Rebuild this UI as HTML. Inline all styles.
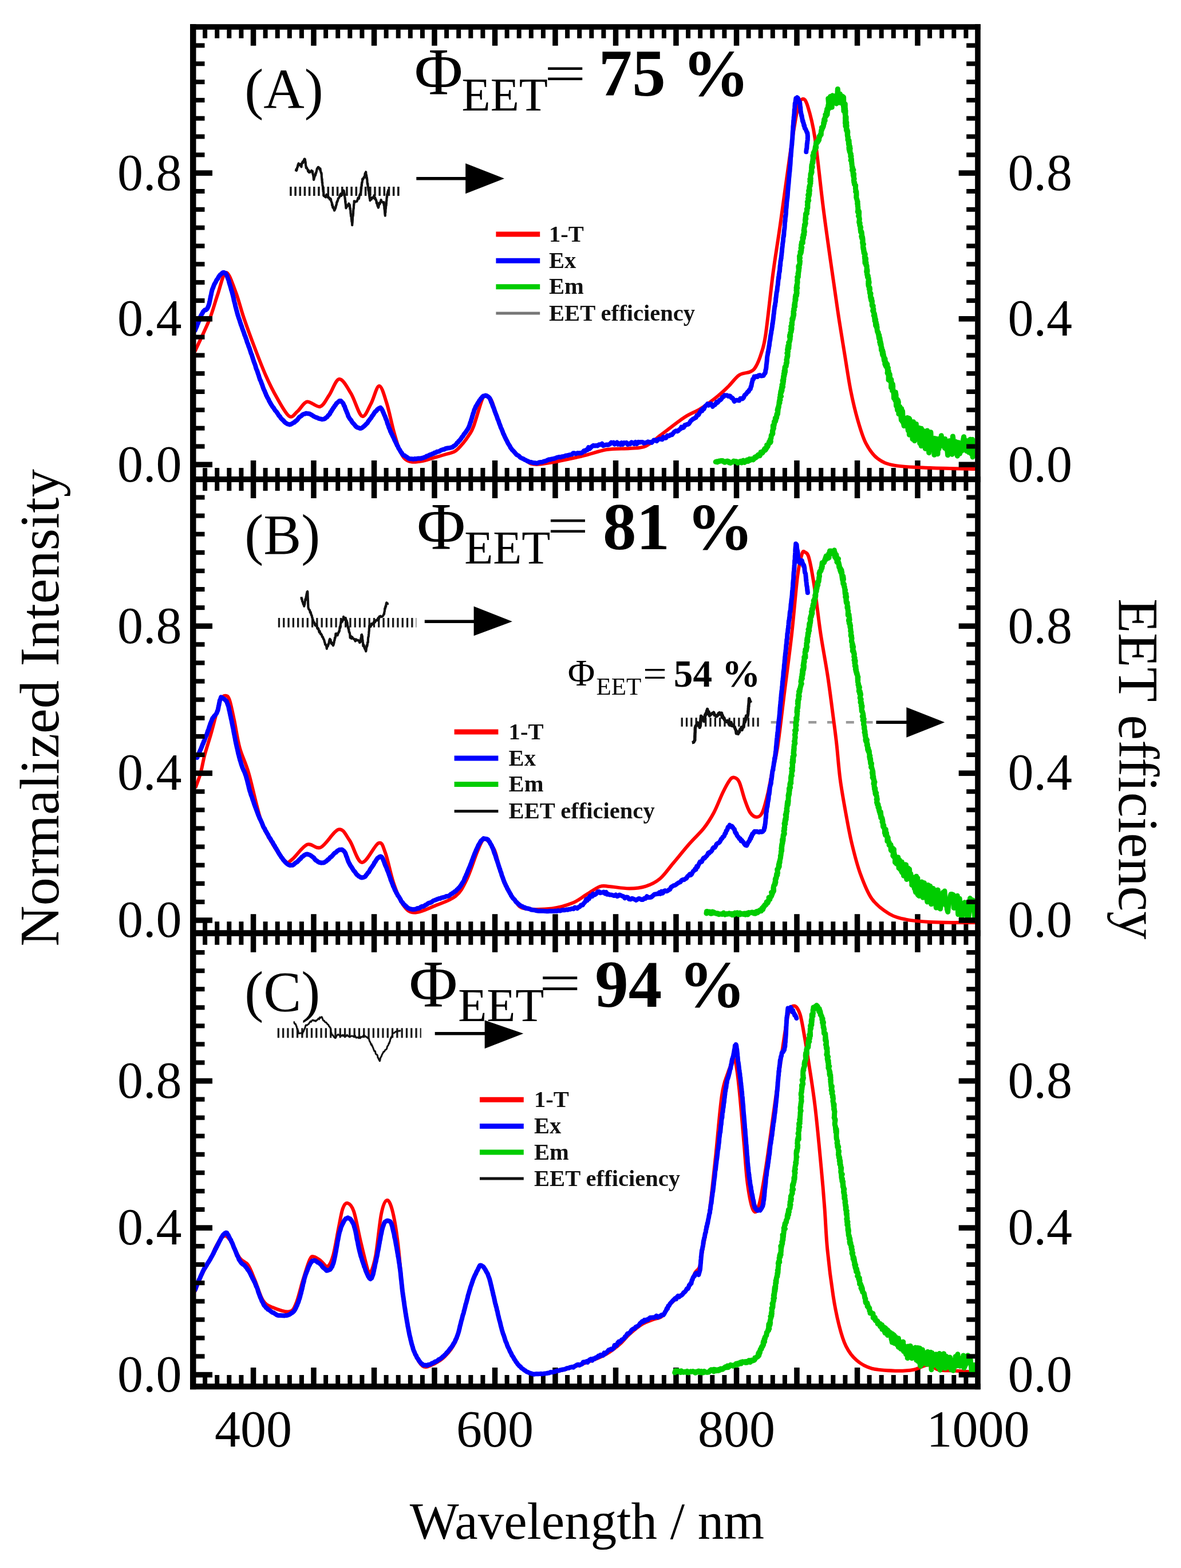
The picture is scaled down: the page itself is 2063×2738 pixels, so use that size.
<!DOCTYPE html>
<html><head><meta charset="utf-8"><title>EET spectra</title>
<style>
html,body{margin:0;padding:0;background:#fff;}
body{width:2063px;height:2738px;overflow:hidden;}
svg{display:block;}
text{font-family:'Liberation Serif', 'Times New Roman', serif;}
</style></head><body>
<svg width="2063" height="2738" viewBox="0 0 2063 2738">
<rect x="0" y="0" width="2063" height="2738" fill="#fff"/>
<rect x="332.0" y="42.2" width="1380.8" height="9.6" fill="#000"/>
<rect x="332.0" y="832.0" width="1380.8" height="10.0" fill="#000"/>
<rect x="332.0" y="1624.2" width="1380.8" height="10.6" fill="#000"/>
<rect x="332.0" y="2416.0" width="1380.8" height="10.2" fill="#000"/>
<rect x="354.1" y="51.3" width="8.0" height="15.5" fill="#000"/>
<rect x="354.1" y="841.5" width="8.0" height="15.5" fill="#000"/>
<rect x="354.1" y="817.0" width="8.0" height="15.5" fill="#000"/>
<rect x="354.1" y="1634.3" width="8.0" height="15.5" fill="#000"/>
<rect x="354.1" y="1609.2" width="8.0" height="15.5" fill="#000"/>
<rect x="354.1" y="2401.0" width="8.0" height="15.5" fill="#000"/>
<rect x="375.2" y="51.3" width="8.0" height="15.5" fill="#000"/>
<rect x="375.2" y="841.5" width="8.0" height="15.5" fill="#000"/>
<rect x="375.2" y="817.0" width="8.0" height="15.5" fill="#000"/>
<rect x="375.2" y="1634.3" width="8.0" height="15.5" fill="#000"/>
<rect x="375.2" y="1609.2" width="8.0" height="15.5" fill="#000"/>
<rect x="375.2" y="2401.0" width="8.0" height="15.5" fill="#000"/>
<rect x="396.3" y="51.3" width="8.0" height="15.5" fill="#000"/>
<rect x="396.3" y="841.5" width="8.0" height="15.5" fill="#000"/>
<rect x="396.3" y="817.0" width="8.0" height="15.5" fill="#000"/>
<rect x="396.3" y="1634.3" width="8.0" height="15.5" fill="#000"/>
<rect x="396.3" y="1609.2" width="8.0" height="15.5" fill="#000"/>
<rect x="396.3" y="2401.0" width="8.0" height="15.5" fill="#000"/>
<rect x="417.4" y="51.3" width="8.0" height="15.5" fill="#000"/>
<rect x="417.4" y="841.5" width="8.0" height="15.5" fill="#000"/>
<rect x="417.4" y="817.0" width="8.0" height="15.5" fill="#000"/>
<rect x="417.4" y="1634.3" width="8.0" height="15.5" fill="#000"/>
<rect x="417.4" y="1609.2" width="8.0" height="15.5" fill="#000"/>
<rect x="417.4" y="2401.0" width="8.0" height="15.5" fill="#000"/>
<rect x="437.8" y="51.3" width="9.5" height="28.5" fill="#000"/>
<rect x="437.8" y="841.5" width="9.5" height="28.5" fill="#000"/>
<rect x="437.8" y="804.0" width="9.5" height="28.5" fill="#000"/>
<rect x="437.8" y="1634.3" width="9.5" height="28.5" fill="#000"/>
<rect x="437.8" y="1596.2" width="9.5" height="28.5" fill="#000"/>
<rect x="437.8" y="2388.0" width="9.5" height="28.5" fill="#000"/>
<rect x="459.6" y="51.3" width="8.0" height="15.5" fill="#000"/>
<rect x="459.6" y="841.5" width="8.0" height="15.5" fill="#000"/>
<rect x="459.6" y="817.0" width="8.0" height="15.5" fill="#000"/>
<rect x="459.6" y="1634.3" width="8.0" height="15.5" fill="#000"/>
<rect x="459.6" y="1609.2" width="8.0" height="15.5" fill="#000"/>
<rect x="459.6" y="2401.0" width="8.0" height="15.5" fill="#000"/>
<rect x="480.7" y="51.3" width="8.0" height="15.5" fill="#000"/>
<rect x="480.7" y="841.5" width="8.0" height="15.5" fill="#000"/>
<rect x="480.7" y="817.0" width="8.0" height="15.5" fill="#000"/>
<rect x="480.7" y="1634.3" width="8.0" height="15.5" fill="#000"/>
<rect x="480.7" y="1609.2" width="8.0" height="15.5" fill="#000"/>
<rect x="480.7" y="2401.0" width="8.0" height="15.5" fill="#000"/>
<rect x="501.8" y="51.3" width="8.0" height="15.5" fill="#000"/>
<rect x="501.8" y="841.5" width="8.0" height="15.5" fill="#000"/>
<rect x="501.8" y="817.0" width="8.0" height="15.5" fill="#000"/>
<rect x="501.8" y="1634.3" width="8.0" height="15.5" fill="#000"/>
<rect x="501.8" y="1609.2" width="8.0" height="15.5" fill="#000"/>
<rect x="501.8" y="2401.0" width="8.0" height="15.5" fill="#000"/>
<rect x="522.9" y="51.3" width="8.0" height="15.5" fill="#000"/>
<rect x="522.9" y="841.5" width="8.0" height="15.5" fill="#000"/>
<rect x="522.9" y="817.0" width="8.0" height="15.5" fill="#000"/>
<rect x="522.9" y="1634.3" width="8.0" height="15.5" fill="#000"/>
<rect x="522.9" y="1609.2" width="8.0" height="15.5" fill="#000"/>
<rect x="522.9" y="2401.0" width="8.0" height="15.5" fill="#000"/>
<rect x="543.2" y="51.3" width="9.5" height="28.5" fill="#000"/>
<rect x="543.2" y="841.5" width="9.5" height="28.5" fill="#000"/>
<rect x="543.2" y="804.0" width="9.5" height="28.5" fill="#000"/>
<rect x="543.2" y="1634.3" width="9.5" height="28.5" fill="#000"/>
<rect x="543.2" y="1596.2" width="9.5" height="28.5" fill="#000"/>
<rect x="543.2" y="2388.0" width="9.5" height="28.5" fill="#000"/>
<rect x="565.1" y="51.3" width="8.0" height="15.5" fill="#000"/>
<rect x="565.1" y="841.5" width="8.0" height="15.5" fill="#000"/>
<rect x="565.1" y="817.0" width="8.0" height="15.5" fill="#000"/>
<rect x="565.1" y="1634.3" width="8.0" height="15.5" fill="#000"/>
<rect x="565.1" y="1609.2" width="8.0" height="15.5" fill="#000"/>
<rect x="565.1" y="2401.0" width="8.0" height="15.5" fill="#000"/>
<rect x="586.2" y="51.3" width="8.0" height="15.5" fill="#000"/>
<rect x="586.2" y="841.5" width="8.0" height="15.5" fill="#000"/>
<rect x="586.2" y="817.0" width="8.0" height="15.5" fill="#000"/>
<rect x="586.2" y="1634.3" width="8.0" height="15.5" fill="#000"/>
<rect x="586.2" y="1609.2" width="8.0" height="15.5" fill="#000"/>
<rect x="586.2" y="2401.0" width="8.0" height="15.5" fill="#000"/>
<rect x="607.3" y="51.3" width="8.0" height="15.5" fill="#000"/>
<rect x="607.3" y="841.5" width="8.0" height="15.5" fill="#000"/>
<rect x="607.3" y="817.0" width="8.0" height="15.5" fill="#000"/>
<rect x="607.3" y="1634.3" width="8.0" height="15.5" fill="#000"/>
<rect x="607.3" y="1609.2" width="8.0" height="15.5" fill="#000"/>
<rect x="607.3" y="2401.0" width="8.0" height="15.5" fill="#000"/>
<rect x="628.4" y="51.3" width="8.0" height="15.5" fill="#000"/>
<rect x="628.4" y="841.5" width="8.0" height="15.5" fill="#000"/>
<rect x="628.4" y="817.0" width="8.0" height="15.5" fill="#000"/>
<rect x="628.4" y="1634.3" width="8.0" height="15.5" fill="#000"/>
<rect x="628.4" y="1609.2" width="8.0" height="15.5" fill="#000"/>
<rect x="628.4" y="2401.0" width="8.0" height="15.5" fill="#000"/>
<rect x="648.8" y="51.3" width="9.5" height="28.5" fill="#000"/>
<rect x="648.8" y="841.5" width="9.5" height="28.5" fill="#000"/>
<rect x="648.8" y="804.0" width="9.5" height="28.5" fill="#000"/>
<rect x="648.8" y="1634.3" width="9.5" height="28.5" fill="#000"/>
<rect x="648.8" y="1596.2" width="9.5" height="28.5" fill="#000"/>
<rect x="648.8" y="2388.0" width="9.5" height="28.5" fill="#000"/>
<rect x="670.6" y="51.3" width="8.0" height="15.5" fill="#000"/>
<rect x="670.6" y="841.5" width="8.0" height="15.5" fill="#000"/>
<rect x="670.6" y="817.0" width="8.0" height="15.5" fill="#000"/>
<rect x="670.6" y="1634.3" width="8.0" height="15.5" fill="#000"/>
<rect x="670.6" y="1609.2" width="8.0" height="15.5" fill="#000"/>
<rect x="670.6" y="2401.0" width="8.0" height="15.5" fill="#000"/>
<rect x="691.7" y="51.3" width="8.0" height="15.5" fill="#000"/>
<rect x="691.7" y="841.5" width="8.0" height="15.5" fill="#000"/>
<rect x="691.7" y="817.0" width="8.0" height="15.5" fill="#000"/>
<rect x="691.7" y="1634.3" width="8.0" height="15.5" fill="#000"/>
<rect x="691.7" y="1609.2" width="8.0" height="15.5" fill="#000"/>
<rect x="691.7" y="2401.0" width="8.0" height="15.5" fill="#000"/>
<rect x="712.8" y="51.3" width="8.0" height="15.5" fill="#000"/>
<rect x="712.8" y="841.5" width="8.0" height="15.5" fill="#000"/>
<rect x="712.8" y="817.0" width="8.0" height="15.5" fill="#000"/>
<rect x="712.8" y="1634.3" width="8.0" height="15.5" fill="#000"/>
<rect x="712.8" y="1609.2" width="8.0" height="15.5" fill="#000"/>
<rect x="712.8" y="2401.0" width="8.0" height="15.5" fill="#000"/>
<rect x="733.9" y="51.3" width="8.0" height="15.5" fill="#000"/>
<rect x="733.9" y="841.5" width="8.0" height="15.5" fill="#000"/>
<rect x="733.9" y="817.0" width="8.0" height="15.5" fill="#000"/>
<rect x="733.9" y="1634.3" width="8.0" height="15.5" fill="#000"/>
<rect x="733.9" y="1609.2" width="8.0" height="15.5" fill="#000"/>
<rect x="733.9" y="2401.0" width="8.0" height="15.5" fill="#000"/>
<rect x="754.2" y="51.3" width="9.5" height="28.5" fill="#000"/>
<rect x="754.2" y="841.5" width="9.5" height="28.5" fill="#000"/>
<rect x="754.2" y="804.0" width="9.5" height="28.5" fill="#000"/>
<rect x="754.2" y="1634.3" width="9.5" height="28.5" fill="#000"/>
<rect x="754.2" y="1596.2" width="9.5" height="28.5" fill="#000"/>
<rect x="754.2" y="2388.0" width="9.5" height="28.5" fill="#000"/>
<rect x="776.1" y="51.3" width="8.0" height="15.5" fill="#000"/>
<rect x="776.1" y="841.5" width="8.0" height="15.5" fill="#000"/>
<rect x="776.1" y="817.0" width="8.0" height="15.5" fill="#000"/>
<rect x="776.1" y="1634.3" width="8.0" height="15.5" fill="#000"/>
<rect x="776.1" y="1609.2" width="8.0" height="15.5" fill="#000"/>
<rect x="776.1" y="2401.0" width="8.0" height="15.5" fill="#000"/>
<rect x="797.2" y="51.3" width="8.0" height="15.5" fill="#000"/>
<rect x="797.2" y="841.5" width="8.0" height="15.5" fill="#000"/>
<rect x="797.2" y="817.0" width="8.0" height="15.5" fill="#000"/>
<rect x="797.2" y="1634.3" width="8.0" height="15.5" fill="#000"/>
<rect x="797.2" y="1609.2" width="8.0" height="15.5" fill="#000"/>
<rect x="797.2" y="2401.0" width="8.0" height="15.5" fill="#000"/>
<rect x="818.3" y="51.3" width="8.0" height="15.5" fill="#000"/>
<rect x="818.3" y="841.5" width="8.0" height="15.5" fill="#000"/>
<rect x="818.3" y="817.0" width="8.0" height="15.5" fill="#000"/>
<rect x="818.3" y="1634.3" width="8.0" height="15.5" fill="#000"/>
<rect x="818.3" y="1609.2" width="8.0" height="15.5" fill="#000"/>
<rect x="818.3" y="2401.0" width="8.0" height="15.5" fill="#000"/>
<rect x="839.4" y="51.3" width="8.0" height="15.5" fill="#000"/>
<rect x="839.4" y="841.5" width="8.0" height="15.5" fill="#000"/>
<rect x="839.4" y="817.0" width="8.0" height="15.5" fill="#000"/>
<rect x="839.4" y="1634.3" width="8.0" height="15.5" fill="#000"/>
<rect x="839.4" y="1609.2" width="8.0" height="15.5" fill="#000"/>
<rect x="839.4" y="2401.0" width="8.0" height="15.5" fill="#000"/>
<rect x="859.8" y="51.3" width="9.5" height="28.5" fill="#000"/>
<rect x="859.8" y="841.5" width="9.5" height="28.5" fill="#000"/>
<rect x="859.8" y="804.0" width="9.5" height="28.5" fill="#000"/>
<rect x="859.8" y="1634.3" width="9.5" height="28.5" fill="#000"/>
<rect x="859.8" y="1596.2" width="9.5" height="28.5" fill="#000"/>
<rect x="859.8" y="2388.0" width="9.5" height="28.5" fill="#000"/>
<rect x="881.6" y="51.3" width="8.0" height="15.5" fill="#000"/>
<rect x="881.6" y="841.5" width="8.0" height="15.5" fill="#000"/>
<rect x="881.6" y="817.0" width="8.0" height="15.5" fill="#000"/>
<rect x="881.6" y="1634.3" width="8.0" height="15.5" fill="#000"/>
<rect x="881.6" y="1609.2" width="8.0" height="15.5" fill="#000"/>
<rect x="881.6" y="2401.0" width="8.0" height="15.5" fill="#000"/>
<rect x="902.7" y="51.3" width="8.0" height="15.5" fill="#000"/>
<rect x="902.7" y="841.5" width="8.0" height="15.5" fill="#000"/>
<rect x="902.7" y="817.0" width="8.0" height="15.5" fill="#000"/>
<rect x="902.7" y="1634.3" width="8.0" height="15.5" fill="#000"/>
<rect x="902.7" y="1609.2" width="8.0" height="15.5" fill="#000"/>
<rect x="902.7" y="2401.0" width="8.0" height="15.5" fill="#000"/>
<rect x="923.8" y="51.3" width="8.0" height="15.5" fill="#000"/>
<rect x="923.8" y="841.5" width="8.0" height="15.5" fill="#000"/>
<rect x="923.8" y="817.0" width="8.0" height="15.5" fill="#000"/>
<rect x="923.8" y="1634.3" width="8.0" height="15.5" fill="#000"/>
<rect x="923.8" y="1609.2" width="8.0" height="15.5" fill="#000"/>
<rect x="923.8" y="2401.0" width="8.0" height="15.5" fill="#000"/>
<rect x="944.9" y="51.3" width="8.0" height="15.5" fill="#000"/>
<rect x="944.9" y="841.5" width="8.0" height="15.5" fill="#000"/>
<rect x="944.9" y="817.0" width="8.0" height="15.5" fill="#000"/>
<rect x="944.9" y="1634.3" width="8.0" height="15.5" fill="#000"/>
<rect x="944.9" y="1609.2" width="8.0" height="15.5" fill="#000"/>
<rect x="944.9" y="2401.0" width="8.0" height="15.5" fill="#000"/>
<rect x="965.2" y="51.3" width="9.5" height="28.5" fill="#000"/>
<rect x="965.2" y="841.5" width="9.5" height="28.5" fill="#000"/>
<rect x="965.2" y="804.0" width="9.5" height="28.5" fill="#000"/>
<rect x="965.2" y="1634.3" width="9.5" height="28.5" fill="#000"/>
<rect x="965.2" y="1596.2" width="9.5" height="28.5" fill="#000"/>
<rect x="965.2" y="2388.0" width="9.5" height="28.5" fill="#000"/>
<rect x="987.1" y="51.3" width="8.0" height="15.5" fill="#000"/>
<rect x="987.1" y="841.5" width="8.0" height="15.5" fill="#000"/>
<rect x="987.1" y="817.0" width="8.0" height="15.5" fill="#000"/>
<rect x="987.1" y="1634.3" width="8.0" height="15.5" fill="#000"/>
<rect x="987.1" y="1609.2" width="8.0" height="15.5" fill="#000"/>
<rect x="987.1" y="2401.0" width="8.0" height="15.5" fill="#000"/>
<rect x="1008.2" y="51.3" width="8.0" height="15.5" fill="#000"/>
<rect x="1008.2" y="841.5" width="8.0" height="15.5" fill="#000"/>
<rect x="1008.2" y="817.0" width="8.0" height="15.5" fill="#000"/>
<rect x="1008.2" y="1634.3" width="8.0" height="15.5" fill="#000"/>
<rect x="1008.2" y="1609.2" width="8.0" height="15.5" fill="#000"/>
<rect x="1008.2" y="2401.0" width="8.0" height="15.5" fill="#000"/>
<rect x="1029.3" y="51.3" width="8.0" height="15.5" fill="#000"/>
<rect x="1029.3" y="841.5" width="8.0" height="15.5" fill="#000"/>
<rect x="1029.3" y="817.0" width="8.0" height="15.5" fill="#000"/>
<rect x="1029.3" y="1634.3" width="8.0" height="15.5" fill="#000"/>
<rect x="1029.3" y="1609.2" width="8.0" height="15.5" fill="#000"/>
<rect x="1029.3" y="2401.0" width="8.0" height="15.5" fill="#000"/>
<rect x="1050.4" y="51.3" width="8.0" height="15.5" fill="#000"/>
<rect x="1050.4" y="841.5" width="8.0" height="15.5" fill="#000"/>
<rect x="1050.4" y="817.0" width="8.0" height="15.5" fill="#000"/>
<rect x="1050.4" y="1634.3" width="8.0" height="15.5" fill="#000"/>
<rect x="1050.4" y="1609.2" width="8.0" height="15.5" fill="#000"/>
<rect x="1050.4" y="2401.0" width="8.0" height="15.5" fill="#000"/>
<rect x="1070.8" y="51.3" width="9.5" height="28.5" fill="#000"/>
<rect x="1070.8" y="841.5" width="9.5" height="28.5" fill="#000"/>
<rect x="1070.8" y="804.0" width="9.5" height="28.5" fill="#000"/>
<rect x="1070.8" y="1634.3" width="9.5" height="28.5" fill="#000"/>
<rect x="1070.8" y="1596.2" width="9.5" height="28.5" fill="#000"/>
<rect x="1070.8" y="2388.0" width="9.5" height="28.5" fill="#000"/>
<rect x="1092.6" y="51.3" width="8.0" height="15.5" fill="#000"/>
<rect x="1092.6" y="841.5" width="8.0" height="15.5" fill="#000"/>
<rect x="1092.6" y="817.0" width="8.0" height="15.5" fill="#000"/>
<rect x="1092.6" y="1634.3" width="8.0" height="15.5" fill="#000"/>
<rect x="1092.6" y="1609.2" width="8.0" height="15.5" fill="#000"/>
<rect x="1092.6" y="2401.0" width="8.0" height="15.5" fill="#000"/>
<rect x="1113.7" y="51.3" width="8.0" height="15.5" fill="#000"/>
<rect x="1113.7" y="841.5" width="8.0" height="15.5" fill="#000"/>
<rect x="1113.7" y="817.0" width="8.0" height="15.5" fill="#000"/>
<rect x="1113.7" y="1634.3" width="8.0" height="15.5" fill="#000"/>
<rect x="1113.7" y="1609.2" width="8.0" height="15.5" fill="#000"/>
<rect x="1113.7" y="2401.0" width="8.0" height="15.5" fill="#000"/>
<rect x="1134.8" y="51.3" width="8.0" height="15.5" fill="#000"/>
<rect x="1134.8" y="841.5" width="8.0" height="15.5" fill="#000"/>
<rect x="1134.8" y="817.0" width="8.0" height="15.5" fill="#000"/>
<rect x="1134.8" y="1634.3" width="8.0" height="15.5" fill="#000"/>
<rect x="1134.8" y="1609.2" width="8.0" height="15.5" fill="#000"/>
<rect x="1134.8" y="2401.0" width="8.0" height="15.5" fill="#000"/>
<rect x="1155.9" y="51.3" width="8.0" height="15.5" fill="#000"/>
<rect x="1155.9" y="841.5" width="8.0" height="15.5" fill="#000"/>
<rect x="1155.9" y="817.0" width="8.0" height="15.5" fill="#000"/>
<rect x="1155.9" y="1634.3" width="8.0" height="15.5" fill="#000"/>
<rect x="1155.9" y="1609.2" width="8.0" height="15.5" fill="#000"/>
<rect x="1155.9" y="2401.0" width="8.0" height="15.5" fill="#000"/>
<rect x="1176.2" y="51.3" width="9.5" height="28.5" fill="#000"/>
<rect x="1176.2" y="841.5" width="9.5" height="28.5" fill="#000"/>
<rect x="1176.2" y="804.0" width="9.5" height="28.5" fill="#000"/>
<rect x="1176.2" y="1634.3" width="9.5" height="28.5" fill="#000"/>
<rect x="1176.2" y="1596.2" width="9.5" height="28.5" fill="#000"/>
<rect x="1176.2" y="2388.0" width="9.5" height="28.5" fill="#000"/>
<rect x="1198.1" y="51.3" width="8.0" height="15.5" fill="#000"/>
<rect x="1198.1" y="841.5" width="8.0" height="15.5" fill="#000"/>
<rect x="1198.1" y="817.0" width="8.0" height="15.5" fill="#000"/>
<rect x="1198.1" y="1634.3" width="8.0" height="15.5" fill="#000"/>
<rect x="1198.1" y="1609.2" width="8.0" height="15.5" fill="#000"/>
<rect x="1198.1" y="2401.0" width="8.0" height="15.5" fill="#000"/>
<rect x="1219.2" y="51.3" width="8.0" height="15.5" fill="#000"/>
<rect x="1219.2" y="841.5" width="8.0" height="15.5" fill="#000"/>
<rect x="1219.2" y="817.0" width="8.0" height="15.5" fill="#000"/>
<rect x="1219.2" y="1634.3" width="8.0" height="15.5" fill="#000"/>
<rect x="1219.2" y="1609.2" width="8.0" height="15.5" fill="#000"/>
<rect x="1219.2" y="2401.0" width="8.0" height="15.5" fill="#000"/>
<rect x="1240.3" y="51.3" width="8.0" height="15.5" fill="#000"/>
<rect x="1240.3" y="841.5" width="8.0" height="15.5" fill="#000"/>
<rect x="1240.3" y="817.0" width="8.0" height="15.5" fill="#000"/>
<rect x="1240.3" y="1634.3" width="8.0" height="15.5" fill="#000"/>
<rect x="1240.3" y="1609.2" width="8.0" height="15.5" fill="#000"/>
<rect x="1240.3" y="2401.0" width="8.0" height="15.5" fill="#000"/>
<rect x="1261.4" y="51.3" width="8.0" height="15.5" fill="#000"/>
<rect x="1261.4" y="841.5" width="8.0" height="15.5" fill="#000"/>
<rect x="1261.4" y="817.0" width="8.0" height="15.5" fill="#000"/>
<rect x="1261.4" y="1634.3" width="8.0" height="15.5" fill="#000"/>
<rect x="1261.4" y="1609.2" width="8.0" height="15.5" fill="#000"/>
<rect x="1261.4" y="2401.0" width="8.0" height="15.5" fill="#000"/>
<rect x="1281.8" y="51.3" width="9.5" height="28.5" fill="#000"/>
<rect x="1281.8" y="841.5" width="9.5" height="28.5" fill="#000"/>
<rect x="1281.8" y="804.0" width="9.5" height="28.5" fill="#000"/>
<rect x="1281.8" y="1634.3" width="9.5" height="28.5" fill="#000"/>
<rect x="1281.8" y="1596.2" width="9.5" height="28.5" fill="#000"/>
<rect x="1281.8" y="2388.0" width="9.5" height="28.5" fill="#000"/>
<rect x="1303.6" y="51.3" width="8.0" height="15.5" fill="#000"/>
<rect x="1303.6" y="841.5" width="8.0" height="15.5" fill="#000"/>
<rect x="1303.6" y="817.0" width="8.0" height="15.5" fill="#000"/>
<rect x="1303.6" y="1634.3" width="8.0" height="15.5" fill="#000"/>
<rect x="1303.6" y="1609.2" width="8.0" height="15.5" fill="#000"/>
<rect x="1303.6" y="2401.0" width="8.0" height="15.5" fill="#000"/>
<rect x="1324.7" y="51.3" width="8.0" height="15.5" fill="#000"/>
<rect x="1324.7" y="841.5" width="8.0" height="15.5" fill="#000"/>
<rect x="1324.7" y="817.0" width="8.0" height="15.5" fill="#000"/>
<rect x="1324.7" y="1634.3" width="8.0" height="15.5" fill="#000"/>
<rect x="1324.7" y="1609.2" width="8.0" height="15.5" fill="#000"/>
<rect x="1324.7" y="2401.0" width="8.0" height="15.5" fill="#000"/>
<rect x="1345.8" y="51.3" width="8.0" height="15.5" fill="#000"/>
<rect x="1345.8" y="841.5" width="8.0" height="15.5" fill="#000"/>
<rect x="1345.8" y="817.0" width="8.0" height="15.5" fill="#000"/>
<rect x="1345.8" y="1634.3" width="8.0" height="15.5" fill="#000"/>
<rect x="1345.8" y="1609.2" width="8.0" height="15.5" fill="#000"/>
<rect x="1345.8" y="2401.0" width="8.0" height="15.5" fill="#000"/>
<rect x="1366.9" y="51.3" width="8.0" height="15.5" fill="#000"/>
<rect x="1366.9" y="841.5" width="8.0" height="15.5" fill="#000"/>
<rect x="1366.9" y="817.0" width="8.0" height="15.5" fill="#000"/>
<rect x="1366.9" y="1634.3" width="8.0" height="15.5" fill="#000"/>
<rect x="1366.9" y="1609.2" width="8.0" height="15.5" fill="#000"/>
<rect x="1366.9" y="2401.0" width="8.0" height="15.5" fill="#000"/>
<rect x="1387.2" y="51.3" width="9.5" height="28.5" fill="#000"/>
<rect x="1387.2" y="841.5" width="9.5" height="28.5" fill="#000"/>
<rect x="1387.2" y="804.0" width="9.5" height="28.5" fill="#000"/>
<rect x="1387.2" y="1634.3" width="9.5" height="28.5" fill="#000"/>
<rect x="1387.2" y="1596.2" width="9.5" height="28.5" fill="#000"/>
<rect x="1387.2" y="2388.0" width="9.5" height="28.5" fill="#000"/>
<rect x="1409.1" y="51.3" width="8.0" height="15.5" fill="#000"/>
<rect x="1409.1" y="841.5" width="8.0" height="15.5" fill="#000"/>
<rect x="1409.1" y="817.0" width="8.0" height="15.5" fill="#000"/>
<rect x="1409.1" y="1634.3" width="8.0" height="15.5" fill="#000"/>
<rect x="1409.1" y="1609.2" width="8.0" height="15.5" fill="#000"/>
<rect x="1409.1" y="2401.0" width="8.0" height="15.5" fill="#000"/>
<rect x="1430.2" y="51.3" width="8.0" height="15.5" fill="#000"/>
<rect x="1430.2" y="841.5" width="8.0" height="15.5" fill="#000"/>
<rect x="1430.2" y="817.0" width="8.0" height="15.5" fill="#000"/>
<rect x="1430.2" y="1634.3" width="8.0" height="15.5" fill="#000"/>
<rect x="1430.2" y="1609.2" width="8.0" height="15.5" fill="#000"/>
<rect x="1430.2" y="2401.0" width="8.0" height="15.5" fill="#000"/>
<rect x="1451.3" y="51.3" width="8.0" height="15.5" fill="#000"/>
<rect x="1451.3" y="841.5" width="8.0" height="15.5" fill="#000"/>
<rect x="1451.3" y="817.0" width="8.0" height="15.5" fill="#000"/>
<rect x="1451.3" y="1634.3" width="8.0" height="15.5" fill="#000"/>
<rect x="1451.3" y="1609.2" width="8.0" height="15.5" fill="#000"/>
<rect x="1451.3" y="2401.0" width="8.0" height="15.5" fill="#000"/>
<rect x="1472.4" y="51.3" width="8.0" height="15.5" fill="#000"/>
<rect x="1472.4" y="841.5" width="8.0" height="15.5" fill="#000"/>
<rect x="1472.4" y="817.0" width="8.0" height="15.5" fill="#000"/>
<rect x="1472.4" y="1634.3" width="8.0" height="15.5" fill="#000"/>
<rect x="1472.4" y="1609.2" width="8.0" height="15.5" fill="#000"/>
<rect x="1472.4" y="2401.0" width="8.0" height="15.5" fill="#000"/>
<rect x="1492.8" y="51.3" width="9.5" height="28.5" fill="#000"/>
<rect x="1492.8" y="841.5" width="9.5" height="28.5" fill="#000"/>
<rect x="1492.8" y="804.0" width="9.5" height="28.5" fill="#000"/>
<rect x="1492.8" y="1634.3" width="9.5" height="28.5" fill="#000"/>
<rect x="1492.8" y="1596.2" width="9.5" height="28.5" fill="#000"/>
<rect x="1492.8" y="2388.0" width="9.5" height="28.5" fill="#000"/>
<rect x="1514.6" y="51.3" width="8.0" height="15.5" fill="#000"/>
<rect x="1514.6" y="841.5" width="8.0" height="15.5" fill="#000"/>
<rect x="1514.6" y="817.0" width="8.0" height="15.5" fill="#000"/>
<rect x="1514.6" y="1634.3" width="8.0" height="15.5" fill="#000"/>
<rect x="1514.6" y="1609.2" width="8.0" height="15.5" fill="#000"/>
<rect x="1514.6" y="2401.0" width="8.0" height="15.5" fill="#000"/>
<rect x="1535.7" y="51.3" width="8.0" height="15.5" fill="#000"/>
<rect x="1535.7" y="841.5" width="8.0" height="15.5" fill="#000"/>
<rect x="1535.7" y="817.0" width="8.0" height="15.5" fill="#000"/>
<rect x="1535.7" y="1634.3" width="8.0" height="15.5" fill="#000"/>
<rect x="1535.7" y="1609.2" width="8.0" height="15.5" fill="#000"/>
<rect x="1535.7" y="2401.0" width="8.0" height="15.5" fill="#000"/>
<rect x="1556.8" y="51.3" width="8.0" height="15.5" fill="#000"/>
<rect x="1556.8" y="841.5" width="8.0" height="15.5" fill="#000"/>
<rect x="1556.8" y="817.0" width="8.0" height="15.5" fill="#000"/>
<rect x="1556.8" y="1634.3" width="8.0" height="15.5" fill="#000"/>
<rect x="1556.8" y="1609.2" width="8.0" height="15.5" fill="#000"/>
<rect x="1556.8" y="2401.0" width="8.0" height="15.5" fill="#000"/>
<rect x="1577.9" y="51.3" width="8.0" height="15.5" fill="#000"/>
<rect x="1577.9" y="841.5" width="8.0" height="15.5" fill="#000"/>
<rect x="1577.9" y="817.0" width="8.0" height="15.5" fill="#000"/>
<rect x="1577.9" y="1634.3" width="8.0" height="15.5" fill="#000"/>
<rect x="1577.9" y="1609.2" width="8.0" height="15.5" fill="#000"/>
<rect x="1577.9" y="2401.0" width="8.0" height="15.5" fill="#000"/>
<rect x="1598.2" y="51.3" width="9.5" height="28.5" fill="#000"/>
<rect x="1598.2" y="841.5" width="9.5" height="28.5" fill="#000"/>
<rect x="1598.2" y="804.0" width="9.5" height="28.5" fill="#000"/>
<rect x="1598.2" y="1634.3" width="9.5" height="28.5" fill="#000"/>
<rect x="1598.2" y="1596.2" width="9.5" height="28.5" fill="#000"/>
<rect x="1598.2" y="2388.0" width="9.5" height="28.5" fill="#000"/>
<rect x="1620.1" y="51.3" width="8.0" height="15.5" fill="#000"/>
<rect x="1620.1" y="841.5" width="8.0" height="15.5" fill="#000"/>
<rect x="1620.1" y="817.0" width="8.0" height="15.5" fill="#000"/>
<rect x="1620.1" y="1634.3" width="8.0" height="15.5" fill="#000"/>
<rect x="1620.1" y="1609.2" width="8.0" height="15.5" fill="#000"/>
<rect x="1620.1" y="2401.0" width="8.0" height="15.5" fill="#000"/>
<rect x="1641.2" y="51.3" width="8.0" height="15.5" fill="#000"/>
<rect x="1641.2" y="841.5" width="8.0" height="15.5" fill="#000"/>
<rect x="1641.2" y="817.0" width="8.0" height="15.5" fill="#000"/>
<rect x="1641.2" y="1634.3" width="8.0" height="15.5" fill="#000"/>
<rect x="1641.2" y="1609.2" width="8.0" height="15.5" fill="#000"/>
<rect x="1641.2" y="2401.0" width="8.0" height="15.5" fill="#000"/>
<rect x="1662.3" y="51.3" width="8.0" height="15.5" fill="#000"/>
<rect x="1662.3" y="841.5" width="8.0" height="15.5" fill="#000"/>
<rect x="1662.3" y="817.0" width="8.0" height="15.5" fill="#000"/>
<rect x="1662.3" y="1634.3" width="8.0" height="15.5" fill="#000"/>
<rect x="1662.3" y="1609.2" width="8.0" height="15.5" fill="#000"/>
<rect x="1662.3" y="2401.0" width="8.0" height="15.5" fill="#000"/>
<rect x="1683.4" y="51.3" width="8.0" height="15.5" fill="#000"/>
<rect x="1683.4" y="841.5" width="8.0" height="15.5" fill="#000"/>
<rect x="1683.4" y="817.0" width="8.0" height="15.5" fill="#000"/>
<rect x="1683.4" y="1634.3" width="8.0" height="15.5" fill="#000"/>
<rect x="1683.4" y="1609.2" width="8.0" height="15.5" fill="#000"/>
<rect x="1683.4" y="2401.0" width="8.0" height="15.5" fill="#000"/>
<line x1="506.1" y1="334.0" x2="698.0" y2="334.0" stroke="#1a1a1a" stroke-width="16.0" stroke-dasharray="3.6 4.57"/>
<line x1="485.8" y1="1087.2" x2="727.3" y2="1087.2" stroke="#1a1a1a" stroke-width="16.5" stroke-dasharray="3.3 5.0"/>
<line x1="484.7" y1="1803.7" x2="735.8" y2="1803.7" stroke="#1a1a1a" stroke-width="17.0" stroke-dasharray="3.3 5.0"/>
<line x1="1189.6" y1="1260.9" x2="1326.0" y2="1260.9" stroke="#1a1a1a" stroke-width="15.5" stroke-dasharray="3.3 5.0"/>
<line x1="1346.6" y1="1261.3" x2="1528" y2="1261.3" stroke="#999999" stroke-width="4.5" stroke-dasharray="14 18.8"/>
<path d="M516.8,299.0 L517.4,295.6 L518.0,297.9 L518.6,296.2 L519.2,292.4 L519.8,291.9 L520.4,288.2 L521.0,286.7 L521.6,285.5 L523.2,288.4 L524.8,286.8 L526.4,291.4 L527.1,285.4 L527.9,284.5 L528.6,282.4 L529.4,284.3 L530.1,280.8 L530.9,279.9 L531.6,277.6 L532.4,277.7 L532.7,278.1 L532.9,278.7 L533.2,281.5 L533.5,282.4 L533.7,283.1 L534.0,288.2 L534.3,289.1 L534.5,290.6 L534.8,293.3 L535.5,292.2 L536.2,293.5 L536.9,295.1 L537.5,296.4 L538.2,299.1 L538.9,297.2 L539.6,300.8 L541.1,300.9 L542.6,299.6 L544.1,297.7 L545.6,300.8 L545.9,299.0 L546.2,303.4 L546.5,303.0 L546.8,304.1 L547.1,306.5 L547.4,307.5 L547.7,309.6 L548.0,313.9 L548.5,312.7 L549.0,309.4 L549.4,309.4 L549.9,307.1 L550.4,305.8 L550.9,306.2 L551.4,302.0 L551.8,303.3 L552.3,301.0 L552.8,299.5 L553.8,294.7 L554.7,293.6 L555.7,291.9 L556.6,292.1 L557.6,293.6 L558.2,294.9 L558.8,296.3 L559.4,294.3 L560.0,298.8 L560.6,300.8 L561.2,302.5 L561.4,304.0 L561.5,302.2 L561.7,303.9 L561.8,308.5 L562.0,309.7 L562.1,312.0 L562.2,311.2 L562.4,314.9 L562.6,312.7 L562.7,318.3 L562.9,319.4 L563.0,318.2 L563.1,318.3 L563.3,322.2 L563.5,324.4 L563.6,324.3 L563.8,324.3 L564.0,326.9 L564.2,331.1 L564.4,329.0 L564.6,334.7 L564.8,332.8 L565.0,334.0 L565.2,335.1 L565.4,340.9 L565.6,342.0 L565.8,340.6 L566.0,341.0 L567.5,343.5 L569.0,344.3 L570.5,339.7 L572.0,342.5 L573.0,344.8 L574.0,344.0 L575.0,345.7 L576.0,348.1 L577.0,346.5 L578.0,347.9 L578.4,351.3 L578.9,352.2 L579.3,353.5 L579.7,354.0 L580.1,358.5 L580.6,356.7 L581.0,360.1 L581.4,362.6 L581.9,361.6 L582.3,361.3 L582.7,363.6 L583.1,364.3 L583.6,366.2 L584.0,367.5 L584.4,367.2 L584.9,365.8 L585.3,364.8 L585.7,364.4 L586.1,363.0 L586.6,361.6 L587.0,358.5 L587.4,358.6 L587.9,356.5 L588.3,353.0 L588.7,353.6 L589.1,351.0 L589.6,351.3 L590.0,350.2 L590.9,346.3 L591.7,345.9 L592.6,344.7 L593.4,342.5 L594.3,339.8 L595.1,338.5 L596.0,341.9 L597.0,339.2 L597.9,336.2 L598.9,335.9 L599.8,332.5 L600.8,333.3 L601.0,336.0 L601.2,336.6 L601.4,336.6 L601.6,340.7 L601.7,341.9 L601.9,339.1 L602.1,342.4 L602.3,344.1 L602.5,344.7 L602.7,347.9 L602.9,347.1 L603.1,351.6 L603.3,353.7 L603.5,351.2 L603.6,355.9 L603.8,355.3 L604.0,358.7 L604.2,360.4 L604.4,363.4 L605.6,361.5 L606.8,358.3 L608.0,359.3 L609.2,355.4 L610.4,357.3 L610.6,357.3 L610.8,358.1 L611.0,359.4 L611.2,360.8 L611.4,365.2 L611.7,363.3 L611.9,365.5 L612.1,366.8 L612.3,368.1 L612.5,372.5 L612.7,373.3 L612.9,375.2 L613.1,377.9 L613.3,377.1 L613.5,376.6 L613.7,378.9 L613.9,382.0 L614.2,384.5 L614.4,387.0 L614.6,386.5 L614.8,386.6 L615.0,390.0 L615.2,393.2 L615.3,388.6 L615.5,390.1 L615.6,388.4 L615.8,385.3 L615.9,383.3 L616.0,380.0 L616.2,378.4 L616.3,376.5 L616.4,377.8 L616.6,376.8 L616.7,376.7 L616.9,373.2 L617.0,373.7 L617.1,369.2 L617.3,366.3 L617.4,364.4 L617.6,364.0 L617.7,363.7 L617.8,364.5 L618.0,359.5 L618.1,357.7 L618.2,358.6 L618.4,355.4 L618.5,354.7 L618.7,351.2 L618.8,353.2 L620.3,352.9 L621.8,351.5 L623.3,351.8 L624.8,348.2 L625.5,345.3 L626.2,345.3 L626.9,346.9 L627.5,343.4 L628.2,340.6 L628.9,339.0 L629.6,337.7 L629.8,337.5 L630.0,338.4 L630.2,336.7 L630.4,334.5 L630.7,332.9 L630.9,328.5 L631.1,329.9 L631.3,325.6 L631.5,325.6 L631.7,321.5 L631.9,324.3 L632.1,318.9 L632.4,319.7 L632.6,318.5 L632.8,316.8 L633.0,315.5 L633.2,312.3 L634.0,313.1 L634.7,312.5 L635.5,309.5 L636.2,310.0 L637.0,308.0 L637.7,302.7 L638.5,304.4 L639.2,300.2 L639.4,304.5 L639.7,304.6 L639.9,308.5 L640.2,306.0 L640.4,312.0 L640.6,309.0 L640.9,310.6 L641.1,311.9 L641.4,314.0 L641.6,319.8 L641.8,320.6 L642.1,322.5 L642.3,320.4 L642.6,324.4 L642.8,326.5 L643.0,327.6 L643.2,326.8 L643.5,331.9 L643.7,332.1 L643.9,333.4 L644.1,332.9 L644.4,335.0 L644.6,338.3 L644.8,338.6 L645.0,339.9 L645.3,343.6 L645.5,342.6 L645.7,346.3 L645.9,343.7 L646.2,347.7 L646.4,350.1 L647.6,345.6 L648.8,348.0 L650.0,344.9 L651.2,345.6 L652.4,344.6 L653.6,341.2 L654.2,346.7 L654.8,344.7 L655.4,345.7 L656.0,348.7 L656.6,348.3 L657.2,350.0 L657.8,354.8 L658.4,353.0 L659.0,356.7 L659.6,359.9 L660.2,359.3 L660.8,362.6 L661.4,361.2 L662.0,356.3 L662.6,354.4 L663.2,356.4 L663.8,355.3 L664.4,353.8 L665.0,351.6 L665.6,349.0 L666.8,352.5 L668.0,352.6 L669.2,353.9 L670.4,355.9 L670.6,353.1 L670.7,358.1 L670.9,358.8 L671.1,357.5 L671.3,360.3 L671.4,364.1 L671.6,364.7 L671.8,366.5 L671.9,366.6 L672.1,369.6 L672.3,372.7 L672.5,374.7 L672.6,374.1 L672.8,376.6 L672.9,371.8 L673.1,370.6 L673.2,371.2 L673.4,371.0 L673.5,366.0 L673.7,364.6 L673.8,364.9 L674.0,362.4 L674.1,360.1 L674.3,358.7 L674.4,358.5 L674.6,358.9 L674.8,354.3 L674.9,355.9 L675.0,350.8 L675.2,350.2 L675.4,350.7 L675.5,345.9 L675.6,346.0 L675.8,343.7 L675.9,342.6 L676.1,344.3 L676.2,339.2 L676.4,340.5 L676.9,339.8 L677.4,334.8 L677.8,336.2 L678.3,331.8 L678.8,331.0" fill="none" stroke="#111" stroke-width="4.2" stroke-linejoin="round"/>
<path d="M526.4,1042.2 L526.9,1046.2 L527.4,1045.5 L528.0,1049.9 L528.5,1050.9 L529.0,1051.4 L529.5,1054.2 L530.1,1055.5 L530.7,1054.5 L531.2,1058.6 L531.5,1057.5 L531.8,1055.5 L532.1,1055.8 L532.4,1053.6 L532.8,1050.3 L533.1,1048.1 L533.4,1046.1 L533.7,1048.0 L534.0,1045.9 L534.4,1043.9 L534.8,1041.5 L535.2,1040.1 L535.6,1037.1 L536.0,1037.0 L536.4,1033.5 L536.8,1034.2 L537.2,1032.7 L537.3,1034.4 L537.3,1033.8 L537.4,1034.6 L537.5,1037.3 L537.5,1040.6 L537.6,1041.2 L537.7,1044.0 L537.7,1043.9 L537.8,1045.3 L537.9,1049.4 L537.9,1047.2 L538.0,1048.9 L538.1,1052.4 L538.1,1054.1 L538.2,1054.7 L538.3,1056.8 L538.3,1057.8 L538.4,1060.4 L539.1,1063.1 L539.8,1064.3 L540.5,1064.9 L541.1,1065.6 L541.8,1069.6 L542.5,1068.6 L543.2,1071.0 L543.7,1073.8 L544.2,1074.4 L544.6,1074.5 L545.1,1077.9 L545.6,1078.7 L546.1,1081.8 L546.6,1081.9 L547.0,1083.0 L547.5,1086.8 L548.0,1086.1 L549.0,1086.9 L550.0,1091.0 L551.0,1092.4 L552.0,1090.0 L553.0,1090.9 L554.0,1096.2 L554.8,1097.8 L555.5,1096.8 L556.2,1097.7 L557.0,1101.3 L557.8,1104.1 L558.5,1102.0 L559.2,1104.6 L560.0,1107.2 L560.7,1106.4 L561.4,1108.7 L562.1,1108.7 L562.7,1111.8 L563.4,1111.9 L564.1,1112.5 L564.8,1115.4 L565.3,1115.7 L565.9,1116.9 L566.4,1118.5 L567.0,1121.3 L567.5,1122.2 L568.1,1125.7 L568.6,1125.5 L569.2,1126.1 L569.7,1127.2 L570.3,1129.2 L570.8,1132.8 L571.3,1128.7 L571.9,1128.6 L572.4,1128.9 L573.0,1127.6 L573.5,1124.3 L574.1,1124.8 L574.6,1122.4 L575.2,1118.9 L575.7,1116.8 L576.3,1115.8 L576.8,1117.5 L577.4,1116.9 L578.0,1120.7 L578.6,1122.8 L579.2,1124.1 L579.8,1123.3 L580.4,1122.5 L581.0,1125.4 L581.6,1126.6 L582.0,1127.3 L582.3,1126.1 L582.7,1125.7 L583.1,1123.1 L583.4,1122.9 L583.8,1119.8 L584.2,1117.5 L584.6,1117.9 L584.9,1113.6 L585.3,1114.6 L585.7,1112.9 L586.0,1112.1 L586.4,1106.6 L588.0,1106.4 L589.6,1109.4 L591.2,1104.6 L591.6,1104.7 L591.9,1104.0 L592.3,1101.9 L592.7,1102.4 L593.0,1101.3 L593.4,1096.7 L593.8,1094.2 L594.2,1096.7 L594.5,1092.9 L594.9,1090.4 L595.3,1088.3 L595.6,1086.2 L596.0,1087.6 L596.7,1084.7 L597.4,1084.7 L598.1,1085.2 L598.7,1081.6 L599.4,1082.6 L600.1,1076.8 L600.8,1078.9 L601.8,1080.1 L602.7,1082.3 L603.7,1078.9 L604.6,1082.4 L605.6,1083.9 L605.9,1085.6 L606.3,1086.5 L606.6,1087.1 L607.0,1091.8 L607.3,1093.2 L607.7,1093.9 L608.0,1096.7 L608.3,1096.2 L608.7,1095.4 L609.0,1100.0 L609.3,1098.5 L609.6,1103.3 L610.0,1104.3 L610.3,1103.6 L610.6,1104.9 L610.9,1106.0 L611.3,1108.1 L611.6,1113.6 L612.8,1110.8 L614.0,1115.0 L615.2,1112.3 L616.4,1114.2 L617.6,1115.9 L619.1,1115.9 L620.6,1119.5 L622.1,1116.5 L623.6,1118.3 L625.1,1117.8 L626.6,1118.2 L628.1,1122.1 L629.6,1121.2 L629.8,1120.4 L630.1,1119.8 L630.3,1115.3 L630.6,1113.5 L630.8,1115.1 L631.0,1115.1 L631.3,1108.7 L631.5,1109.3 L631.8,1110.4 L632.0,1108.1 L632.2,1110.4 L632.4,1109.7 L632.6,1113.6 L632.8,1110.6 L633.0,1114.3 L633.2,1117.7 L633.4,1117.1 L633.6,1118.9 L633.8,1120.5 L634.0,1121.8 L634.2,1125.6 L634.4,1128.0 L635.1,1125.6 L635.8,1127.5 L636.5,1131.2 L637.1,1132.3 L637.8,1134.0 L638.5,1134.7 L639.2,1137.3 L639.6,1135.4 L639.9,1132.7 L640.3,1129.4 L640.6,1126.9 L641.0,1129.2 L641.4,1127.6 L641.7,1126.2 L642.1,1121.5 L642.4,1122.4 L642.8,1121.8 L642.9,1116.6 L643.1,1114.1 L643.2,1113.2 L643.4,1111.9 L643.5,1112.6 L643.7,1111.8 L643.9,1110.2 L644.0,1107.9 L644.1,1107.8 L644.3,1106.2 L644.5,1102.0 L644.6,1102.8 L644.8,1100.2 L644.9,1096.3 L645.1,1096.4 L645.2,1092.8 L646.4,1092.9 L647.6,1094.0 L648.8,1089.1 L650.0,1090.7 L651.2,1089.3 L652.4,1087.5 L653.6,1085.4 L654.8,1086.7 L656.0,1084.8 L657.2,1082.6 L658.4,1083.1 L659.4,1083.3 L660.5,1079.1 L661.5,1081.4 L662.5,1076.7 L663.5,1077.5 L664.6,1075.7 L665.6,1077.0 L667.2,1076.8 L668.8,1075.6 L670.4,1073.0 L670.7,1071.5 L671.0,1072.3 L671.3,1069.1 L671.6,1068.1 L671.9,1066.9 L672.2,1062.6 L672.5,1061.9 L672.8,1063.1 L673.4,1058.5 L674.0,1059.5 L674.6,1054.6 L675.2,1052.4 L677.0,1054.2 L678.8,1053.6" fill="none" stroke="#111" stroke-width="4.2" stroke-linejoin="round"/>
<path d="M512.8,1784.8 L513.6,1784.6 L514.3,1786.7 L515.1,1788.0 L515.9,1787.7 L516.6,1788.6 L517.4,1791.5 L517.9,1791.6 L518.4,1794.0 L519.0,1797.0 L519.5,1798.5 L520.0,1797.8 L520.5,1799.3 L521.1,1801.3 L521.6,1804.6 L522.1,1803.8 L523.6,1804.4 L525.2,1804.0 L526.8,1804.1 L528.3,1805.3 L528.9,1802.8 L529.4,1802.1 L530.0,1801.6 L530.6,1800.2 L531.2,1797.9 L531.7,1797.5 L532.3,1795.5 L532.9,1794.8 L533.5,1791.7 L534.0,1790.6 L534.6,1789.8 L536.2,1790.4 L537.7,1789.0 L539.3,1788.0 L540.3,1786.1 L541.4,1784.8 L542.4,1783.3 L543.4,1784.4 L544.5,1782.8 L545.5,1781.5 L547.0,1781.2 L548.6,1782.5 L550.2,1782.0 L551.7,1783.3 L552.9,1781.4 L554.1,1781.2 L555.2,1779.7 L556.4,1778.3 L557.6,1779.8 L558.8,1776.3 L559.9,1777.5 L561.1,1776.2 L562.1,1775.7 L563.2,1778.2 L564.2,1781.0 L565.2,1782.3 L566.3,1782.3 L567.3,1784.2 L568.6,1785.3 L569.8,1785.3 L571.1,1787.3 L572.3,1788.7 L573.6,1789.3 L574.6,1792.1 L575.7,1792.6 L576.7,1795.0 L577.1,1794.6 L577.5,1797.3 L577.9,1797.6 L578.2,1801.0 L578.6,1803.2 L579.0,1803.8 L579.4,1805.4 L579.8,1807.2 L581.0,1807.2 L582.3,1808.9 L583.5,1810.8 L584.8,1812.2 L586.0,1812.6 L586.8,1811.4 L587.6,1809.4 L588.4,1808.5 L589.2,1807.3 L590.8,1806.4 L592.3,1807.7 L593.9,1808.3 L595.4,1807.5 L597.0,1809.0 L598.6,1807.1 L600.1,1809.1 L601.7,1807.0 L603.2,1807.7 L604.8,1809.3 L606.4,1807.1 L607.9,1809.0 L609.5,1809.9 L611.0,1810.3 L612.6,1809.7 L614.2,1808.9 L615.7,1809.0 L617.3,1810.1 L618.8,1808.5 L620.4,1808.6 L622.0,1811.9 L623.5,1811.9 L625.0,1811.2 L626.6,1812.8 L627.9,1811.7 L629.3,1812.8 L630.6,1810.3 L632.0,1811.0 L633.3,1810.4 L634.7,1808.4 L636.0,1807.6 L637.3,1809.1 L638.6,1809.6 L639.9,1810.9 L641.2,1810.9 L642.5,1813.1 L643.8,1812.8 L644.4,1813.3 L645.1,1816.7 L645.8,1818.5 L646.4,1819.3 L647.0,1820.3 L647.7,1822.7 L648.4,1824.3 L649.0,1823.0 L649.6,1825.9 L650.3,1825.9 L651.0,1828.3 L651.6,1829.4 L652.4,1831.5 L653.1,1833.5 L653.9,1835.5 L654.7,1835.1 L655.5,1835.7 L656.2,1840.1 L657.0,1840.8 L657.8,1841.6 L658.5,1841.6 L659.3,1842.9 L660.1,1847.1 L660.9,1847.4 L661.7,1850.0 L662.5,1851.3 L663.3,1852.8 L663.9,1851.4 L664.4,1848.1 L665.0,1846.6 L665.5,1845.6 L666.1,1845.0 L666.6,1843.5 L667.2,1841.9 L668.1,1840.1 L669.1,1838.5 L670.0,1836.4 L670.9,1836.6 L671.9,1835.3 L672.8,1833.6 L673.7,1833.0 L674.6,1832.5 L675.6,1831.2 L676.5,1827.4 L677.2,1826.4 L677.8,1825.8 L678.5,1824.5 L679.2,1821.7 L679.9,1822.1 L680.5,1819.1 L681.2,1818.5 L681.8,1814.8 L682.4,1813.9 L683.0,1811.6 L683.5,1812.3 L684.1,1810.0 L684.7,1809.7 L685.3,1807.1 L685.9,1804.7 L687.5,1804.0 L689.0,1803.3 L690.5,1802.0 L692.1,1800.9 L693.7,1801.9 L695.2,1800.3 L696.8,1800.1 L698.3,1800.2 L699.9,1799.0" fill="none" stroke="#111" stroke-width="3.0" stroke-linejoin="round"/>
<path d="M1208.8,1296.7 L1210.4,1296.4 L1212.0,1295.8 L1213.6,1292.6 L1213.7,1291.8 L1213.7,1292.9 L1213.8,1292.0 L1213.8,1284.9 L1213.9,1284.4 L1213.9,1287.9 L1214.0,1280.9 L1214.0,1283.1 L1214.1,1279.2 L1214.2,1279.9 L1214.2,1279.8 L1214.3,1276.3 L1214.3,1273.4 L1214.4,1271.4 L1214.4,1271.9 L1214.5,1270.4 L1215.5,1267.4 L1216.5,1266.4 L1217.4,1265.4 L1218.4,1262.0 L1219.4,1262.9 L1220.3,1267.1 L1221.2,1265.3 L1222.2,1270.2 L1222.4,1270.0 L1222.7,1268.6 L1222.9,1263.0 L1223.2,1262.5 L1223.4,1264.5 L1223.7,1258.8 L1223.9,1261.7 L1224.1,1254.6 L1224.4,1257.5 L1224.6,1250.3 L1224.9,1253.1 L1225.1,1252.4 L1226.3,1252.1 L1227.5,1254.1 L1228.7,1257.5 L1229.9,1259.5 L1230.5,1252.3 L1231.1,1253.3 L1231.6,1248.5 L1232.2,1249.4 L1232.8,1246.4 L1233.4,1245.0 L1234.0,1246.9 L1234.5,1241.7 L1235.1,1240.7 L1235.7,1238.3 L1236.5,1245.2 L1237.2,1242.6 L1238.0,1242.7 L1238.7,1247.9 L1239.5,1249.9 L1241.0,1248.3 L1242.4,1246.8 L1243.8,1245.7 L1245.3,1246.0 L1246.7,1244.1 L1248.2,1248.8 L1249.6,1248.8 L1251.0,1250.9 L1252.5,1250.2 L1253.9,1248.8 L1255.3,1245.6 L1256.8,1244.7 L1258.1,1247.4 L1259.3,1247.7 L1260.6,1245.1 L1261.4,1252.8 L1262.2,1249.3 L1262.9,1252.9 L1263.7,1254.1 L1264.5,1253.2 L1265.8,1257.3 L1267.2,1258.2 L1268.5,1260.5 L1269.9,1259.9 L1271.2,1258.5 L1272.4,1261.3 L1273.6,1265.0 L1274.8,1263.7 L1276.0,1266.1 L1277.1,1261.4 L1278.3,1267.3 L1279.4,1265.2 L1280.6,1266.0 L1281.7,1268.3 L1282.5,1268.8 L1283.3,1269.7 L1284.0,1272.1 L1284.8,1273.8 L1285.6,1275.4 L1286.3,1280.7 L1287.0,1277.1 L1287.7,1279.4 L1288.4,1279.8 L1289.4,1281.4 L1290.3,1278.0 L1291.3,1278.6 L1292.2,1275.0 L1293.2,1273.2 L1294.2,1274.1 L1295.1,1270.0 L1296.1,1274.5 L1297.0,1271.1 L1298.0,1268.8 L1298.5,1268.3 L1299.0,1269.6 L1299.4,1264.8 L1299.9,1262.6 L1300.4,1259.8 L1300.9,1259.4 L1301.4,1260.6 L1301.8,1258.0 L1302.3,1254.1 L1302.8,1256.9 L1303.6,1250.0 L1304.4,1250.1 L1305.1,1251.5 L1305.9,1250.9 L1306.7,1246.2 L1306.8,1241.6 L1306.9,1243.9 L1307.1,1241.5 L1307.2,1237.2 L1307.3,1237.9 L1307.4,1240.2 L1307.5,1232.8 L1307.7,1232.2 L1307.8,1230.7 L1307.9,1233.6 L1308.0,1228.7 L1308.1,1229.8 L1308.2,1228.2 L1308.4,1222.1 L1308.5,1223.6 L1308.6,1219.8 L1310.5,1225.0 L1312.4,1223.4" fill="none" stroke="#111" stroke-width="5.5" stroke-linejoin="round"/>
<path d="M340.8,612.8C345.0,603.6 359.5,573.9 366.0,557.6C372.5,541.3 375.2,528.6 380.0,515.0C384.8,501.4 389.5,476.9 394.8,476.0C400.1,475.1 406.4,496.4 411.6,509.6C416.8,522.8 420.4,538.8 426.0,555.2C431.6,571.6 438.8,591.2 445.2,608.0C451.6,624.8 458.0,641.6 464.4,656.0C470.8,670.4 476.8,682.5 483.6,694.3C490.4,706.1 499.1,722.8 505.2,726.7C511.3,730.7 514.8,722.2 520.0,718.0C525.2,713.8 529.9,702.8 536.4,701.5C542.9,700.2 552.8,711.9 559.2,710.0C565.6,708.1 569.4,698.0 575.0,690.0C580.6,682.0 586.4,662.5 592.7,662.0C599.1,661.5 606.5,676.2 613.1,687.0C619.7,697.8 626.5,723.7 632.3,726.7C638.1,729.7 643.0,713.8 648.0,705.0C653.0,696.2 657.7,674.2 662.3,674.0C666.9,673.8 671.3,691.0 675.5,704.0C679.7,717.0 683.9,738.8 687.5,752.0C691.1,765.2 693.9,775.0 697.0,783.0C700.1,791.0 702.4,796.1 706.0,800.0C709.6,803.9 713.5,805.7 718.8,806.5C724.1,807.3 731.6,806.2 738.0,805.0C744.4,803.8 750.8,801.3 757.2,799.5C763.6,797.7 770.0,796.0 776.4,794.0C782.8,792.0 790.0,791.1 795.6,787.5C801.2,783.9 806.0,777.3 810.0,772.6C814.0,767.9 816.7,763.8 819.6,759.2C822.5,754.6 823.5,754.8 827.2,744.8C830.9,734.8 838.2,708.1 841.6,699.2C845.0,690.3 844.8,691.5 847.6,691.5C850.4,691.5 855.0,692.9 858.4,699.0C861.8,705.1 864.0,717.2 868.0,728.0C872.0,738.8 877.6,754.0 882.4,764.0C887.2,774.0 891.2,781.6 896.8,788.0C902.4,794.4 908.8,798.6 916.0,802.4C923.2,806.2 924.0,811.6 940.0,810.8C956.0,810.0 992.0,801.9 1012.0,797.6C1032.0,793.3 1045.3,787.4 1060.0,785.0C1074.7,782.6 1088.7,784.0 1100.0,783.0C1111.3,782.0 1118.5,783.1 1128.0,778.9C1137.5,774.7 1145.6,766.0 1156.8,757.7C1168.0,749.4 1184.0,736.4 1195.2,729.0C1206.4,721.6 1214.4,719.7 1224.0,713.6C1233.6,707.5 1244.8,698.9 1252.8,692.5C1260.8,686.1 1265.6,681.5 1272.0,675.2C1278.4,669.0 1284.8,659.3 1291.2,655.0C1297.6,650.7 1305.6,651.7 1310.4,649.3C1315.2,646.9 1316.8,645.9 1320.0,640.6C1323.2,635.3 1326.7,627.0 1329.6,617.6C1332.5,608.2 1334.1,606.9 1337.5,584.0C1340.9,561.1 1345.8,512.0 1350.0,480.0C1354.2,448.0 1357.9,427.7 1363.0,392.0C1368.1,356.3 1375.6,299.6 1380.6,266.0C1385.6,232.4 1389.6,205.9 1393.2,190.4C1396.8,174.9 1399.0,173.6 1402.0,172.8C1405.0,172.0 1407.3,174.1 1410.9,185.4C1414.5,196.7 1418.9,210.6 1423.5,240.8C1428.1,271.0 1433.1,324.8 1438.6,366.8C1444.0,408.8 1451.6,460.5 1456.2,492.7C1460.8,524.9 1462.7,538.6 1466.0,560.0C1469.3,581.4 1472.6,600.8 1475.9,621.2C1479.2,641.6 1482.4,663.7 1486.1,682.4C1489.8,701.1 1493.9,718.1 1498.3,733.4C1502.7,748.7 1506.8,763.0 1512.6,774.2C1518.4,785.4 1524.5,794.2 1533.0,800.7C1541.5,807.2 1548.3,810.2 1563.6,812.9C1578.9,815.6 1601.6,816.0 1624.7,817.0C1647.8,818.0 1689.4,818.7 1702.3,819.0" fill="none" stroke="#ff0000" stroke-width="6" stroke-linejoin="round" stroke-linecap="round"/>
<path d="M340.8,576.9 L341.6,574.7 L342.5,572.7 L343.3,570.7 L344.1,569.0 L344.9,566.2 L345.9,564.5 L346.8,561.3 L347.8,560.0 L348.7,557.2 L349.7,554.2 L350.6,552.1 L351.6,550.2 L352.4,548.6 L353.5,546.9 L354.7,544.6 L356.0,543.0 L357.7,541.3 L359.7,541.3 L361.4,539.8 L362.7,537.6 L363.6,535.5 L364.3,533.9 L365.0,531.5 L365.5,530.1 L366.0,527.3 L366.5,525.4 L366.9,523.0 L367.4,521.0 L367.9,518.2 L368.4,515.9 L368.9,514.0 L369.4,511.1 L370.0,508.6 L370.5,506.6 L371.1,504.8 L371.8,503.3 L372.7,500.8 L373.7,498.2 L374.8,495.7 L375.9,494.1 L377.0,492.0 L378.2,489.4 L379.4,487.7 L380.6,486.2 L381.8,483.6 L383.2,481.8 L384.5,479.9 L385.9,479.0 L387.4,477.5 L389.1,476.2 L391.0,475.7 L392.9,476.8 L394.4,477.4 L395.6,480.1 L396.6,481.3 L397.3,484.1 L398.1,486.2 L398.9,488.1 L399.6,490.0 L400.2,493.0 L400.8,494.8 L401.4,497.1 L402.0,498.6 L402.7,501.3 L403.3,503.0 L404.0,506.1 L404.6,507.7 L405.3,510.0 L406.0,512.6 L406.6,514.9 L407.3,517.9 L408.0,520.4 L408.6,524.1 L409.3,526.6 L410.0,529.4 L410.5,530.7 L411.0,533.8 L411.5,535.8 L412.0,537.4 L412.6,539.6 L413.1,542.0 L413.7,543.5 L414.2,546.0 L414.8,547.8 L415.4,550.2 L416.1,552.0 L416.7,554.3 L417.4,556.3 L418.1,558.2 L418.8,560.1 L419.5,562.6 L420.3,564.8 L421.0,567.3 L421.8,569.0 L422.6,571.4 L423.4,574.0 L424.2,576.2 L425.0,578.3 L425.8,580.2 L426.6,582.8 L427.5,585.7 L428.3,586.9 L429.2,590.1 L430.0,591.9 L430.9,594.9 L431.7,597.5 L432.6,599.7 L433.5,601.8 L434.3,604.8 L435.2,606.6 L436.0,609.0 L436.9,611.7 L437.8,614.7 L438.7,617.5 L439.6,619.2 L440.5,622.1 L441.4,625.0 L442.3,627.9 L443.3,631.0 L444.2,633.4 L445.1,635.7 L446.1,638.5 L447.0,641.9 L448.0,644.9 L448.9,646.8 L449.8,649.4 L450.7,652.3 L451.6,654.7 L452.5,657.7 L453.4,660.4 L454.3,663.2 L455.1,664.6 L456.0,666.8 L456.8,669.3 L457.6,671.0 L458.4,673.2 L459.1,675.3 L460.2,678.3 L461.2,680.9 L462.2,682.5 L463.2,685.5 L464.2,687.4 L465.1,690.1 L466.1,691.8 L467.1,694.0 L468.0,695.6 L469.1,697.3 L470.1,700.0 L471.2,701.8 L472.4,704.0 L473.6,706.2 L474.9,708.1 L476.2,710.4 L477.7,711.9 L479.2,714.3 L480.8,717.0 L482.4,718.3 L484.0,720.6 L485.6,723.0 L487.2,725.8 L488.9,727.1 L490.4,729.8 L492.0,731.6 L493.5,733.0 L494.9,734.1 L496.8,736.4 L498.4,738.1 L500.2,739.2 L502.1,740.4 L504.1,740.8 L506.1,741.5 L508.2,740.9 L510.3,739.6 L512.4,738.3 L514.3,737.6 L515.9,735.7 L517.4,734.8 L519.1,733.4 L520.8,731.2 L522.5,728.8 L524.3,727.5 L526.2,726.4 L528.2,724.4 L530.2,723.1 L532.3,722.8 L534.6,721.7 L536.9,722.2 L539.5,722.3 L541.5,722.9 L543.5,724.1 L545.6,725.2 L547.7,726.7 L549.8,727.9 L552.0,728.8 L554.1,729.4 L556.3,730.6 L558.4,731.3 L560.5,731.5 L562.5,732.2 L565.1,731.9 L567.6,731.1 L569.5,729.3 L571.4,728.3 L573.2,725.6 L575.1,724.0 L576.3,722.4 L577.5,719.5 L578.7,718.4 L579.9,715.8 L581.1,714.4 L582.3,712.2 L583.4,711.1 L584.6,708.8 L586.2,707.2 L587.9,704.1 L589.5,703.1 L591.0,701.7 L593.0,699.9 L595.4,700.1 L597.1,701.8 L598.7,703.3 L599.9,705.3 L601.0,708.4 L602.1,709.7 L603.1,713.3 L604.1,715.8 L605.2,718.1 L606.2,720.8 L607.2,722.9 L608.3,726.5 L609.3,728.3 L610.5,730.3 L611.6,731.8 L613.2,733.6 L614.8,736.5 L616.3,738.6 L617.9,740.0 L619.5,741.9 L621.1,744.0 L622.7,745.5 L624.4,746.5 L626.6,747.1 L628.9,748.1 L631.3,747.7 L633.4,746.4 L635.0,744.8 L636.8,743.6 L638.7,741.5 L640.7,739.6 L642.0,738.3 L643.3,735.8 L644.7,734.3 L646.0,732.3 L647.4,730.7 L648.7,729.0 L650.0,726.3 L651.3,725.3 L652.6,723.1 L653.8,721.2 L655.6,718.7 L657.3,717.6 L658.9,715.4 L660.7,713.9 L662.6,712.9 L664.6,711.8 L666.3,713.7 L667.4,715.6 L668.2,717.0 L668.9,718.9 L669.7,720.5 L670.7,723.0 L671.6,725.1 L672.5,726.8 L673.4,729.4 L674.3,732.1 L675.0,733.2 L675.8,735.3 L676.5,738.2 L677.2,740.5 L678.0,741.7 L678.8,744.9 L679.6,747.0 L680.4,748.7 L681.2,750.5 L682.1,753.5 L683.0,754.9 L684.0,757.5 L685.0,758.8 L686.0,761.5 L687.1,763.4 L688.2,765.8 L689.4,768.8 L690.5,770.7 L691.7,773.2 L692.8,775.6 L694.0,778.3 L695.1,779.5 L696.1,782.3 L697.1,783.9 L698.4,785.8 L699.6,788.1 L700.9,790.2 L702.1,791.3 L703.5,794.0 L705.0,795.3 L706.8,795.5 L708.6,797.1 L710.3,797.9 L712.0,799.0 L713.9,800.7 L715.9,801.2 L717.9,801.3 L720.1,801.3 L722.2,801.9 L724.5,800.9 L726.5,801.4 L728.7,800.7 L730.8,800.5 L733.0,800.4 L735.1,800.7 L737.2,799.8 L739.2,799.7 L741.2,798.4 L743.2,798.3 L745.2,796.5 L747.2,796.2 L749.2,795.1 L751.2,793.9 L753.2,793.7 L755.2,792.4 L757.2,792.0 L759.2,790.6 L761.3,790.4 L763.4,788.8 L765.4,788.5 L767.5,788.1 L769.6,786.6 L771.5,785.7 L773.5,785.0 L775.7,784.8 L777.8,783.5 L779.8,783.0 L782.0,782.5 L784.2,782.3 L786.2,781.9 L788.2,781.4 L790.3,780.9 L792.2,779.2 L794.0,778.3 L795.5,777.0 L797.0,775.6 L798.5,773.3 L800.0,772.5 L801.4,770.1 L802.8,769.4 L804.2,767.3 L805.6,765.6 L806.8,763.4 L808.0,762.4 L809.2,760.7 L810.4,758.4 L811.6,757.2 L812.8,755.4 L814.0,754.0 L815.2,751.9 L816.4,750.3 L817.4,748.8 L818.4,746.9 L819.4,744.4 L820.2,742.5 L821.0,740.0 L821.8,737.2 L822.5,736.3 L823.1,733.3 L823.7,731.6 L824.3,730.1 L824.9,727.2 L825.6,725.6 L826.2,722.9 L826.8,721.2 L827.5,719.8 L828.3,716.4 L829.2,714.3 L830.0,712.9 L830.9,710.3 L831.9,708.6 L832.8,707.4 L834.0,705.0 L835.2,703.0 L836.3,701.7 L837.5,699.3 L838.8,698.2 L840.0,695.8 L841.3,695.0 L842.7,692.8 L844.3,691.6 L846.2,691.4 L848.2,690.5 L850.3,691.1 L852.2,692.3 L853.8,693.6 L855.2,695.0 L856.2,696.9 L857.3,699.5 L858.2,702.2 L859.2,704.0 L859.9,706.1 L860.6,708.2 L861.4,710.2 L862.1,711.7 L862.9,713.6 L863.7,716.3 L864.5,718.6 L865.3,720.5 L866.1,722.9 L866.9,724.7 L867.7,726.9 L868.6,729.4 L869.4,732.0 L870.3,733.6 L871.1,735.9 L872.0,738.8 L872.9,741.1 L873.8,743.1 L874.7,746.2 L875.7,748.2 L876.6,750.2 L877.5,752.4 L878.4,754.9 L879.4,757.8 L880.3,759.0 L881.2,761.2 L882.1,763.4 L883.0,765.0 L883.9,767.2 L885.0,769.0 L886.2,771.4 L887.3,773.9 L888.4,775.6 L889.6,777.4 L890.8,779.3 L891.9,781.9 L893.2,783.3 L894.4,785.2 L895.8,786.5 L897.2,787.9 L898.6,789.4 L900.1,791.3 L901.6,793.0 L903.2,794.5 L904.7,795.2 L906.4,796.0 L908.0,798.0 L910.1,799.5 L912.2,800.5 L914.3,801.3 L916.4,802.8 L918.5,803.5 L920.7,804.9 L922.8,805.6 L925.0,806.6 L927.2,807.0 L929.4,807.5 L931.7,808.2 L934.1,808.2 L936.5,808.7 L939.0,808.8 L941.4,807.5 L943.7,807.1 L946.1,807.0 L948.1,806.6 L950.1,805.4 L952.3,805.3 L954.5,804.4 L957.0,803.2 L958.9,802.3 L961.0,802.6 L963.2,801.5 L965.6,801.2 L968.2,800.7 L971.0,799.7 L973.0,798.8 L975.1,798.3 L977.1,797.9 L979.3,798.4 L981.5,797.2 L983.7,797.2 L985.9,796.6 L988.2,795.5 L990.4,795.5 L992.6,795.0 L994.8,794.2 L997.0,793.9 L999.1,793.5 L1001.2,791.3 L1003.2,791.3 L1006.1,792.4 L1008.8,791.0 L1011.2,791.4 L1013.5,791.0 L1015.5,791.2 L1017.9,789.7 L1020.0,787.1 L1022.0,788.0 L1023.8,785.5 L1025.9,785.8 L1028.0,781.2 L1030.1,783.5 L1032.3,781.2 L1034.4,779.3 L1036.6,777.7 L1038.9,778.6 L1041.4,777.9 L1043.8,778.5 L1046.4,776.3 L1049.0,776.5 L1051.6,774.8 L1053.6,778.1 L1055.6,777.4 L1057.6,776.9 L1059.6,776.5 L1061.6,776.9 L1063.7,776.3 L1065.7,775.1 L1067.7,772.7 L1069.7,773.8 L1071.7,772.7 L1073.7,775.7 L1075.7,773.8 L1077.7,772.5 L1079.7,775.9 L1081.7,774.3 L1083.8,776.2 L1085.8,773.1 L1087.9,776.0 L1090.0,773.0 L1092.1,773.7 L1094.2,772.9 L1096.4,776.1 L1098.5,774.6 L1100.7,775.5 L1103.0,772.3 L1105.3,773.0 L1107.7,775.1 L1110.1,772.1 L1112.5,775.2 L1115.0,771.7 L1117.4,772.5 L1119.9,771.9 L1122.3,771.9 L1124.7,773.9 L1127.1,773.2 L1129.5,772.7 L1131.8,771.3 L1134.0,772.5 L1136.2,772.0 L1138.3,773.0 L1140.3,770.8 L1142.3,768.4 L1144.8,768.8 L1147.2,770.2 L1149.6,767.4 L1152.0,766.5 L1154.3,766.9 L1156.6,767.4 L1158.8,763.1 L1161.1,765.0 L1163.4,764.7 L1165.8,760.6 L1168.2,761.3 L1170.1,760.4 L1171.9,758.9 L1173.8,759.2 L1175.7,756.8 L1177.6,754.3 L1179.5,753.1 L1181.4,752.2 L1183.3,753.2 L1185.1,752.1 L1186.9,749.8 L1188.7,749.0 L1190.4,745.7 L1192.1,747.3 L1194.2,746.5 L1196.2,742.2 L1198.0,742.3 L1199.8,740.9 L1201.4,741.1 L1203.3,740.1 L1205.2,737.2 L1207.0,734.5 L1208.8,733.2 L1210.7,731.6 L1212.3,731.0 L1214.0,729.8 L1215.8,729.0 L1217.2,725.3 L1218.7,725.6 L1220.2,724.3 L1221.8,721.2 L1223.3,718.7 L1224.9,716.3 L1226.5,717.4 L1228.1,713.3 L1229.6,714.1 L1231.1,710.5 L1232.5,708.7 L1234.3,707.6 L1235.9,705.3 L1237.7,707.7 L1239.6,705.9 L1241.6,704.8 L1243.0,706.2 L1244.9,710.0 L1247.0,707.1 L1248.7,707.1 L1250.3,705.0 L1251.9,702.0 L1253.7,702.8 L1255.5,700.5 L1256.9,698.5 L1258.3,698.6 L1260.2,696.5 L1262.1,693.2 L1264.0,692.6 L1265.8,690.1 L1268.0,690.4 L1270.1,690.3 L1272.1,691.9 L1274.1,691.2 L1276.1,692.2 L1277.6,694.7 L1279.2,694.7 L1280.8,696.9 L1282.8,700.9 L1284.8,699.1 L1286.9,698.8 L1289.0,699.1 L1291.3,699.5 L1293.2,695.7 L1295.1,695.8 L1297.1,696.4 L1299.0,694.3 L1300.9,689.8 L1302.7,688.7 L1304.4,686.5 L1306.0,684.2 L1307.5,683.9 L1308.8,681.0 L1309.9,679.6 L1310.9,679.1 L1311.7,674.9 L1312.4,674.6 L1313.0,670.9 L1313.6,667.9 L1314.2,666.0 L1314.8,662.6 L1315.5,662.9 L1316.3,661.7 L1317.5,657.7 L1318.9,658.8 L1320.9,657.1 L1323.2,658.0 L1325.2,655.4 L1327.3,655.1 L1329.3,656.5 L1331.6,656.3 L1333.6,655.9 L1335.1,653.0 L1336.2,652.0 L1336.9,650.6 L1337.5,645.8 L1337.9,645.0 L1338.2,643.5 L1338.5,641.0 L1338.8,636.5 L1339.1,635.4 L1339.3,633.0 L1339.6,630.7 L1339.8,628.0 L1340.1,624.2 L1340.4,622.0 L1340.7,620.5 L1341.1,618.4 L1341.5,615.0 L1341.9,615.2 L1342.3,611.2 L1342.6,610.2 L1343.1,606.8 L1343.5,603.8 L1343.8,603.8 L1344.2,599.3 L1344.7,595.1 L1345.1,594.8 L1345.6,591.0 L1345.9,587.8 L1346.3,585.8 L1346.7,583.2 L1347.1,582.0 L1347.5,577.5 L1348.0,576.3 L1348.5,572.6 L1349.0,569.8 L1349.3,565.3 L1349.6,566.0 L1349.9,562.9 L1350.2,560.5 L1350.5,558.9 L1350.9,555.5 L1351.2,552.8 L1351.5,548.9 L1351.9,547.6 L1352.2,543.6 L1352.6,540.5 L1353.0,537.6 L1353.3,534.5 L1353.7,534.9 L1354.1,530.9 L1354.5,528.2 L1354.9,527.2 L1355.3,520.2 L1355.6,519.6 L1356.0,516.0 L1356.4,512.3 L1356.8,509.7 L1357.2,508.9 L1357.6,506.2 L1358.0,501.2 L1358.4,499.2 L1358.8,497.0 L1359.2,491.9 L1359.6,488.2 L1360.0,484.1 L1360.4,485.7 L1360.8,478.7 L1361.1,477.2 L1361.5,474.1 L1361.9,474.2 L1362.2,469.9 L1362.6,463.7 L1363.0,464.4 L1363.3,458.5 L1363.6,455.3 L1364.0,454.9 L1364.3,451.4 L1364.6,451.5 L1364.9,446.7 L1365.2,446.1 L1365.5,441.7 L1365.8,440.1 L1366.1,435.8 L1366.3,433.2 L1366.6,431.6 L1366.9,428.6 L1367.1,425.8 L1367.4,424.2 L1367.6,422.6 L1367.9,421.4 L1368.1,418.0 L1368.3,414.8 L1368.6,413.8 L1368.8,411.0 L1369.0,412.9 L1369.3,410.1 L1369.5,405.7 L1369.7,403.5 L1369.9,402.1 L1370.1,400.4 L1370.3,399.8 L1370.5,398.0 L1370.7,395.2 L1370.9,389.8 L1371.1,387.7 L1371.3,385.2 L1371.5,386.5 L1371.7,383.3 L1371.9,379.8 L1372.1,376.7 L1372.3,378.7 L1372.5,376.3 L1372.7,374.7 L1372.9,372.5 L1373.2,365.2 L1373.6,362.8 L1374.0,358.0 L1374.3,353.0 L1374.7,350.1 L1375.1,346.8 L1375.4,345.1 L1375.8,340.3 L1376.1,334.6 L1376.5,330.9 L1376.8,327.1 L1377.2,322.7 L1377.5,320.5 L1377.9,314.9 L1378.2,310.9 L1378.5,308.6 L1378.8,305.2 L1379.1,300.6 L1379.4,300.0 L1379.7,296.0 L1380.0,291.7 L1380.3,289.2 L1380.6,285.5 L1380.9,279.2 L1381.2,274.4 L1381.5,273.4 L1381.8,268.1 L1382.1,264.8 L1382.4,260.2 L1382.7,257.9 L1383.0,253.7 L1383.2,253.6 L1383.5,248.8 L1383.8,245.0 L1384.1,242.7 L1384.4,237.2 L1384.6,233.3 L1384.9,228.7 L1385.2,226.8 L1385.4,220.4 L1385.7,218.8 L1385.9,216.0 L1386.2,210.2 L1386.5,211.0 L1386.7,204.2 L1387.0,204.3 L1387.2,200.5 L1387.5,198.1 L1387.7,191.3 L1388.0,190.6 L1388.2,188.9 L1388.5,184.9 L1388.7,180.4 L1389.0,181.6 L1389.4,179.3 L1389.8,175.8 L1390.3,171.7 L1391.0,172.0 L1392.4,170.2 L1393.8,171.2 L1394.8,174.8 L1395.7,176.7 L1396.4,179.6 L1396.8,177.9 L1397.3,180.1 L1397.6,183.3 L1397.9,187.9 L1398.2,186.8 L1398.5,192.4 L1398.8,194.9 L1399.2,197.6 L1399.5,198.0 L1399.8,200.6 L1400.1,202.3 L1400.5,201.5 L1400.9,205.1 L1401.4,207.2 L1402.0,211.4 L1402.5,210.6 L1403.1,214.5 L1403.7,214.8 L1404.3,219.2 L1405.1,219.3 L1405.8,224.0 L1406.6,224.2 L1407.6,226.3 L1408.8,229.2 L1409.8,231.9 L1410.4,232.1 L1410.8,236.6 L1410.9,237.7 L1410.9,239.2 L1410.8,243.2 L1410.7,245.2 L1410.5,245.4 L1410.3,247.3 L1410.1,250.6 L1409.8,250.2 L1409.6,253.5 L1409.3,259.1 L1409.1,259.8 L1408.8,260.1 L1408.6,261.7 L1408.3,264.4 L1408.3,265.2" fill="none" stroke="#0000ff" stroke-width="8" stroke-linejoin="round" stroke-linecap="round"/>
<path d="M1250.2,806.5 L1252.6,805.7 L1252.9,807.0 L1255.4,805.9 L1256.2,804.9 L1256.7,805.5 L1259.5,804.4 L1261.7,805.1 L1262.3,804.4 L1265.7,807.3 L1267.4,806.9 L1267.6,805.8 L1270.5,805.1 L1273.4,806.1 L1273.8,808.0 L1275.8,808.5 L1278.4,807.1 L1280.1,806.8 L1281.6,805.1 L1284.8,805.9 L1286.4,805.7 L1288.4,808.4 L1289.6,807.9 L1290.7,807.7 L1291.1,806.6 L1293.8,805.3 L1295.3,808.0 L1295.5,805.7 L1296.7,805.6 L1299.0,805.5 L1298.2,804.1 L1300.6,807.5 L1301.3,805.3 L1302.4,806.1 L1302.8,805.3 L1304.4,805.1 L1305.1,802.9 L1306.8,805.5 L1308.1,803.8 L1309.4,801.4 L1310.1,803.8 L1312.8,801.6 L1313.8,802.3 L1315.4,803.0 L1315.6,802.7 L1317.7,800.6 L1318.6,799.8 L1318.5,798.4 L1320.7,797.4 L1320.1,799.4 L1322.5,797.4 L1323.7,795.0 L1323.5,795.2 L1324.8,793.9 L1324.9,793.9 L1327.3,795.8 L1327.8,793.0 L1327.7,794.1 L1329.2,792.3 L1329.1,789.4 L1331.8,790.7 L1332.9,789.0 L1333.0,787.9 L1334.9,785.8 L1335.0,784.9 L1336.2,783.1 L1336.8,786.1 L1336.2,783.9 L1338.1,784.2 L1338.7,781.0 L1339.0,782.9 L1340.7,778.8 L1339.7,776.9 L1340.2,778.1 L1341.1,779.7 L1342.7,774.3 L1343.1,774.5 L1343.5,772.9 L1343.4,771.6 L1344.3,773.7 L1345.1,768.6 L1345.9,772.5 L1346.4,770.8 L1345.3,767.6 L1345.8,768.1 L1346.4,766.5 L1346.9,765.1 L1347.3,759.9 L1347.8,760.1 L1349.1,758.6 L1348.6,758.8 L1349.8,754.7 L1349.4,755.7 L1349.9,757.0 L1349.3,754.0 L1350.0,751.8 L1349.4,751.9 L1351.5,747.7 L1350.5,750.1 L1350.3,743.2 L1350.6,746.3 L1352.2,742.7 L1352.3,738.8 L1352.7,740.0 L1352.7,738.4 L1352.8,736.2 L1352.4,736.3 L1353.1,736.8 L1354.6,735.8 L1354.2,731.7 L1354.3,732.1 L1355.1,733.9 L1354.3,729.9 L1355.5,730.2 L1356.6,729.5 L1356.4,728.2 L1356.8,727.7 L1357.1,725.4 L1356.6,725.6 L1357.2,722.4 L1358.4,723.2 L1359.1,716.0 L1358.0,716.3 L1358.6,713.7 L1359.2,711.7 L1359.1,715.1 L1360.4,710.3 L1359.5,711.3 L1360.9,705.8 L1360.4,707.4 L1361.3,704.0 L1362.0,703.3 L1360.9,705.3 L1360.9,703.2 L1361.2,701.5 L1361.6,699.0 L1363.1,698.3 L1362.3,698.0 L1362.2,694.1 L1362.7,693.4 L1362.5,696.2 L1362.5,694.0 L1364.5,692.1 L1362.9,689.5 L1363.2,688.8 L1364.7,685.3 L1363.6,685.8 L1364.0,683.0 L1365.0,685.1 L1365.0,679.2 L1366.1,681.9 L1365.9,675.8 L1365.4,676.5 L1366.4,674.1 L1367.1,676.4 L1367.6,675.2 L1366.0,671.9 L1366.4,672.4 L1368.0,670.1 L1367.1,664.5 L1368.6,666.4 L1368.5,664.1 L1369.1,661.9 L1368.2,660.6 L1368.5,660.8 L1370.0,656.1 L1368.5,657.3 L1370.0,654.0 L1369.4,651.8 L1369.2,653.0 L1370.7,652.6 L1369.9,647.9 L1371.6,649.2 L1370.8,648.8 L1371.7,646.4 L1370.6,646.9 L1371.1,640.9 L1371.5,642.5 L1372.3,639.1 L1372.7,639.7 L1371.8,640.5 L1373.3,639.5 L1373.2,634.1 L1373.6,636.8 L1373.4,635.6 L1374.4,631.1 L1374.6,633.1 L1374.5,626.2 L1373.8,628.5 L1374.5,628.1 L1374.8,623.2 L1375.5,624.1 L1375.6,620.8 L1376.1,621.6 L1375.8,621.4 L1376.2,617.8 L1374.8,616.7 L1375.2,616.2 L1376.7,613.8 L1375.5,610.5 L1376.3,612.5 L1375.7,611.7 L1376.2,607.0 L1377.9,608.2 L1378.0,606.8 L1376.6,603.9 L1377.4,604.9 L1378.3,604.3 L1378.3,600.0 L1378.0,599.4 L1378.3,597.4 L1378.6,597.3 L1377.8,598.1 L1379.1,596.7 L1379.6,594.9 L1380.3,591.5 L1379.3,587.9 L1380.0,590.1 L1380.1,591.3 L1379.5,585.3 L1380.8,587.5 L1380.5,581.6 L1380.4,585.0 L1380.9,581.5 L1380.9,581.1 L1381.5,580.2 L1382.2,579.2 L1381.5,574.9 L1382.5,576.8 L1383.0,572.0 L1383.0,574.8 L1381.7,570.0 L1383.0,567.7 L1383.6,567.1 L1383.5,565.9 L1382.8,564.1 L1383.6,565.8 L1383.2,564.3 L1383.7,562.8 L1383.9,558.7 L1383.7,556.6 L1385.0,557.4 L1384.1,558.9 L1385.3,552.4 L1385.7,554.5 L1385.3,552.7 L1386.6,550.6 L1386.1,550.8 L1385.8,547.8 L1386.8,548.2 L1386.4,546.2 L1386.1,546.5 L1385.9,544.3 L1387.0,540.4 L1387.4,541.3 L1386.6,539.4 L1387.0,539.9 L1387.5,535.8 L1387.5,532.8 L1387.6,532.1 L1388.7,535.0 L1388.1,529.2 L1388.9,527.9 L1388.8,530.5 L1388.6,528.8 L1389.4,523.8 L1389.0,525.6 L1388.9,521.9 L1390.0,524.2 L1390.1,522.0 L1389.2,518.5 L1390.0,520.9 L1390.2,518.8 L1389.7,515.7 L1391.6,516.1 L1391.1,511.2 L1392.0,509.3 L1392.2,512.1 L1391.8,509.3 L1390.9,506.9 L1392.0,507.5 L1391.6,507.0 L1391.0,502.6 L1391.2,501.5 L1392.8,502.8 L1391.6,498.8 L1391.6,499.6 L1392.4,495.7 L1392.4,498.2 L1392.6,495.8 L1393.1,493.2 L1393.1,491.2 L1392.5,490.7 L1392.8,488.4 L1392.7,490.6 L1393.3,485.0 L1392.6,483.8 L1394.4,483.2 L1394.1,481.2 L1394.2,481.2 L1394.5,480.4 L1393.9,477.6 L1394.5,479.6 L1394.8,476.1 L1394.2,477.3 L1395.3,471.5 L1395.1,474.0 L1395.3,473.8 L1395.8,468.2 L1396.2,467.3 L1395.1,469.9 L1394.8,465.1 L1395.8,463.1 L1395.3,464.9 L1396.1,463.2 L1396.6,462.7 L1397.0,461.1 L1397.3,457.8 L1396.9,456.6 L1397.6,456.1 L1396.7,454.8 L1396.6,450.3 L1397.0,449.0 L1396.4,447.5 L1397.5,450.2 L1396.8,448.1 L1397.1,446.0 L1397.7,444.3 L1398.7,442.8 L1398.3,443.3 L1397.9,439.7 L1399.3,441.3 L1400.0,436.5 L1399.5,435.5 L1399.9,437.4 L1399.0,433.1 L1400.8,431.8 L1400.4,433.3 L1399.9,431.7 L1399.5,427.8 L1400.1,426.5 L1400.4,423.2 L1401.8,422.8 L1401.5,423.7 L1402.3,424.2 L1402.0,418.8 L1402.5,417.0 L1403.1,417.0 L1401.9,415.1 L1402.4,417.2 L1403.5,415.6 L1403.5,411.3 L1402.9,410.3 L1403.3,412.4 L1404.6,406.3 L1404.8,410.0 L1404.0,407.4 L1404.8,403.0 L1404.7,406.4 L1405.4,404.7 L1404.0,402.2 L1405.0,402.1 L1404.6,398.6 L1404.7,398.8 L1406.1,392.8 L1405.4,392.2 L1406.3,393.8 L1405.3,394.4 L1407.3,390.0 L1406.7,388.2 L1406.9,387.1 L1406.8,387.9 L1406.4,383.9 L1407.8,382.1 L1406.6,384.9 L1406.9,380.6 L1407.4,378.4 L1407.6,378.8 L1407.3,377.4 L1407.4,373.4 L1407.9,373.0 L1408.3,372.0 L1409.5,372.9 L1408.9,372.3 L1409.5,368.2 L1409.5,369.5 L1409.5,368.2 L1409.9,368.0 L1409.3,365.1 L1410.9,363.0 L1410.9,359.1 L1410.7,358.8 L1410.9,358.4 L1410.7,356.1 L1410.3,358.4 L1411.2,355.7 L1410.3,352.4 L1412.2,350.5 L1411.5,352.2 L1411.6,350.0 L1412.7,350.1 L1411.4,346.7 L1411.9,346.9 L1412.6,343.0 L1412.8,342.7 L1411.6,340.6 L1412.4,338.7 L1413.2,342.2 L1413.9,338.7 L1413.9,336.5 L1413.5,337.6 L1412.6,333.1 L1413.4,331.7 L1413.7,328.7 L1414.4,332.7 L1413.6,326.8 L1414.0,329.1 L1413.9,327.6 L1414.0,325.2 L1415.2,324.3 L1414.1,324.6 L1415.8,320.4 L1416.0,319.7 L1414.8,317.1 L1416.2,316.1 L1414.8,312.8 L1415.3,313.9 L1416.3,311.7 L1416.0,313.4 L1416.0,310.2 L1415.9,307.8 L1416.0,304.0 L1416.5,302.5 L1416.7,304.3 L1417.2,303.8 L1417.2,298.1 L1417.8,298.6 L1418.1,300.6 L1417.7,294.8 L1417.6,294.9 L1417.6,291.2 L1418.0,293.1 L1419.0,292.4 L1419.2,291.2 L1418.5,288.9 L1417.9,288.5 L1419.4,284.0 L1419.1,282.7 L1419.9,282.3 L1420.0,284.0 L1420.2,279.5 L1419.5,281.6 L1420.8,275.9 L1419.9,278.3 L1420.8,274.0 L1420.4,276.9 L1419.8,271.7 L1421.2,274.3 L1421.9,270.6 L1421.8,272.5 L1421.1,267.0 L1421.1,269.3 L1421.1,266.9 L1423.1,262.9 L1422.9,263.0 L1424.0,261.2 L1423.5,261.9 L1424.4,255.8 L1425.0,255.9 L1425.8,257.8 L1425.3,253.2 L1425.3,251.1 L1425.7,249.2 L1427.3,247.3 L1427.5,249.4 L1428.3,248.1 L1429.1,245.3 L1428.0,246.0 L1428.8,247.3 L1430.6,244.4 L1430.9,240.6 L1430.7,240.4 L1430.9,239.2 L1431.6,239.7 L1431.2,237.8 L1431.8,239.1 L1433.1,235.5 L1433.1,234.9 L1434.3,234.8 L1434.4,229.6 L1434.9,226.9 L1435.6,227.1 L1436.0,224.7 L1436.1,223.5 L1435.4,222.7 L1437.4,222.1 L1437.2,223.1 L1438.5,218.5 L1438.3,220.3 L1438.9,216.3 L1438.7,217.6 L1438.6,214.4 L1439.7,215.3 L1439.3,212.8 L1439.7,208.5 L1440.5,210.1 L1441.2,210.6 L1440.7,206.8 L1441.6,204.0 L1442.9,202.1 L1441.9,200.2 L1443.0,202.8 L1442.5,203.1 L1443.7,197.6 L1444.6,200.3 L1443.7,199.2 L1443.7,194.9 L1444.6,197.4 L1444.6,190.5 L1444.8,200.6 L1445.0,200.2 L1445.7,191.3 L1447.0,182.8 L1446.6,191.3 L1447.1,184.3 L1447.5,180.9 L1446.8,171.9 L1448.0,185.6 L1448.9,173.4 L1449.1,179.8 L1449.3,188.4 L1449.7,177.0 L1450.5,168.5 L1451.6,177.0 L1450.6,175.2 L1453.2,187.3 L1453.0,168.2 L1455.0,168.1 L1454.2,166.8 L1456.1,177.5 L1456.3,168.2 L1458.6,167.8 L1458.4,176.6 L1459.7,175.3 L1460.5,177.6 L1461.2,181.0 L1462.5,173.7 L1462.6,169.9 L1463.3,155.4 L1465.3,173.9 L1466.0,175.2 L1466.6,179.1 L1467.5,179.3 L1467.5,164.2 L1469.4,176.4 L1470.0,176.5 L1470.4,174.6 L1471.7,173.5 L1470.7,176.0 L1471.1,168.0 L1471.8,181.4 L1472.3,181.3 L1472.4,169.1 L1473.9,189.0 L1473.0,182.3 L1473.9,183.9 L1473.6,169.7 L1473.9,194.1 L1475.0,188.7 L1474.5,192.5 L1476.3,181.8 L1476.2,199.7 L1476.8,193.4 L1476.2,188.8 L1476.6,189.0 L1476.4,198.3 L1477.2,203.6 L1475.6,188.9 L1476.2,195.7 L1477.1,193.4 L1476.9,199.5 L1476.5,205.7 L1476.9,215.7 L1476.4,214.8 L1477.5,204.6 L1476.5,210.7 L1478.1,204.3 L1478.0,210.3 L1476.9,220.1 L1477.5,211.5 L1478.5,223.0 L1478.8,213.8 L1478.9,213.8 L1478.5,216.7 L1479.2,219.8 L1478.9,221.6 L1478.4,220.7 L1478.1,221.4 L1478.4,225.0 L1478.4,227.4 L1479.5,225.9 L1478.7,227.1 L1479.7,226.6 L1480.7,229.2 L1479.8,230.0 L1479.8,231.2 L1480.9,231.2 L1480.1,235.6 L1480.5,235.2 L1480.7,234.8 L1480.5,238.3 L1481.6,239.4 L1481.1,242.0 L1481.0,242.6 L1481.0,244.2 L1481.8,245.6 L1482.7,247.6 L1483.1,245.5 L1483.2,247.9 L1482.2,249.2 L1483.5,253.4 L1483.5,250.6 L1482.3,251.2 L1483.6,255.4 L1482.5,252.4 L1484.6,255.7 L1482.9,257.6 L1483.2,261.0 L1484.2,261.0 L1485.2,259.3 L1484.0,264.5 L1485.0,263.6 L1484.7,266.0 L1486.1,269.2 L1486.2,270.7 L1484.8,266.2 L1486.4,268.9 L1486.0,271.5 L1487.1,272.7 L1485.7,272.6 L1487.4,277.6 L1486.1,279.8 L1486.8,279.8 L1487.4,282.0 L1487.4,278.4 L1487.8,284.8 L1487.7,286.1 L1488.0,284.7 L1488.0,285.4 L1488.5,291.3 L1488.9,291.7 L1488.3,290.8 L1489.4,292.5 L1488.5,297.0 L1488.9,297.3 L1490.9,296.7 L1489.7,298.7 L1490.5,304.3 L1489.9,301.6 L1491.6,303.6 L1491.4,308.0 L1490.3,305.7 L1492.1,312.9 L1492.2,312.1 L1491.3,314.4 L1491.6,315.2 L1491.7,318.3 L1492.8,318.9 L1492.6,319.7 L1492.5,322.1 L1494.7,323.6 L1494.4,328.2 L1494.4,329.4 L1495.5,334.5 L1494.6,334.4 L1495.9,334.8 L1496.1,339.8 L1495.8,341.4 L1496.1,340.9 L1495.7,344.6 L1495.9,345.1 L1497.2,349.3 L1497.5,351.2 L1498.2,352.5 L1497.6,355.7 L1498.4,356.1 L1498.2,360.1 L1498.7,360.9 L1498.8,367.5 L1498.2,369.5 L1500.2,368.4 L1498.7,370.7 L1500.7,369.7 L1500.5,376.4 L1499.5,377.3 L1499.8,376.2 L1500.8,379.3 L1501.4,382.6 L1500.8,386.8 L1500.6,387.9 L1501.4,390.3 L1502.2,389.4 L1501.7,393.5 L1503.2,395.8 L1502.9,397.2 L1503.7,397.2 L1502.9,398.5 L1503.1,401.3 L1503.7,403.1 L1504.6,404.0 L1503.5,402.9 L1503.4,404.4 L1503.8,405.7 L1505.3,406.0 L1505.7,412.2 L1505.6,409.5 L1504.9,412.2 L1505.7,416.4 L1504.7,412.7 L1506.5,413.6 L1506.9,415.9 L1507.2,419.0 L1506.7,422.4 L1507.3,421.2 L1506.8,424.7 L1506.6,423.1 L1508.0,427.8 L1508.1,425.8 L1507.3,425.6 L1508.5,426.5 L1507.4,427.6 L1508.1,434.6 L1507.5,431.4 L1508.1,435.3 L1508.5,433.4 L1509.3,438.9 L1508.5,435.1 L1509.1,441.6 L1508.6,438.0 L1510.0,443.0 L1509.8,439.9 L1510.2,441.4 L1509.4,442.4 L1511.3,443.9 L1510.6,449.5 L1510.2,448.1 L1511.6,450.4 L1510.6,451.5 L1512.4,454.5 L1512.5,451.0 L1510.9,455.2 L1511.0,459.3 L1511.8,458.1 L1513.1,458.7 L1513.1,458.4 L1512.7,463.1 L1512.9,461.2 L1513.9,463.6 L1514.2,464.6 L1514.2,464.8 L1514.1,471.1 L1514.2,469.2 L1515.1,473.8 L1514.9,470.7 L1513.7,474.3 L1513.9,472.3 L1515.0,478.9 L1514.6,479.5 L1516.2,481.6 L1514.6,478.0 L1516.5,484.3 L1515.1,480.9 L1516.4,481.7 L1515.4,483.4 L1516.5,486.0 L1517.2,486.0 L1517.5,491.2 L1516.7,491.4 L1517.5,489.8 L1518.2,493.0 L1517.5,496.8 L1516.7,494.6 L1517.0,498.7 L1517.5,499.9 L1518.7,502.9 L1517.9,500.8 L1519.3,502.3 L1518.3,504.9 L1519.7,504.9 L1519.1,504.3 L1519.3,509.9 L1519.4,511.9 L1519.7,510.3 L1520.7,514.3 L1521.1,512.6 L1520.5,512.2 L1520.9,517.7 L1520.4,516.0 L1520.4,518.1 L1521.5,522.6 L1522.1,523.5 L1521.4,522.0 L1522.6,521.1 L1522.6,525.7 L1521.7,524.5 L1523.5,525.6 L1523.4,528.5 L1523.2,532.5 L1523.4,533.8 L1524.5,533.2 L1523.3,533.2 L1525.3,534.1 L1524.8,535.0 L1525.3,539.3 L1525.9,540.0 L1524.6,542.6 L1525.8,544.8 L1525.9,542.4 L1526.0,545.1 L1526.8,546.9 L1527.4,547.6 L1526.3,550.9 L1527.6,548.0 L1527.4,553.5 L1527.9,550.4 L1528.7,555.4 L1527.7,556.5 L1529.3,557.1 L1529.7,558.2 L1528.1,560.2 L1530.0,563.1 L1530.1,564.6 L1530.5,563.1 L1529.3,562.5 L1529.6,568.5 L1531.3,569.8 L1531.6,568.2 L1531.4,566.7 L1530.9,570.5 L1531.0,571.2 L1532.2,571.4 L1531.8,572.2 L1532.6,578.9 L1532.9,579.2 L1533.7,581.3 L1534.2,580.4 L1533.0,579.1 L1533.8,581.7 L1534.7,584.3 L1534.4,582.9 L1535.6,591.1 L1535.8,585.2 L1536.1,592.1 L1536.1,592.1 L1537.0,592.0 L1537.0,590.5 L1537.6,595.5 L1536.6,597.3 L1538.2,596.9 L1537.5,600.8 L1539.2,604.5 L1538.1,601.2 L1538.6,599.1 L1539.2,601.8 L1539.4,608.7 L1539.9,611.7 L1539.5,604.6 L1539.5,611.4 L1540.3,607.5 L1541.3,617.2 L1541.9,618.3 L1542.6,614.8 L1541.5,618.8 L1541.8,612.1 L1542.4,621.2 L1543.3,618.7 L1542.6,617.1 L1543.9,622.3 L1544.1,626.7 L1544.5,629.6 L1545.6,626.5 L1544.8,627.6 L1544.9,624.7 L1546.2,629.4 L1545.1,630.1 L1546.1,626.9 L1545.8,635.7 L1547.8,640.1 L1547.7,633.0 L1548.1,634.8 L1547.7,637.0 L1547.8,635.1 L1549.9,636.0 L1550.2,646.2 L1550.1,638.9 L1550.4,641.5 L1550.4,646.6 L1551.5,642.5 L1550.1,651.3 L1551.5,653.7 L1551.0,650.7 L1552.7,655.6 L1552.3,647.5 L1552.1,663.4 L1553.0,651.2 L1553.4,654.9 L1554.3,653.5 L1554.7,665.1 L1555.1,665.7 L1554.9,663.6 L1556.3,663.1 L1556.9,662.8 L1556.6,677.0 L1557.4,667.1 L1557.2,668.6 L1558.4,671.6 L1558.9,679.2 L1559.3,677.5 L1558.7,682.0 L1559.4,671.1 L1559.8,675.0 L1559.5,678.0 L1561.6,687.3 L1561.0,687.0 L1561.3,688.0 L1561.5,695.4 L1563.0,688.3 L1562.9,688.1 L1563.7,699.1 L1564.4,685.0 L1564.8,688.6 L1563.6,694.1 L1565.1,688.8 L1565.5,708.7 L1566.1,706.9 L1565.3,697.2 L1565.9,699.1 L1567.5,714.4 L1566.7,705.7 L1567.7,716.3 L1567.8,697.7 L1567.5,699.3 L1568.6,699.0 L1569.4,702.3 L1568.4,715.8 L1569.6,717.7 L1570.2,709.6 L1569.9,722.9 L1571.8,710.1 L1571.3,720.9 L1573.7,725.5 L1574.4,733.5 L1573.4,714.1 L1574.8,713.4 L1575.5,733.5 L1575.7,734.9 L1576.3,736.2 L1576.6,718.3 L1577.2,732.2 L1577.8,736.6 L1579.2,743.7 L1579.8,742.9 L1581.2,730.8 L1581.8,738.4 L1582.1,734.3 L1581.9,738.2 L1583.2,736.4 L1584.8,729.5 L1585.3,742.3 L1584.3,743.4 L1585.1,742.3 L1586.4,752.0 L1587.9,730.6 L1588.4,759.2 L1587.6,732.4 L1588.9,731.5 L1589.1,748.3 L1590.2,752.4 L1591.1,755.7 L1592.9,736.4 L1594.0,766.7 L1595.5,736.8 L1595.9,747.4 L1596.3,753.3 L1596.5,760.4 L1597.6,769.7 L1598.5,762.0 L1600.4,740.6 L1600.5,759.0 L1602.1,746.7 L1602.4,750.4 L1604.8,747.4 L1605.7,747.2 L1606.7,774.2 L1607.8,759.8 L1609.0,761.5 L1609.3,778.8 L1609.4,748.2 L1611.5,756.2 L1611.7,767.5 L1612.7,759.2 L1613.9,752.7 L1616.3,783.4 L1617.4,767.8 L1619.1,772.4 L1619.7,752.1 L1620.6,760.4 L1622.7,790.7 L1623.6,765.2 L1625.0,755.9 L1625.9,754.7 L1627.2,783.4 L1628.2,772.7 L1628.6,769.7 L1629.8,775.4 L1630.2,786.3 L1632.2,765.5 L1631.9,794.3 L1633.1,769.5 L1634.5,766.5 L1635.4,766.1 L1636.4,787.3 L1638.0,792.7 L1639.4,766.4 L1640.1,783.6 L1640.7,775.6 L1642.8,778.9 L1644.3,760.8 L1644.5,762.1 L1646.6,775.4 L1647.2,770.7 L1648.9,769.7 L1650.3,782.5 L1650.8,766.5 L1653.3,784.4 L1654.9,787.4 L1655.6,794.7 L1657.3,778.5 L1657.9,790.6 L1658.4,769.8 L1659.9,778.8 L1660.2,778.8 L1663.0,793.4 L1663.5,787.0 L1664.4,761.9 L1666.6,780.8 L1667.6,783.8 L1669.8,771.5 L1670.5,789.0 L1672.3,796.2 L1672.6,791.8 L1674.3,772.7 L1676.6,792.2 L1679.4,782.5 L1680.4,787.1 L1681.1,775.5 L1683.6,762.7 L1685.0,772.1 L1686.2,768.6 L1688.3,787.6 L1690.8,774.0 L1692.1,789.9 L1692.1,769.5 L1694.9,767.3 L1695.6,785.1 L1697.1,792.9 L1698.5,767.4 L1699.1,797.9" fill="none" stroke="#00cc00" stroke-width="9" stroke-linejoin="round" stroke-linecap="round"/>
<path d="M342.0,1374.0C343.4,1370.0 347.8,1359.3 350.4,1350.0C353.0,1340.7 354.6,1329.3 357.6,1318.0C360.6,1306.7 365.0,1294.0 368.4,1282.0C371.8,1270.0 375.2,1256.0 378.0,1246.0C380.8,1236.0 382.6,1227.2 385.2,1222.0C387.8,1216.8 391.0,1214.8 393.6,1214.8C396.2,1214.8 398.2,1214.8 400.8,1222.0C403.4,1229.2 406.2,1244.0 409.2,1258.0C412.2,1272.0 414.6,1290.7 418.8,1306.0C423.0,1321.3 428.4,1329.5 434.4,1350.0C440.4,1370.5 448.2,1409.0 454.8,1429.0C461.4,1449.0 466.8,1457.6 474.0,1470.0C481.2,1482.4 492.0,1498.4 498.0,1503.6C504.0,1508.8 503.6,1505.8 510.0,1501.0C516.4,1496.2 528.0,1478.4 536.4,1474.8C544.8,1471.2 551.2,1484.0 560.4,1479.6C569.6,1475.2 583.1,1450.4 591.5,1448.4C599.9,1446.4 603.9,1458.0 610.7,1467.6C617.5,1477.2 623.9,1505.2 632.3,1506.0C640.7,1506.8 654.3,1475.1 661.1,1472.3C667.9,1469.5 668.7,1477.5 673.1,1489.1C677.5,1500.7 682.3,1526.8 687.5,1542.0C692.7,1557.2 698.2,1571.7 704.3,1580.3C710.4,1588.9 714.7,1593.4 724.0,1593.6C733.3,1593.8 748.0,1586.4 760.0,1581.6C772.0,1576.8 786.8,1572.4 796.0,1564.8C805.2,1557.2 808.8,1549.2 815.2,1536.0C821.6,1522.8 829.2,1497.4 834.4,1485.6C839.6,1473.8 841.6,1465.6 846.4,1465.2C851.2,1464.8 858.8,1474.6 863.2,1483.2C867.6,1491.8 869.6,1506.8 872.8,1516.8C876.0,1526.8 878.0,1534.0 882.4,1543.2C886.8,1552.4 893.6,1564.8 899.2,1572.0C904.8,1579.2 905.2,1584.0 916.0,1586.4C926.8,1588.8 950.0,1588.0 964.0,1586.4C978.0,1584.8 990.0,1580.8 1000.0,1576.8C1010.0,1572.8 1016.0,1567.2 1024.0,1562.4C1032.0,1557.6 1041.2,1550.4 1048.0,1548.0C1054.8,1545.6 1056.2,1547.4 1064.7,1548.0C1073.2,1548.6 1088.7,1551.6 1099.2,1551.5C1109.8,1551.4 1119.0,1550.5 1128.0,1547.6C1137.0,1544.7 1145.0,1540.9 1153.0,1534.2C1161.0,1527.5 1167.4,1517.5 1176.0,1507.3C1184.6,1497.1 1195.8,1483.0 1204.8,1472.8C1213.8,1462.6 1222.7,1454.9 1229.7,1445.9C1236.7,1436.9 1241.5,1429.2 1247.0,1419.0C1252.5,1408.8 1257.9,1393.8 1262.4,1384.5C1266.9,1375.2 1270.7,1367.9 1273.9,1363.4C1277.1,1358.9 1278.7,1357.3 1281.6,1357.6C1284.5,1357.9 1288.0,1358.9 1291.2,1365.3C1294.4,1371.7 1297.6,1387.0 1300.8,1396.0C1304.0,1405.0 1306.9,1413.9 1310.4,1419.0C1313.9,1424.1 1318.4,1426.7 1321.9,1426.7C1325.4,1426.7 1328.3,1425.7 1331.5,1419.0C1334.7,1412.3 1338.2,1398.2 1341.1,1386.4C1344.0,1374.6 1345.9,1361.6 1348.8,1348.0C1351.7,1334.4 1354.6,1328.5 1358.2,1305.0C1361.8,1281.5 1366.3,1240.2 1370.5,1207.1C1374.7,1174.0 1379.3,1140.0 1383.1,1106.4C1386.9,1072.8 1390.2,1028.7 1393.2,1005.6C1396.2,982.5 1398.7,974.7 1400.8,967.8C1402.9,960.9 1403.7,962.7 1405.8,964.0C1407.9,965.3 1410.5,964.3 1413.4,975.4C1416.4,986.5 1420.2,1009.0 1423.5,1030.8C1426.8,1052.6 1429.7,1081.2 1433.5,1106.4C1437.3,1131.6 1442.3,1156.8 1446.1,1182.0C1449.9,1207.2 1453.6,1237.8 1456.2,1257.5C1458.8,1277.2 1459.6,1282.7 1461.5,1300.0C1463.4,1317.3 1465.0,1340.8 1467.7,1361.2C1470.4,1381.6 1474.5,1403.7 1477.9,1422.4C1481.3,1441.1 1484.0,1456.4 1488.1,1473.4C1492.2,1490.4 1496.6,1508.4 1502.4,1524.4C1508.2,1540.4 1514.3,1557.3 1522.8,1569.2C1531.3,1581.1 1543.2,1589.6 1553.4,1595.7C1563.6,1601.8 1572.1,1603.5 1584.0,1605.9C1595.9,1608.3 1610.1,1609.2 1624.7,1610.0C1639.3,1610.8 1658.8,1610.8 1671.7,1611.0C1684.6,1611.2 1697.2,1611.0 1702.3,1611.0" fill="none" stroke="#ff0000" stroke-width="6" stroke-linejoin="round" stroke-linecap="round"/>
<path d="M344.4,1323.0 L345.3,1320.2 L346.2,1318.4 L347.0,1317.1 L347.8,1314.8 L348.7,1312.7 L349.7,1310.2 L350.6,1308.6 L351.5,1306.3 L352.4,1304.0 L353.3,1301.7 L354.2,1299.0 L355.0,1298.1 L355.8,1295.2 L356.6,1294.1 L357.5,1291.5 L358.3,1289.3 L359.1,1286.9 L359.9,1284.9 L360.7,1283.7 L361.6,1281.0 L362.3,1279.0 L363.1,1276.2 L363.9,1275.0 L364.7,1272.3 L365.5,1269.5 L366.3,1267.4 L367.2,1264.5 L368.0,1262.5 L368.8,1260.3 L369.6,1258.7 L370.6,1256.0 L371.5,1254.0 L372.7,1252.7 L374.0,1250.8 L375.4,1249.5 L376.8,1247.5 L378.1,1246.0 L379.0,1243.9 L379.8,1241.7 L380.4,1240.6 L380.9,1238.4 L381.4,1236.1 L381.9,1232.9 L382.4,1231.3 L382.9,1228.2 L383.4,1226.1 L383.8,1223.6 L384.4,1222.1 L385.1,1220.5 L386.1,1217.4 L388.0,1218.2 L389.5,1219.4 L391.2,1220.4 L393.0,1221.7 L394.6,1223.6 L395.8,1224.6 L396.7,1227.3 L397.5,1229.4 L398.2,1231.3 L398.8,1232.7 L399.4,1234.9 L399.9,1237.7 L400.5,1240.4 L401.1,1242.2 L401.5,1245.1 L402.0,1246.7 L402.4,1249.3 L402.9,1250.9 L403.4,1253.7 L403.9,1255.7 L404.4,1257.8 L404.9,1260.6 L405.5,1263.5 L406.1,1266.5 L406.5,1268.6 L406.9,1270.5 L407.3,1271.8 L407.7,1274.1 L408.1,1276.7 L408.5,1278.8 L408.9,1280.9 L409.3,1282.9 L409.8,1285.1 L410.2,1287.6 L410.6,1289.0 L411.0,1291.9 L411.4,1293.9 L411.8,1295.6 L412.2,1297.8 L412.8,1300.3 L413.4,1303.2 L414.0,1305.8 L414.6,1307.8 L415.1,1310.5 L415.7,1313.0 L416.2,1315.8 L416.8,1317.7 L417.3,1319.5 L417.8,1321.9 L418.3,1323.4 L419.0,1326.4 L419.7,1328.5 L420.4,1330.6 L421.1,1333.2 L421.7,1335.2 L422.4,1337.0 L423.0,1338.9 L423.8,1341.0 L424.7,1342.9 L425.6,1345.3 L426.4,1346.5 L427.3,1348.7 L428.2,1351.2 L429.0,1353.5 L429.6,1354.8 L430.2,1357.2 L430.8,1359.4 L431.4,1361.4 L432.0,1363.5 L432.6,1366.1 L433.2,1368.6 L433.7,1370.3 L434.2,1372.4 L434.7,1374.8 L435.3,1377.3 L435.9,1379.5 L436.5,1381.6 L437.2,1383.2 L438.0,1386.4 L438.8,1388.9 L439.7,1390.8 L440.6,1393.4 L441.6,1396.9 L442.2,1398.1 L442.9,1400.2 L443.6,1402.6 L444.3,1404.7 L445.0,1406.4 L445.7,1408.7 L446.5,1410.5 L447.2,1412.5 L448.0,1414.4 L448.7,1416.6 L449.5,1418.3 L450.2,1420.5 L451.0,1422.7 L451.8,1424.6 L452.5,1426.1 L453.7,1429.3 L454.8,1431.2 L455.9,1433.6 L457.0,1436.0 L458.1,1438.5 L459.1,1441.3 L460.2,1443.9 L461.3,1445.8 L462.4,1447.1 L463.5,1450.3 L464.6,1451.5 L465.8,1453.9 L467.0,1455.9 L468.3,1457.8 L469.6,1461.1 L471.0,1463.1 L472.5,1465.0 L474.0,1468.1 L475.1,1469.5 L476.2,1470.8 L477.3,1473.4 L478.5,1475.4 L479.7,1477.0 L481.0,1479.9 L482.2,1481.2 L483.5,1483.8 L484.8,1485.7 L486.1,1488.3 L487.5,1490.5 L488.9,1492.9 L490.2,1494.6 L491.6,1497.1 L493.0,1498.4 L494.4,1500.8 L495.7,1502.3 L497.1,1504.0 L498.5,1505.5 L500.5,1507.6 L502.6,1509.1 L504.5,1510.2 L506.5,1510.9 L509.1,1510.8 L511.1,1510.7 L513.1,1509.5 L515.1,1507.7 L517.1,1506.1 L519.1,1505.2 L521.1,1503.1 L523.1,1500.8 L525.1,1499.4 L527.0,1496.7 L528.9,1495.6 L530.8,1493.9 L532.7,1492.7 L534.6,1491.8 L537.0,1491.4 L539.3,1492.3 L541.5,1493.0 L543.7,1494.4 L545.3,1495.8 L546.9,1496.9 L548.4,1498.0 L550.0,1500.5 L551.5,1502.2 L553.1,1502.7 L554.7,1504.3 L556.9,1505.6 L559.2,1506.3 L561.6,1506.7 L564.1,1506.4 L566.1,1506.4 L568.2,1504.8 L570.3,1503.7 L572.6,1501.1 L574.1,1500.6 L575.6,1498.7 L577.1,1496.8 L578.6,1496.1 L580.1,1494.6 L581.7,1492.8 L583.2,1490.9 L584.6,1489.6 L586.8,1488.4 L588.9,1486.2 L591.0,1484.9 L592.9,1483.8 L595.2,1483.7 L597.3,1483.5 L599.2,1484.9 L600.8,1486.2 L602.3,1488.2 L603.3,1489.7 L604.2,1492.4 L605.1,1495.3 L606.0,1496.9 L606.9,1499.8 L607.8,1502.3 L608.7,1504.8 L609.6,1506.5 L610.5,1508.3 L611.6,1510.3 L612.7,1512.1 L614.3,1514.3 L615.5,1516.4 L616.8,1518.5 L618.0,1520.5 L619.3,1521.6 L620.6,1523.2 L621.9,1525.4 L623.2,1527.2 L624.6,1528.0 L626.4,1529.9 L628.3,1530.8 L630.2,1532.1 L632.2,1532.6 L634.2,1532.2 L636.3,1531.5 L638.0,1530.7 L639.7,1528.0 L641.6,1525.8 L642.8,1523.8 L644.1,1523.1 L645.3,1520.9 L646.6,1518.3 L647.9,1516.2 L649.2,1514.6 L650.4,1512.8 L651.7,1510.9 L652.9,1509.1 L654.1,1506.2 L655.3,1505.3 L656.4,1503.1 L658.1,1500.5 L659.6,1498.4 L661.0,1497.8 L662.7,1496.2 L664.7,1495.5 L666.7,1496.4 L668.0,1498.3 L669.0,1500.3 L669.8,1502.4 L670.5,1504.0 L671.4,1506.5 L672.3,1509.1 L673.4,1511.9 L674.3,1513.4 L675.2,1515.5 L676.2,1518.6 L677.2,1520.9 L678.2,1523.1 L678.9,1525.1 L679.6,1527.5 L680.3,1529.1 L681.0,1531.4 L681.8,1533.1 L682.5,1536.1 L683.2,1537.8 L684.0,1539.2 L684.7,1541.6 L685.5,1543.1 L686.2,1545.5 L687.0,1547.7 L688.1,1549.5 L689.2,1552.2 L690.4,1555.2 L691.5,1556.9 L692.7,1559.6 L693.8,1561.0 L695.0,1563.9 L696.2,1565.0 L697.4,1567.0 L698.6,1569.1 L699.8,1571.1 L701.0,1573.8 L702.2,1575.0 L703.4,1576.2 L705.0,1579.0 L706.7,1579.8 L708.3,1582.5 L709.9,1582.8 L711.8,1585.2 L713.7,1586.1 L715.6,1586.8 L717.8,1587.3 L720.1,1587.9 L722.2,1588.0 L724.4,1587.7 L726.8,1587.4 L728.8,1586.1 L731.0,1586.3 L733.4,1585.3 L735.3,1583.6 L737.2,1582.8 L739.2,1583.0 L741.2,1581.9 L743.3,1580.3 L745.4,1579.5 L747.5,1577.7 L749.5,1576.7 L751.6,1576.3 L753.6,1575.4 L755.6,1573.8 L757.5,1572.5 L759.4,1572.0 L761.8,1571.1 L764.2,1570.0 L766.5,1569.1 L768.8,1569.0 L771.1,1567.6 L773.4,1567.3 L775.6,1566.7 L777.8,1566.0 L779.9,1564.9 L782.0,1565.1 L784.0,1564.3 L785.9,1563.0 L787.8,1561.1 L789.6,1560.7 L791.4,1558.9 L793.1,1558.2 L794.7,1556.6 L796.4,1555.8 L797.9,1553.8 L799.4,1552.7 L800.9,1550.9 L802.4,1549.7 L803.8,1547.6 L805.2,1546.0 L806.6,1543.5 L808.0,1541.3 L809.2,1539.8 L810.2,1538.2 L811.1,1535.7 L811.9,1533.4 L812.8,1531.3 L813.7,1530.1 L814.5,1527.3 L815.4,1526.2 L816.2,1523.7 L817.1,1521.4 L817.9,1519.4 L818.8,1517.1 L819.7,1515.2 L820.6,1513.3 L821.5,1511.0 L822.4,1508.4 L823.3,1506.3 L824.3,1503.2 L825.2,1501.3 L826.1,1498.7 L827.0,1496.1 L828.0,1493.8 L828.9,1491.2 L829.8,1489.2 L830.7,1487.3 L831.6,1484.8 L832.4,1483.1 L833.3,1481.2 L834.4,1478.9 L835.5,1476.1 L836.5,1474.5 L837.6,1472.8 L838.8,1470.8 L840.1,1468.3 L841.5,1467.3 L843.0,1465.7 L844.7,1464.1 L846.6,1464.5 L848.9,1464.8 L850.8,1465.2 L852.5,1466.2 L854.0,1468.9 L855.2,1470.0 L856.5,1473.0 L857.6,1474.6 L858.7,1476.3 L859.5,1478.7 L860.4,1480.2 L861.3,1482.5 L862.3,1485.3 L863.2,1488.4 L864.2,1490.9 L865.1,1493.1 L865.8,1495.4 L866.4,1497.3 L867.0,1499.2 L867.6,1501.3 L868.3,1502.7 L869.2,1505.7 L870.1,1508.3 L870.9,1511.2 L871.8,1513.5 L872.5,1516.2 L873.3,1517.7 L874.0,1520.6 L874.8,1522.8 L875.6,1524.5 L876.3,1527.7 L876.9,1529.2 L877.6,1531.2 L878.3,1532.8 L879.0,1534.9 L879.8,1537.4 L880.7,1539.5 L881.6,1541.9 L882.7,1543.9 L883.8,1546.7 L884.7,1548.0 L885.7,1550.3 L886.6,1552.4 L887.6,1553.7 L888.6,1556.0 L889.7,1557.5 L890.8,1560.0 L891.9,1561.3 L893.0,1564.0 L894.1,1565.4 L895.3,1567.2 L896.4,1568.9 L898.0,1570.1 L899.6,1572.0 L901.2,1574.7 L902.7,1575.7 L904.3,1577.4 L905.8,1578.5 L907.4,1580.1 L909.1,1581.2 L910.8,1582.2 L912.6,1582.8 L914.6,1584.5 L916.7,1584.5 L919.0,1586.2 L921.4,1586.2 L923.4,1586.8 L925.4,1587.1 L927.5,1588.5 L929.7,1588.8 L932.0,1589.1 L934.3,1589.4 L936.7,1590.0 L939.2,1590.5 L941.7,1590.8 L944.2,1590.6 L946.8,1590.8 L949.4,1590.8 L952.1,1590.9 L954.7,1591.3 L957.4,1591.2 L960.1,1590.8 L963.0,1591.0 L966.0,1591.0 L968.0,1591.0 L970.2,1590.5 L972.3,1591.1 L974.5,1590.1 L976.7,1590.3 L978.9,1590.4 L981.2,1589.4 L983.4,1589.0 L985.6,1589.3 L987.8,1588.8 L989.9,1588.3 L992.0,1588.7 L994.1,1587.7 L996.1,1587.8 L999.0,1586.6 L1001.7,1587.2 L1004.2,1584.6 L1006.4,1585.1 L1008.4,1586.3 L1010.7,1583.9 L1012.6,1583.5 L1014.7,1580.5 L1016.3,1580.4 L1017.8,1580.4 L1019.3,1577.8 L1020.8,1576.4 L1022.4,1574.5 L1024.0,1570.5 L1025.7,1572.3 L1027.4,1568.6 L1029.1,1569.3 L1030.8,1564.3 L1032.5,1565.0 L1034.3,1565.2 L1036.0,1560.8 L1037.8,1562.8 L1039.6,1562.0 L1041.8,1560.4 L1044.1,1557.3 L1046.5,1557.0 L1048.5,1559.2 L1050.6,1558.4 L1052.6,1558.4 L1054.7,1557.5 L1056.7,1560.2 L1058.8,1557.9 L1060.8,1561.8 L1062.8,1561.3 L1065.1,1562.6 L1067.4,1562.4 L1069.4,1562.8 L1071.4,1563.7 L1073.5,1564.1 L1075.7,1562.5 L1078.0,1565.1 L1080.0,1564.4 L1082.1,1562.6 L1084.3,1563.3 L1086.6,1564.7 L1088.9,1565.1 L1091.4,1568.3 L1093.9,1566.5 L1096.4,1566.7 L1098.9,1570.1 L1101.4,1570.4 L1103.9,1568.7 L1106.4,1569.6 L1108.8,1570.6 L1111.2,1571.9 L1113.6,1570.3 L1115.9,1569.0 L1118.3,1569.6 L1120.6,1571.0 L1123.0,1571.1 L1125.3,1568.7 L1127.7,1569.0 L1130.1,1565.3 L1132.6,1567.2 L1135.1,1567.1 L1137.6,1566.5 L1139.5,1565.0 L1141.5,1563.1 L1143.4,1561.4 L1145.4,1561.5 L1147.4,1560.7 L1149.5,1560.9 L1151.5,1558.5 L1153.5,1560.7 L1155.6,1556.7 L1157.7,1559.6 L1159.7,1556.0 L1161.8,1555.1 L1163.9,1556.3 L1166.0,1555.7 L1168.1,1554.0 L1170.2,1553.1 L1172.3,1549.0 L1174.5,1547.8 L1176.8,1546.2 L1179.1,1545.9 L1181.4,1544.2 L1183.7,1542.4 L1186.0,1541.1 L1188.3,1540.2 L1190.6,1537.2 L1192.9,1535.9 L1195.1,1536.2 L1197.2,1534.5 L1199.2,1533.6 L1201.2,1530.1 L1203.1,1528.7 L1204.8,1526.6 L1206.4,1528.1 L1207.9,1527.0 L1209.4,1524.0 L1211.1,1521.1 L1212.7,1520.1 L1214.3,1517.2 L1215.7,1518.2 L1217.1,1512.8 L1218.5,1514.1 L1219.9,1510.7 L1221.3,1507.9 L1222.8,1504.8 L1224.4,1505.4 L1226.0,1504.6 L1227.6,1500.4 L1229.2,1498.1 L1230.8,1498.6 L1232.4,1496.4 L1234.0,1495.1 L1235.6,1493.1 L1237.2,1489.3 L1238.8,1489.9 L1240.4,1487.6 L1242.0,1487.0 L1243.6,1485.2 L1245.2,1481.4 L1246.9,1479.7 L1248.6,1480.0 L1250.2,1477.3 L1251.9,1473.7 L1253.6,1472.5 L1255.2,1471.9 L1256.8,1470.8 L1258.4,1468.1 L1259.9,1465.0 L1261.4,1464.1 L1262.7,1461.3 L1264.0,1461.0 L1265.2,1459.2 L1266.4,1455.6 L1267.5,1455.0 L1268.6,1450.7 L1269.6,1450.1 L1270.6,1448.1 L1271.7,1444.2 L1273.0,1443.9 L1274.6,1440.8 L1276.7,1443.6 L1278.6,1442.7 L1280.2,1444.7 L1281.5,1447.1 L1282.8,1447.9 L1284.2,1453.1 L1285.2,1455.0 L1286.1,1454.8 L1287.4,1458.6 L1288.7,1460.6 L1290.0,1461.7 L1291.5,1464.5 L1293.0,1464.2 L1294.4,1468.2 L1295.8,1467.2 L1297.2,1469.7 L1298.6,1470.5 L1300.2,1473.6 L1302.1,1475.7 L1304.3,1476.5 L1306.0,1473.0 L1307.4,1470.0 L1308.4,1469.2 L1309.5,1467.2 L1310.6,1463.8 L1311.4,1464.3 L1312.3,1460.3 L1313.1,1460.6 L1314.2,1456.3 L1315.4,1456.3 L1316.5,1453.9 L1318.0,1451.8 L1319.9,1452.5 L1321.9,1451.9 L1324.1,1452.6 L1326.2,1453.3 L1328.2,1451.9 L1330.5,1452.8 L1332.4,1452.1 L1333.8,1450.0 L1334.6,1449.5 L1335.2,1445.1 L1335.7,1445.8 L1336.0,1443.3 L1336.4,1439.7 L1336.7,1438.9 L1337.0,1435.9 L1337.3,1432.9 L1337.5,1428.9 L1337.8,1428.6 L1338.1,1424.9 L1338.3,1419.9 L1338.6,1418.5 L1339.0,1417.1 L1339.3,1413.0 L1339.7,1410.6 L1340.0,1409.0 L1340.4,1408.9 L1340.7,1405.9 L1341.1,1402.4 L1341.4,1399.5 L1341.8,1399.1 L1342.1,1396.6 L1342.5,1395.1 L1342.8,1389.5 L1343.2,1386.6 L1343.5,1387.7 L1343.9,1384.9 L1344.3,1381.6 L1344.7,1376.2 L1345.1,1373.4 L1345.6,1372.3 L1345.9,1370.3 L1346.2,1369.9 L1346.5,1369.3 L1346.9,1367.2 L1347.2,1361.0 L1347.6,1361.5 L1347.9,1359.2 L1348.3,1356.3 L1348.6,1352.7 L1349.0,1349.8 L1349.3,1347.1 L1349.7,1345.1 L1350.0,1345.2 L1350.4,1344.6 L1350.7,1339.7 L1351.0,1338.6 L1351.4,1337.2 L1351.9,1332.4 L1352.3,1330.2 L1352.6,1330.6 L1353.0,1324.2 L1353.4,1325.8 L1353.9,1320.9 L1354.2,1319.8 L1354.5,1316.8 L1354.7,1315.8 L1355.0,1312.2 L1355.3,1310.9 L1355.5,1309.4 L1355.8,1303.6 L1356.1,1302.4 L1356.5,1297.3 L1356.8,1293.8 L1357.2,1289.7 L1357.6,1287.3 L1357.8,1284.0 L1358.0,1285.6 L1358.2,1279.6 L1358.4,1278.9 L1358.7,1278.4 L1358.9,1275.9 L1359.1,1271.6 L1359.3,1268.5 L1359.5,1270.2 L1359.8,1264.6 L1360.0,1262.3 L1360.2,1263.2 L1360.5,1258.2 L1360.7,1256.2 L1360.9,1256.4 L1361.2,1253.4 L1361.4,1250.4 L1361.6,1248.8 L1361.9,1246.1 L1362.1,1242.3 L1362.3,1240.7 L1362.6,1235.5 L1362.8,1234.9 L1363.0,1230.9 L1363.3,1231.1 L1363.5,1226.2 L1363.7,1224.4 L1364.0,1223.1 L1364.2,1218.2 L1364.4,1220.2 L1364.6,1214.7 L1364.9,1211.3 L1365.1,1210.7 L1365.3,1207.0 L1365.5,1208.4 L1365.7,1204.7 L1365.9,1203.9 L1366.1,1199.5 L1366.3,1200.0 L1366.6,1197.0 L1366.8,1192.5 L1367.0,1189.8 L1367.2,1190.1 L1367.4,1189.4 L1367.6,1184.8 L1367.9,1183.5 L1368.1,1181.4 L1368.3,1180.2 L1368.5,1174.8 L1368.7,1172.2 L1369.0,1172.3 L1369.2,1169.2 L1369.4,1168.8 L1369.6,1167.2 L1369.8,1161.9 L1370.1,1160.4 L1370.3,1158.7 L1370.5,1157.1 L1370.7,1152.6 L1370.9,1154.0 L1371.1,1148.5 L1371.4,1146.0 L1371.6,1145.3 L1371.8,1141.9 L1372.0,1140.1 L1372.2,1141.1 L1372.4,1137.3 L1372.6,1135.0 L1372.8,1134.8 L1373.1,1130.5 L1373.3,1127.6 L1373.5,1125.5 L1373.9,1124.7 L1374.3,1116.9 L1374.7,1116.8 L1375.0,1113.9 L1375.4,1106.3 L1375.8,1106.0 L1376.1,1103.1 L1376.5,1098.2 L1376.9,1097.0 L1377.2,1092.6 L1377.5,1090.8 L1377.9,1084.2 L1378.2,1083.8 L1378.5,1083.2 L1378.9,1078.4 L1379.2,1078.7 L1379.5,1073.8 L1379.8,1069.5 L1380.1,1067.5 L1380.4,1068.0 L1380.7,1066.3 L1381.0,1064.0 L1381.3,1059.9 L1381.6,1055.1 L1381.9,1056.1 L1382.2,1051.2 L1382.4,1048.9 L1382.7,1045.9 L1383.0,1046.3 L1383.2,1043.0 L1383.5,1040.2 L1383.7,1038.1 L1384.0,1031.9 L1384.2,1033.1 L1384.5,1030.1 L1384.7,1026.3 L1385.0,1025.0 L1385.2,1018.0 L1385.4,1016.7 L1385.6,1013.9 L1385.9,1012.0 L1386.1,1010.9 L1386.3,1004.6 L1386.5,1001.0 L1386.7,998.7 L1386.9,997.5 L1387.1,997.4 L1387.3,991.7 L1387.4,992.7 L1387.6,987.5 L1387.8,985.9 L1388.0,983.7 L1388.1,979.1 L1388.4,979.7 L1388.6,977.8 L1388.7,970.5 L1388.9,970.0 L1389.0,968.2 L1389.2,964.7 L1389.3,960.5 L1389.4,958.7 L1389.5,958.3 L1389.7,955.1 L1389.9,954.7 L1390.2,949.6 L1391.1,950.4 L1391.6,951.4 L1392.0,956.6 L1392.3,958.6 L1392.6,960.0 L1392.9,961.5 L1393.3,963.1 L1393.6,965.3 L1393.9,971.3 L1394.3,974.1 L1394.6,975.6 L1394.9,975.9 L1395.4,981.0 L1396.0,980.4 L1397.6,983.4 L1399.0,978.3 L1400.7,978.8 L1401.8,982.9 L1402.8,984.8 L1403.5,988.0 L1404.1,986.6 L1404.6,988.7 L1405.2,991.1 L1405.6,995.7 L1406.0,999.2 L1406.4,1000.6 L1406.7,1000.6 L1407.1,1001.7 L1407.4,1004.7 L1407.8,1008.4 L1408.1,1013.6 L1408.3,1012.3 L1408.5,1016.0 L1408.8,1017.9 L1409.0,1021.0 L1409.4,1023.6 L1409.7,1024.1 L1410.0,1027.0 L1410.3,1031.6 L1410.5,1030.3 L1410.8,1035.1 L1410.9,1034.5" fill="none" stroke="#0000ff" stroke-width="8" stroke-linejoin="round" stroke-linecap="round"/>
<path d="M1234.5,1591.4 L1234.0,1594.9 L1235.3,1591.5 L1237.4,1592.5 L1239.1,1592.1 L1240.5,1592.6 L1241.2,1595.2 L1242.8,1595.3 L1244.4,1592.0 L1246.3,1594.3 L1246.8,1592.8 L1249.6,1594.6 L1251.6,1595.5 L1253.4,1594.8 L1254.7,1595.1 L1255.7,1596.7 L1257.6,1596.1 L1260.8,1595.7 L1261.1,1596.5 L1264.0,1594.1 L1264.6,1595.5 L1266.5,1597.2 L1269.3,1595.6 L1270.9,1596.2 L1273.7,1594.8 L1274.5,1596.0 L1276.4,1596.0 L1277.9,1595.4 L1279.1,1595.8 L1279.0,1597.7 L1280.6,1595.4 L1281.7,1597.4 L1283.9,1595.7 L1283.9,1594.1 L1286.0,1594.4 L1286.4,1595.1 L1287.0,1595.1 L1287.9,1593.8 L1289.7,1596.8 L1291.0,1594.5 L1292.2,1593.9 L1292.8,1596.9 L1294.9,1595.5 L1295.9,1595.6 L1296.4,1595.9 L1298.4,1596.5 L1298.5,1596.4 L1299.9,1594.9 L1301.3,1596.7 L1302.0,1597.2 L1301.9,1595.4 L1304.2,1594.7 L1304.4,1596.0 L1305.9,1594.3 L1306.2,1597.0 L1307.8,1593.6 L1309.5,1594.0 L1312.7,1593.5 L1313.3,1593.0 L1315.4,1593.3 L1316.8,1595.1 L1319.5,1595.3 L1319.1,1593.2 L1322.0,1591.5 L1321.8,1593.1 L1323.3,1593.8 L1324.9,1592.3 L1325.3,1590.9 L1326.4,1589.7 L1328.2,1589.4 L1329.6,1590.8 L1328.7,1589.5 L1330.5,1587.0 L1331.1,1585.9 L1332.3,1585.0 L1332.6,1588.1 L1333.7,1584.1 L1333.8,1582.8 L1334.1,1584.7 L1335.9,1580.2 L1336.0,1581.6 L1336.5,1581.1 L1338.5,1579.3 L1338.1,1579.7 L1339.0,1576.1 L1339.1,1575.1 L1340.8,1575.7 L1341.1,1576.6 L1342.3,1571.9 L1341.8,1575.0 L1343.1,1571.1 L1343.4,1569.0 L1343.0,1567.1 L1344.0,1567.2 L1344.8,1570.5 L1344.7,1567.0 L1346.6,1566.2 L1346.5,1566.2 L1346.0,1566.2 L1347.8,1564.3 L1348.5,1558.9 L1347.5,1558.3 L1348.8,1561.8 L1350.0,1557.6 L1349.9,1558.5 L1349.7,1558.8 L1351.3,1556.2 L1351.6,1555.5 L1351.4,1551.6 L1351.0,1549.9 L1350.9,1552.9 L1351.7,1546.4 L1352.0,1545.7 L1352.6,1545.9 L1352.3,1545.6 L1353.1,1543.7 L1354.2,1542.2 L1353.9,1544.4 L1355.0,1540.2 L1353.4,1542.4 L1354.7,1536.7 L1354.2,1535.6 L1354.8,1533.7 L1354.6,1537.5 L1356.4,1530.8 L1356.0,1533.6 L1356.4,1527.8 L1356.4,1528.3 L1357.9,1528.1 L1357.3,1527.0 L1356.8,1525.9 L1358.6,1524.4 L1358.0,1520.6 L1357.7,1518.0 L1358.3,1518.7 L1359.8,1515.8 L1359.5,1516.9 L1360.2,1511.7 L1361.1,1513.5 L1360.2,1509.9 L1361.3,1512.4 L1360.9,1507.6 L1361.6,1504.6 L1361.7,1507.4 L1362.3,1505.1 L1362.0,1503.6 L1363.4,1498.0 L1363.2,1498.9 L1363.6,1496.5 L1363.3,1494.3 L1363.8,1493.8 L1364.0,1493.9 L1364.6,1488.3 L1364.4,1486.7 L1365.2,1485.1 L1365.1,1485.7 L1365.6,1483.5 L1365.6,1485.9 L1364.8,1481.3 L1365.3,1483.3 L1365.2,1478.3 L1365.7,1482.0 L1365.3,1481.6 L1366.2,1475.7 L1365.5,1475.8 L1366.5,1473.5 L1365.8,1474.2 L1366.3,1472.7 L1366.9,1473.0 L1367.3,1469.0 L1366.7,1471.5 L1366.6,1465.9 L1366.8,1468.8 L1367.9,1468.2 L1368.2,1463.4 L1368.0,1464.5 L1367.7,1463.7 L1368.2,1457.9 L1368.3,1459.7 L1368.0,1460.5 L1369.8,1456.9 L1369.9,1456.7 L1369.3,1452.3 L1370.3,1455.6 L1369.5,1451.1 L1368.9,1451.2 L1370.6,1448.6 L1369.6,1448.7 L1370.8,1444.7 L1369.9,1446.3 L1369.6,1446.1 L1370.3,1445.0 L1370.7,1439.7 L1370.0,1438.2 L1370.7,1440.8 L1371.9,1438.8 L1371.1,1437.8 L1372.1,1434.8 L1371.0,1434.2 L1371.4,1431.3 L1371.9,1429.5 L1373.1,1429.5 L1373.2,1431.0 L1371.6,1430.8 L1373.4,1427.4 L1373.7,1425.9 L1372.1,1422.7 L1372.9,1425.8 L1374.1,1420.2 L1373.3,1419.0 L1373.2,1419.2 L1373.7,1416.8 L1374.4,1416.2 L1375.0,1416.4 L1374.3,1417.0 L1374.2,1412.7 L1374.0,1411.8 L1374.4,1413.2 L1374.8,1411.9 L1374.8,1406.8 L1375.0,1407.6 L1376.4,1405.2 L1375.1,1403.8 L1375.4,1407.4 L1376.9,1401.8 L1375.3,1402.2 L1376.5,1398.8 L1376.3,1401.5 L1375.7,1400.0 L1377.2,1399.2 L1377.0,1396.1 L1377.2,1392.9 L1377.3,1392.3 L1377.1,1390.0 L1376.9,1388.8 L1377.9,1388.7 L1378.1,1389.1 L1377.6,1385.6 L1378.4,1387.7 L1378.8,1385.5 L1378.7,1381.3 L1378.3,1384.8 L1378.6,1379.4 L1378.9,1382.5 L1378.4,1377.0 L1379.3,1380.3 L1379.3,1375.3 L1380.2,1373.1 L1379.4,1374.9 L1380.7,1375.3 L1379.8,1370.5 L1380.0,1368.4 L1380.0,1371.0 L1381.5,1366.8 L1379.9,1368.4 L1381.8,1367.5 L1380.8,1366.0 L1381.7,1364.8 L1381.3,1365.1 L1382.0,1359.3 L1381.5,1357.2 L1381.5,1360.4 L1381.9,1357.4 L1382.6,1353.6 L1381.9,1354.8 L1382.3,1354.7 L1383.4,1354.2 L1382.7,1352.3 L1382.8,1352.9 L1383.1,1349.3 L1382.9,1347.0 L1383.7,1345.5 L1384.2,1346.3 L1384.4,1345.0 L1383.8,1341.6 L1382.8,1342.1 L1384.4,1341.2 L1384.6,1335.8 L1384.6,1336.0 L1384.1,1338.2 L1384.3,1334.5 L1383.7,1331.4 L1384.2,1330.3 L1385.0,1328.0 L1384.3,1326.8 L1385.7,1330.8 L1385.9,1326.6 L1384.8,1326.9 L1384.9,1321.2 L1385.8,1324.5 L1385.6,1323.1 L1385.7,1322.2 L1386.7,1320.2 L1387.3,1318.4 L1385.9,1315.1 L1386.7,1314.8 L1386.2,1312.4 L1386.5,1308.5 L1387.0,1310.6 L1387.3,1306.2 L1386.8,1304.6 L1387.3,1302.4 L1387.2,1300.4 L1387.4,1301.4 L1388.2,1299.3 L1388.9,1297.8 L1387.4,1294.5 L1388.4,1294.7 L1388.5,1289.0 L1388.5,1290.5 L1389.3,1287.5 L1388.3,1283.1 L1389.0,1285.6 L1388.4,1282.4 L1389.5,1280.7 L1388.9,1276.1 L1388.6,1275.5 L1390.5,1274.3 L1390.8,1274.9 L1390.1,1270.7 L1390.2,1271.3 L1389.9,1265.3 L1391.2,1266.3 L1390.3,1263.1 L1389.8,1262.3 L1391.3,1260.0 L1391.3,1259.7 L1390.7,1257.3 L1392.1,1256.0 L1390.7,1253.9 L1391.8,1252.8 L1392.0,1251.9 L1392.7,1246.0 L1391.9,1243.4 L1393.0,1242.1 L1392.0,1243.5 L1392.2,1239.3 L1392.5,1238.0 L1392.6,1239.4 L1392.4,1236.3 L1393.2,1235.3 L1393.7,1236.1 L1394.1,1230.3 L1393.3,1228.6 L1393.9,1229.0 L1394.3,1228.2 L1394.4,1224.2 L1394.2,1225.2 L1394.8,1222.1 L1393.4,1224.4 L1394.1,1221.7 L1394.4,1223.8 L1395.0,1221.7 L1395.6,1220.7 L1394.9,1216.2 L1395.2,1218.7 L1396.1,1215.1 L1396.3,1215.8 L1394.8,1213.9 L1396.4,1209.4 L1395.7,1211.9 L1396.2,1210.2 L1395.5,1207.6 L1397.2,1207.2 L1396.7,1206.6 L1396.7,1203.7 L1397.4,1204.5 L1398.4,1198.4 L1398.1,1200.0 L1399.2,1196.8 L1399.0,1195.6 L1399.4,1195.2 L1400.3,1193.9 L1398.9,1190.3 L1399.8,1185.8 L1399.4,1188.6 L1401.1,1185.3 L1400.5,1182.3 L1401.5,1184.6 L1400.1,1182.4 L1401.9,1179.5 L1400.9,1179.1 L1401.0,1176.6 L1401.7,1176.3 L1401.9,1176.6 L1402.4,1177.2 L1402.6,1172.6 L1402.6,1175.3 L1401.8,1169.6 L1401.6,1173.1 L1403.5,1167.9 L1402.2,1168.8 L1402.0,1169.2 L1403.7,1169.4 L1402.5,1168.7 L1403.9,1163.1 L1404.2,1166.7 L1404.4,1164.6 L1404.4,1162.3 L1402.9,1162.1 L1404.1,1157.8 L1403.5,1161.2 L1405.2,1155.2 L1403.6,1158.0 L1404.3,1158.0 L1404.8,1156.0 L1404.1,1155.3 L1404.6,1152.2 L1405.3,1150.5 L1405.0,1150.2 L1404.7,1147.4 L1405.1,1150.5 L1405.6,1150.3 L1406.9,1144.3 L1407.0,1148.2 L1406.3,1144.1 L1406.9,1143.1 L1406.3,1143.5 L1406.3,1140.4 L1406.1,1138.9 L1407.8,1136.8 L1406.7,1137.3 L1407.1,1133.9 L1406.8,1134.0 L1408.4,1136.4 L1408.6,1134.9 L1409.1,1131.2 L1408.7,1131.3 L1409.4,1130.2 L1409.1,1131.2 L1409.7,1130.0 L1408.6,1128.3 L1409.7,1129.0 L1408.7,1126.7 L1409.8,1122.2 L1408.8,1123.6 L1409.9,1121.1 L1410.1,1119.0 L1410.1,1120.3 L1410.8,1120.3 L1409.4,1118.3 L1409.7,1117.1 L1410.9,1117.1 L1409.8,1115.0 L1410.2,1113.8 L1411.0,1112.6 L1411.7,1110.4 L1411.3,1109.1 L1410.9,1110.3 L1411.0,1110.3 L1411.5,1105.1 L1412.5,1103.5 L1411.7,1106.3 L1411.3,1105.5 L1412.5,1106.1 L1412.2,1104.2 L1413.7,1101.1 L1412.0,1099.1 L1413.6,1096.1 L1413.4,1098.1 L1413.8,1096.2 L1414.4,1093.6 L1413.5,1093.7 L1413.9,1092.1 L1413.8,1092.4 L1415.0,1088.9 L1413.9,1088.5 L1414.9,1091.2 L1413.7,1090.2 L1415.6,1087.3 L1415.2,1088.2 L1416.0,1083.8 L1415.8,1081.8 L1415.3,1085.8 L1416.0,1082.5 L1415.8,1080.9 L1415.1,1080.5 L1417.2,1076.8 L1415.5,1078.8 L1417.3,1076.6 L1416.0,1076.8 L1417.4,1073.2 L1417.9,1074.0 L1418.0,1071.1 L1417.4,1072.6 L1418.2,1072.7 L1418.9,1070.8 L1417.3,1068.2 L1418.8,1069.0 L1418.3,1063.6 L1419.0,1063.4 L1419.1,1062.5 L1420.1,1060.2 L1419.6,1064.2 L1420.0,1058.8 L1420.0,1061.8 L1420.4,1061.2 L1421.0,1057.0 L1419.8,1057.7 L1420.8,1057.4 L1420.9,1055.8 L1420.5,1054.9 L1422.2,1054.2 L1422.2,1052.3 L1421.2,1049.2 L1421.7,1047.9 L1422.5,1047.3 L1422.9,1049.4 L1423.8,1043.0 L1423.2,1045.4 L1423.1,1045.3 L1424.2,1041.3 L1423.9,1039.8 L1423.7,1039.9 L1424.7,1042.2 L1425.0,1038.9 L1424.9,1038.6 L1424.8,1034.6 L1424.5,1038.5 L1425.3,1032.4 L1425.1,1031.5 L1424.8,1032.0 L1425.4,1028.9 L1426.2,1032.4 L1426.5,1027.3 L1426.6,1025.5 L1426.7,1024.1 L1427.1,1027.4 L1427.2,1026.2 L1427.6,1023.8 L1427.8,1021.3 L1428.8,1021.5 L1427.6,1018.9 L1428.2,1019.4 L1428.6,1015.7 L1428.8,1018.1 L1430.1,1015.4 L1430.8,1009.1 L1430.5,1010.7 L1430.8,1007.7 L1431.5,1006.5 L1431.0,1001.2 L1431.6,999.3 L1432.1,997.5 L1432.1,999.5 L1432.7,998.2 L1433.6,997.3 L1434.3,996.0 L1434.5,991.7 L1435.9,991.9 L1435.4,991.6 L1436.5,988.9 L1435.5,989.0 L1436.2,982.6 L1437.2,982.4 L1437.5,983.0 L1438.6,983.1 L1439.8,982.1 L1440.4,979.5 L1439.5,981.0 L1441.8,974.7 L1441.6,976.0 L1442.9,971.5 L1442.5,974.0 L1443.1,976.6 L1443.2,970.8 L1446.0,971.6 L1444.9,972.3 L1446.9,974.5 L1448.1,973.8 L1447.6,966.7 L1449.3,966.0 L1449.4,962.1 L1449.8,962.2 L1450.9,967.0 L1451.4,962.1 L1452.2,962.8 L1454.3,964.7 L1455.3,964.5 L1456.2,967.9 L1457.3,960.8 L1458.0,966.4 L1458.7,970.2 L1458.3,964.1 L1458.2,972.6 L1458.7,966.7 L1460.5,973.2 L1460.9,968.8 L1461.9,976.6 L1460.5,975.8 L1461.6,973.5 L1462.6,982.1 L1461.9,981.4 L1464.1,975.4 L1464.5,975.8 L1463.8,977.0 L1463.9,979.6 L1465.1,983.4 L1466.3,987.8 L1464.9,982.0 L1465.7,990.6 L1467.1,991.9 L1467.6,992.0 L1467.3,994.1 L1468.2,995.0 L1468.6,993.2 L1467.4,995.2 L1468.9,999.6 L1469.3,1000.2 L1470.0,995.6 L1470.3,999.1 L1469.6,999.1 L1470.0,999.9 L1470.8,999.5 L1470.5,1004.7 L1471.9,1006.7 L1471.4,1004.5 L1471.9,1011.3 L1470.9,1007.2 L1471.7,1012.5 L1472.8,1006.2 L1473.5,1011.7 L1472.3,1010.2 L1472.5,1013.2 L1472.8,1019.4 L1473.2,1018.4 L1474.6,1020.2 L1474.2,1022.0 L1474.8,1025.0 L1475.4,1024.9 L1475.8,1030.0 L1476.7,1030.4 L1475.7,1028.6 L1476.2,1036.5 L1477.7,1036.8 L1476.2,1034.7 L1476.3,1037.1 L1478.0,1036.8 L1477.9,1039.8 L1477.0,1040.3 L1476.7,1042.4 L1478.6,1041.6 L1478.8,1042.5 L1477.8,1046.0 L1477.6,1043.1 L1478.4,1046.9 L1477.8,1046.1 L1477.9,1047.3 L1478.1,1051.2 L1479.8,1052.0 L1478.6,1052.9 L1480.2,1052.9 L1479.9,1052.0 L1480.2,1058.3 L1479.9,1059.7 L1480.2,1060.2 L1480.1,1059.0 L1479.9,1061.3 L1481.0,1059.4 L1481.0,1060.7 L1481.1,1066.0 L1481.9,1066.9 L1481.5,1068.4 L1481.7,1069.8 L1481.9,1072.0 L1481.5,1074.0 L1481.3,1069.9 L1481.3,1074.3 L1483.1,1073.2 L1483.3,1076.9 L1483.1,1076.4 L1483.9,1079.7 L1482.6,1082.1 L1482.4,1083.8 L1484.2,1082.2 L1483.3,1084.7 L1483.3,1088.3 L1484.8,1088.9 L1484.8,1093.2 L1485.2,1091.7 L1485.6,1092.2 L1485.7,1093.2 L1484.9,1094.9 L1485.6,1096.6 L1485.9,1098.6 L1486.2,1102.3 L1485.7,1101.8 L1486.8,1103.8 L1486.2,1109.8 L1487.5,1110.3 L1487.2,1112.7 L1487.8,1114.3 L1487.9,1113.5 L1488.1,1115.0 L1487.9,1114.5 L1487.4,1120.1 L1487.4,1118.3 L1489.2,1124.7 L1489.6,1125.7 L1488.5,1126.2 L1489.2,1124.7 L1488.7,1129.5 L1489.4,1130.9 L1490.6,1129.5 L1489.3,1136.5 L1489.5,1134.4 L1490.5,1135.3 L1490.4,1136.3 L1491.5,1138.1 L1491.5,1141.0 L1491.3,1140.2 L1492.3,1141.3 L1492.4,1142.7 L1491.7,1146.7 L1492.4,1147.0 L1493.3,1148.9 L1492.0,1152.6 L1493.1,1153.2 L1493.9,1156.2 L1492.8,1157.6 L1494.2,1153.9 L1493.6,1160.1 L1493.6,1158.2 L1494.0,1162.6 L1493.3,1162.8 L1494.9,1165.8 L1495.0,1163.0 L1495.2,1167.0 L1494.3,1168.6 L1495.5,1168.7 L1495.8,1170.1 L1495.0,1168.6 L1494.9,1170.8 L1495.6,1173.7 L1495.5,1172.2 L1496.6,1177.4 L1496.7,1174.2 L1497.8,1178.5 L1498.0,1180.9 L1498.2,1182.6 L1498.1,1184.1 L1498.2,1186.0 L1498.9,1182.4 L1498.2,1188.3 L1498.8,1187.6 L1498.5,1185.7 L1498.7,1186.5 L1498.4,1190.5 L1499.2,1192.9 L1499.7,1195.0 L1499.8,1196.5 L1499.0,1195.8 L1501.0,1198.8 L1501.0,1201.5 L1499.9,1200.0 L1501.5,1200.4 L1501.0,1201.0 L1500.3,1206.7 L1501.9,1207.3 L1502.4,1207.4 L1502.5,1210.2 L1501.9,1209.9 L1501.6,1211.2 L1503.1,1210.3 L1503.6,1212.9 L1502.9,1215.1 L1502.2,1218.7 L1502.7,1219.0 L1504.2,1221.0 L1503.5,1220.8 L1503.0,1226.5 L1504.2,1225.2 L1505.0,1228.3 L1504.2,1232.6 L1504.7,1230.6 L1506.1,1232.8 L1505.3,1237.1 L1505.9,1235.4 L1504.9,1236.0 L1505.3,1241.9 L1506.0,1242.4 L1506.1,1241.2 L1507.7,1246.7 L1507.3,1248.2 L1506.3,1251.1 L1508.1,1249.3 L1508.3,1255.4 L1507.2,1256.8 L1507.1,1257.5 L1509.2,1255.5 L1508.4,1256.5 L1508.8,1258.3 L1508.9,1260.7 L1508.5,1265.2 L1508.8,1263.6 L1509.1,1266.5 L1510.0,1269.2 L1510.0,1271.4 L1509.6,1272.7 L1509.4,1270.6 L1510.6,1275.3 L1510.2,1278.6 L1510.0,1278.9 L1511.1,1278.8 L1511.0,1276.8 L1511.2,1281.6 L1511.9,1283.6 L1511.2,1282.8 L1511.0,1283.3 L1511.9,1287.3 L1511.5,1284.5 L1512.8,1290.4 L1511.9,1291.1 L1512.2,1293.3 L1513.4,1290.4 L1513.1,1295.6 L1514.5,1292.0 L1513.7,1293.4 L1515.1,1299.6 L1514.3,1300.1 L1514.2,1301.2 L1514.4,1299.2 L1515.3,1303.0 L1515.5,1300.5 L1514.8,1301.8 L1515.6,1305.9 L1515.6,1308.7 L1516.8,1306.3 L1516.9,1310.8 L1516.5,1311.0 L1517.5,1313.3 L1517.8,1310.0 L1518.5,1312.3 L1518.3,1313.1 L1518.9,1318.7 L1519.2,1319.4 L1519.7,1319.8 L1519.9,1319.8 L1518.7,1321.0 L1519.6,1325.8 L1520.6,1324.5 L1520.9,1329.6 L1520.4,1330.0 L1520.5,1329.8 L1520.7,1331.0 L1520.7,1333.1 L1522.5,1333.6 L1521.6,1339.7 L1522.2,1337.5 L1522.1,1338.0 L1523.9,1344.0 L1524.4,1346.8 L1524.0,1349.2 L1523.4,1348.9 L1524.7,1346.5 L1525.1,1352.4 L1523.8,1348.6 L1523.7,1349.8 L1524.4,1354.5 L1524.3,1352.2 L1525.4,1356.7 L1524.2,1357.7 L1525.7,1355.9 L1525.4,1355.5 L1525.5,1356.3 L1526.3,1360.5 L1525.3,1359.8 L1526.3,1361.4 L1526.8,1364.3 L1527.0,1362.6 L1526.0,1368.6 L1527.2,1366.7 L1528.0,1365.6 L1527.4,1367.2 L1526.9,1368.7 L1527.3,1368.9 L1527.0,1373.8 L1527.2,1373.8 L1528.9,1376.7 L1527.4,1377.5 L1528.5,1377.5 L1529.1,1381.1 L1528.4,1381.3 L1528.3,1380.8 L1529.8,1383.3 L1528.9,1385.0 L1529.6,1386.1 L1530.2,1384.5 L1529.5,1383.6 L1530.7,1384.6 L1529.3,1386.7 L1529.6,1387.3 L1530.9,1388.8 L1531.6,1391.1 L1532.0,1395.7 L1531.2,1396.0 L1532.4,1395.4 L1531.5,1401.4 L1531.9,1399.1 L1532.5,1404.8 L1534.0,1404.5 L1534.1,1408.9 L1533.9,1409.8 L1534.5,1408.1 L1535.7,1410.7 L1535.9,1414.1 L1535.3,1413.8 L1536.4,1418.3 L1537.6,1417.3 L1537.3,1421.3 L1538.4,1417.7 L1539.0,1425.3 L1538.4,1425.6 L1539.2,1424.1 L1538.8,1427.9 L1540.6,1428.5 L1540.9,1428.3 L1541.8,1434.6 L1541.6,1430.9 L1541.0,1435.2 L1542.0,1433.6 L1542.6,1443.5 L1543.5,1443.0 L1543.8,1441.2 L1543.8,1445.4 L1545.4,1446.8 L1545.4,1449.3 L1545.4,1454.6 L1547.2,1448.3 L1547.7,1455.9 L1546.6,1458.4 L1548.7,1454.9 L1548.0,1458.7 L1548.2,1456.5 L1550.0,1460.8 L1549.9,1468.9 L1551.3,1463.1 L1550.3,1461.4 L1552.1,1469.5 L1553.3,1470.9 L1553.1,1475.8 L1553.4,1473.4 L1553.7,1474.8 L1554.9,1476.2 L1555.6,1476.1 L1555.9,1478.0 L1556.3,1484.5 L1556.0,1475.1 L1556.8,1479.4 L1557.2,1485.7 L1558.4,1485.3 L1559.6,1481.4 L1560.5,1493.2 L1559.8,1494.1 L1561.5,1483.1 L1561.1,1496.0 L1561.7,1488.2 L1562.2,1491.3 L1563.7,1496.2 L1563.5,1505.8 L1564.2,1499.3 L1565.9,1508.3 L1565.6,1498.6 L1566.6,1502.4 L1567.1,1503.9 L1567.0,1497.7 L1568.4,1499.9 L1568.8,1497.0 L1569.2,1500.3 L1570.1,1516.0 L1570.1,1503.0 L1571.1,1505.4 L1571.3,1501.9 L1573.1,1518.9 L1572.4,1517.8 L1574.7,1518.3 L1575.3,1504.9 L1575.0,1522.4 L1576.1,1521.6 L1576.3,1524.1 L1578.3,1509.3 L1578.6,1529.3 L1578.0,1512.3 L1580.4,1524.0 L1580.0,1512.1 L1581.8,1509.8 L1582.7,1510.3 L1582.2,1522.5 L1583.4,1531.6 L1583.8,1535.6 L1584.4,1521.6 L1586.5,1521.7 L1586.3,1515.9 L1587.8,1528.9 L1588.7,1534.1 L1588.6,1518.1 L1589.3,1531.1 L1590.2,1531.2 L1590.8,1525.8 L1593.0,1543.3 L1592.8,1545.4 L1593.1,1541.2 L1594.3,1531.8 L1595.6,1541.4 L1596.1,1532.6 L1597.2,1551.3 L1599.1,1554.5 L1599.6,1558.1 L1599.1,1556.4 L1600.6,1530.2 L1601.1,1558.0 L1602.9,1533.4 L1603.1,1562.1 L1605.3,1564.4 L1605.9,1564.2 L1606.8,1549.2 L1606.4,1552.7 L1606.8,1553.6 L1608.1,1542.3 L1609.3,1559.2 L1610.2,1540.0 L1612.0,1544.5 L1612.1,1567.3 L1613.2,1553.6 L1614.4,1541.8 L1614.6,1543.5 L1615.4,1550.3 L1616.9,1556.4 L1616.4,1546.9 L1617.2,1559.1 L1619.9,1574.9 L1621.0,1545.6 L1622.0,1552.5 L1622.3,1548.1 L1624.8,1547.2 L1626.3,1557.3 L1626.6,1578.8 L1627.5,1562.1 L1630.1,1570.2 L1630.1,1551.5 L1632.6,1570.8 L1634.1,1555.4 L1634.0,1574.6 L1635.4,1585.1 L1636.6,1554.6 L1638.3,1554.0 L1639.3,1584.9 L1641.2,1567.2 L1642.5,1581.9 L1642.5,1587.1 L1645.5,1568.0 L1645.4,1579.3 L1647.3,1558.3 L1648.7,1573.0 L1650.0,1556.1 L1651.1,1571.9 L1653.1,1582.0 L1654.0,1577.3 L1654.3,1587.2 L1655.7,1592.3 L1657.5,1573.1 L1658.5,1575.8 L1660.0,1565.0 L1661.1,1561.4 L1662.6,1564.5 L1663.2,1561.7 L1665.1,1562.4 L1666.3,1585.5 L1666.9,1574.3 L1668.5,1578.7 L1669.9,1576.4 L1672.3,1564.2 L1673.7,1596.6 L1674.5,1591.8 L1676.0,1580.0 L1676.2,1569.3 L1678.3,1590.1 L1679.8,1601.4 L1680.3,1587.9 L1681.5,1598.0 L1682.3,1588.7 L1685.1,1575.7 L1686.5,1582.4 L1687.7,1578.6 L1688.7,1580.7 L1689.7,1600.7 L1690.4,1594.8 L1692.0,1600.6 L1693.3,1590.7 L1694.3,1589.0 L1694.5,1568.6 L1697.0,1572.1 L1697.0,1574.5 L1697.7,1574.0 L1699.5,1572.1 L1701.3,1589.4 L1701.0,1574.8 L1702.8,1602.2" fill="none" stroke="#00cc00" stroke-width="9" stroke-linejoin="round" stroke-linecap="round"/>
<path d="M340.8,2254.4C343.0,2249.2 349.4,2232.8 354.0,2223.2C358.6,2213.6 364.4,2204.8 368.4,2196.8C372.4,2188.8 374.2,2181.6 378.0,2175.2C381.8,2168.8 387.2,2160.0 391.2,2158.4C395.2,2156.8 397.4,2159.2 402.0,2165.6C406.6,2172.0 413.6,2189.6 418.8,2196.8C424.0,2204.0 428.8,2202.4 433.2,2208.8C437.6,2215.2 440.8,2224.8 445.2,2235.2C449.6,2245.6 454.4,2263.1 459.6,2271.1C464.8,2279.1 468.8,2279.9 476.4,2283.1C484.0,2286.3 498.4,2291.5 505.2,2290.3C512.0,2289.1 513.2,2285.2 517.2,2276.0C521.2,2266.8 525.2,2248.0 529.2,2235.2C533.2,2222.4 538.0,2206.0 541.2,2199.2C544.4,2192.4 545.2,2194.0 548.4,2194.4C551.6,2194.8 556.4,2198.8 560.4,2201.6C564.4,2204.4 568.7,2212.8 572.3,2211.2C575.9,2209.6 578.8,2203.2 582.0,2192.0C585.2,2180.8 588.7,2157.6 591.5,2144.0C594.3,2130.4 596.1,2117.6 598.7,2110.4C601.3,2103.2 603.9,2100.0 607.1,2100.8C610.3,2101.6 614.2,2104.0 618.0,2115.2C621.8,2126.4 626.0,2151.2 630.0,2168.0C634.0,2184.8 639.2,2206.8 642.0,2216.0C644.8,2225.2 644.3,2227.2 646.7,2223.2C649.1,2219.2 653.1,2209.2 656.3,2192.0C659.5,2174.8 662.8,2136.0 666.0,2120.0C669.2,2104.0 672.3,2097.2 675.5,2096.0C678.7,2094.8 681.9,2100.8 685.1,2112.8C688.3,2124.8 691.5,2142.8 694.7,2168.0C697.9,2193.2 701.1,2238.0 704.3,2264.0C707.5,2290.0 710.7,2307.7 714.0,2324.0C717.3,2340.3 719.9,2351.8 724.0,2362.0C728.1,2372.2 733.2,2382.0 738.4,2385.5C743.6,2389.0 748.8,2385.8 755.2,2383.0C761.6,2380.2 770.0,2375.8 776.8,2369.0C783.6,2362.2 790.8,2353.5 796.0,2342.0C801.2,2330.5 803.6,2316.0 808.0,2300.0C812.4,2284.0 818.0,2259.8 822.4,2246.0C826.8,2232.2 831.2,2223.2 834.4,2217.2C837.6,2211.2 838.4,2208.0 841.6,2210.0C844.8,2212.0 849.6,2218.0 853.6,2229.2C857.6,2240.4 861.2,2260.0 865.6,2277.2C870.0,2294.4 874.8,2316.8 880.0,2332.4C885.2,2348.0 890.8,2360.8 896.8,2370.8C902.8,2380.8 908.8,2387.6 916.0,2392.4C923.2,2397.2 928.0,2399.8 940.0,2399.6C952.0,2399.4 972.0,2395.1 988.0,2391.0C1004.0,2386.9 1024.0,2379.5 1036.0,2375.0C1048.0,2370.5 1052.0,2368.8 1060.0,2364.0C1068.0,2359.2 1077.5,2351.7 1084.0,2346.0C1090.5,2340.3 1092.8,2335.7 1099.2,2330.0C1105.6,2324.3 1115.2,2316.3 1122.2,2312.0C1129.2,2307.7 1135.6,2306.3 1141.4,2304.0C1147.2,2301.7 1151.7,2302.7 1156.8,2298.0C1161.9,2293.3 1165.7,2283.0 1172.1,2276.0C1178.5,2269.0 1189.4,2262.0 1195.2,2256.0C1201.0,2250.0 1203.5,2245.7 1206.7,2240.0C1209.9,2234.3 1211.8,2226.7 1214.4,2222.0C1217.0,2217.3 1220.0,2218.2 1222.1,2212.0C1224.2,2205.8 1225.0,2195.7 1227.0,2184.8C1229.0,2173.9 1231.8,2158.9 1234.0,2146.4C1236.2,2133.9 1237.3,2131.1 1240.0,2110.0C1242.7,2088.9 1246.5,2052.7 1250.0,2020.0C1253.5,1987.3 1257.3,1937.8 1260.8,1913.6C1264.3,1889.4 1267.6,1885.2 1271.0,1875.0C1274.4,1864.8 1278.8,1855.5 1281.2,1852.4C1283.6,1849.3 1283.6,1848.0 1285.3,1856.5C1287.0,1865.0 1289.0,1880.3 1291.4,1903.4C1293.8,1926.5 1297.1,1967.9 1299.5,1995.1C1301.9,2022.3 1303.0,2046.8 1305.7,2066.5C1308.4,2086.2 1312.5,2107.3 1315.9,2113.4C1319.3,2119.5 1322.4,2116.1 1326.1,2103.2C1329.8,2090.3 1333.9,2064.2 1338.3,2036.0C1342.7,2007.8 1347.8,1968.0 1352.6,1934.0C1357.3,1900.0 1362.7,1859.2 1366.8,1832.0C1370.9,1804.8 1373.6,1783.4 1377.0,1770.8C1380.4,1758.2 1383.8,1756.5 1387.2,1756.5C1390.6,1756.5 1394.3,1761.6 1397.4,1770.8C1400.5,1780.0 1402.9,1796.3 1405.6,1811.6C1408.3,1826.9 1410.7,1842.2 1413.8,1862.6C1416.9,1883.0 1420.6,1905.1 1424.0,1934.0C1427.4,1962.9 1431.5,2006.6 1434.2,2035.9C1437.0,2065.2 1438.7,2085.7 1440.5,2110.0C1442.3,2134.3 1442.8,2156.1 1445.3,2181.6C1447.8,2207.1 1452.1,2241.1 1455.5,2263.2C1458.9,2285.3 1462.0,2299.6 1465.7,2314.2C1469.4,2328.8 1472.8,2340.7 1477.9,2350.9C1483.0,2361.1 1488.8,2368.9 1496.3,2375.3C1503.8,2381.8 1511.6,2386.5 1522.8,2389.6C1534.0,2392.7 1551.4,2393.3 1563.6,2393.7C1575.8,2394.0 1586.7,2393.4 1596.2,2391.7C1605.7,2390.0 1613.4,2383.4 1620.7,2383.5C1628.0,2383.6 1631.8,2390.3 1640.0,2392.0C1648.2,2393.7 1659.3,2393.0 1669.6,2393.7C1679.9,2394.4 1696.6,2395.6 1702.0,2396.0" fill="none" stroke="#ff0000" stroke-width="6" stroke-linejoin="round" stroke-linecap="round"/>
<path d="M340.8,2252.2 L341.6,2250.4 L342.4,2247.7 L343.4,2245.3 L344.2,2243.2 L345.0,2241.2 L345.9,2239.3 L346.8,2237.3 L347.7,2234.6 L348.7,2233.0 L349.7,2230.7 L350.6,2228.4 L351.6,2226.3 L352.5,2224.3 L353.4,2222.3 L354.6,2219.6 L355.7,2217.5 L356.8,2215.2 L357.9,2214.2 L358.9,2212.3 L360.0,2210.6 L361.2,2208.8 L362.3,2206.4 L363.5,2204.9 L364.8,2202.8 L366.2,2200.5 L367.3,2198.8 L368.4,2196.5 L369.6,2194.4 L370.9,2192.2 L371.9,2190.1 L372.8,2188.9 L373.8,2186.0 L374.8,2184.8 L375.8,2181.9 L376.9,2180.6 L377.9,2178.4 L379.0,2176.3 L380.0,2174.0 L381.1,2172.3 L382.1,2169.9 L383.2,2167.8 L384.2,2165.8 L385.2,2164.2 L386.6,2161.1 L388.0,2159.3 L389.3,2156.8 L390.8,2155.3 L392.5,2153.7 L394.4,2152.6 L396.2,2152.7 L397.7,2155.6 L398.8,2156.8 L399.8,2159.2 L400.9,2161.3 L402.0,2163.6 L403.2,2165.2 L404.2,2168.0 L405.2,2169.7 L406.2,2171.9 L407.3,2174.8 L408.4,2177.8 L409.2,2179.6 L409.9,2180.9 L410.7,2182.9 L411.5,2184.8 L412.2,2186.7 L413.3,2189.5 L414.4,2192.6 L415.5,2194.2 L416.6,2196.8 L417.5,2199.3 L418.5,2200.8 L419.7,2202.6 L421.0,2204.5 L422.6,2206.3 L424.3,2207.8 L426.1,2208.6 L427.7,2210.1 L429.2,2212.2 L430.5,2213.3 L431.9,2215.6 L433.1,2217.5 L434.2,2218.5 L435.4,2220.7 L436.6,2222.7 L437.8,2225.1 L439.1,2228.0 L440.3,2230.2 L441.2,2232.3 L442.2,2234.1 L443.1,2235.6 L444.0,2237.8 L444.9,2238.9 L445.8,2241.4 L446.7,2243.5 L447.6,2246.2 L448.5,2247.5 L449.4,2249.9 L450.3,2252.4 L451.2,2255.9 L452.1,2258.3 L453.0,2260.6 L453.9,2263.1 L454.8,2265.6 L455.7,2267.3 L456.6,2269.7 L457.5,2272.2 L458.4,2273.1 L459.6,2275.7 L460.8,2278.5 L462.0,2280.1 L463.4,2281.5 L464.9,2283.6 L466.4,2284.4 L468.1,2286.7 L469.9,2287.2 L471.8,2288.8 L473.7,2290.2 L475.6,2291.8 L477.6,2292.2 L479.7,2293.6 L481.8,2294.9 L483.9,2296.3 L486.0,2296.9 L488.2,2297.1 L490.4,2296.9 L492.7,2297.2 L494.8,2297.2 L496.9,2297.5 L499.0,2296.9 L501.1,2296.9 L503.2,2296.3 L505.3,2295.5 L507.2,2294.4 L509.0,2292.9 L510.6,2292.1 L512.1,2290.9 L513.5,2289.5 L514.8,2287.6 L516.0,2285.5 L517.1,2283.3 L518.0,2280.9 L518.9,2279.4 L519.9,2276.3 L520.8,2274.6 L521.5,2272.8 L522.2,2270.2 L523.0,2268.1 L523.8,2265.4 L524.5,2262.7 L525.2,2259.7 L525.8,2258.4 L526.2,2255.7 L526.8,2253.8 L527.2,2252.1 L527.8,2250.1 L528.2,2247.3 L528.8,2245.6 L529.2,2242.8 L529.8,2240.9 L530.2,2239.6 L530.8,2237.5 L531.2,2234.7 L532.0,2231.7 L532.8,2229.1 L533.5,2227.0 L534.2,2224.5 L535.0,2223.0 L535.8,2220.4 L536.5,2219.2 L537.2,2217.0 L538.2,2214.7 L539.2,2211.6 L540.2,2210.1 L541.2,2208.0 L542.2,2205.9 L543.5,2204.3 L545.0,2202.2 L546.7,2201.2 L548.7,2201.1 L550.7,2201.3 L552.7,2202.4 L554.4,2204.0 L556.2,2204.8 L558.0,2206.1 L559.6,2207.2 L561.3,2209.0 L562.7,2211.2 L564.1,2213.0 L565.5,2214.2 L566.9,2215.3 L568.6,2216.8 L570.4,2218.7 L572.7,2218.3 L574.7,2217.5 L576.5,2217.0 L578.0,2214.9 L579.1,2213.0 L580.2,2211.6 L581.1,2208.6 L581.8,2207.2 L582.5,2205.4 L583.2,2202.3 L583.7,2200.1 L584.2,2198.3 L584.7,2195.4 L585.2,2193.5 L585.7,2190.5 L586.2,2188.0 L586.7,2185.6 L587.2,2182.5 L587.7,2179.5 L588.2,2177.1 L588.7,2174.3 L589.2,2171.2 L589.7,2168.0 L590.2,2165.6 L590.7,2163.5 L591.2,2160.3 L591.7,2158.0 L592.2,2155.3 L592.7,2153.4 L593.2,2151.0 L594.0,2149.2 L594.8,2146.5 L595.5,2143.6 L596.2,2142.0 L597.0,2140.2 L598.0,2138.1 L599.0,2136.1 L600.0,2134.2 L601.2,2131.6 L602.5,2130.0 L604.0,2127.9 L605.8,2127.5 L607.8,2126.3 L609.8,2127.6 L611.5,2128.1 L613.0,2130.0 L614.2,2131.6 L615.5,2134.0 L616.5,2135.9 L617.5,2137.3 L618.2,2139.6 L619.0,2142.8 L619.7,2144.8 L620.4,2147.4 L620.9,2149.4 L621.4,2151.5 L621.8,2153.8 L622.3,2156.0 L622.8,2159.1 L623.2,2161.8 L623.7,2164.4 L624.2,2166.4 L624.7,2168.4 L625.2,2171.0 L625.7,2174.1 L626.2,2176.3 L626.7,2179.0 L627.2,2180.7 L627.7,2183.1 L628.3,2185.6 L628.8,2187.4 L629.4,2189.7 L630.0,2192.4 L630.6,2194.2 L631.2,2195.7 L631.9,2198.2 L632.6,2200.4 L633.3,2202.8 L634.0,2204.6 L634.7,2206.8 L635.5,2208.8 L636.2,2211.7 L637.0,2212.8 L637.7,2214.9 L638.5,2217.6 L639.3,2219.9 L640.0,2221.4 L641.1,2223.9 L642.2,2226.2 L643.3,2228.9 L644.3,2230.4 L645.5,2232.2 L647.2,2233.3 L649.1,2231.9 L650.1,2229.5 L650.9,2227.3 L651.6,2225.6 L652.1,2223.6 L652.7,2220.5 L653.2,2218.5 L653.7,2215.3 L654.3,2213.8 L654.8,2210.7 L655.4,2207.2 L656.1,2204.6 L656.8,2202.2 L657.2,2199.4 L657.7,2197.1 L658.2,2195.1 L658.7,2193.0 L659.2,2190.0 L659.7,2186.9 L660.3,2184.0 L660.8,2182.0 L661.3,2179.0 L661.8,2176.3 L662.4,2172.6 L662.9,2170.6 L663.4,2166.8 L664.0,2164.8 L664.5,2162.0 L665.0,2158.3 L665.5,2156.0 L666.0,2154.5 L666.5,2151.9 L667.0,2148.9 L667.4,2147.3 L668.1,2144.8 L668.7,2142.5 L669.3,2141.1 L670.1,2138.9 L671.0,2136.0 L672.1,2134.1 L673.5,2133.1 L675.5,2131.8 L677.6,2131.4 L679.7,2132.3 L681.5,2132.9 L682.7,2134.8 L683.7,2136.8 L684.5,2139.7 L685.1,2141.1 L685.8,2144.5 L686.5,2147.3 L686.9,2149.1 L687.4,2151.3 L688.0,2153.6 L688.5,2155.5 L689.0,2159.1 L689.5,2161.6 L690.1,2163.5 L690.6,2166.3 L691.2,2169.5 L691.7,2172.6 L692.3,2175.6 L692.8,2178.4 L693.3,2181.3 L693.8,2184.1 L694.4,2187.9 L694.9,2190.0 L695.3,2193.6 L695.8,2195.6 L696.3,2198.2 L696.7,2201.1 L697.1,2204.5 L697.5,2206.3 L697.9,2208.5 L698.2,2211.7 L698.5,2214.0 L698.9,2216.1 L699.2,2218.8 L699.5,2221.2 L699.8,2223.6 L700.0,2226.3 L700.3,2229.5 L700.6,2232.2 L700.8,2234.2 L701.1,2236.1 L701.4,2239.3 L701.6,2241.9 L701.9,2243.8 L702.2,2246.7 L702.4,2249.5 L702.7,2251.7 L703.0,2254.5 L703.3,2256.4 L703.6,2259.3 L704.0,2261.6 L704.3,2264.0 L704.7,2266.3 L705.0,2268.7 L705.4,2271.7 L705.8,2273.9 L706.2,2277.3 L706.5,2279.8 L706.9,2282.1 L707.3,2284.7 L707.7,2287.0 L708.1,2290.2 L708.6,2293.4 L709.0,2295.2 L709.4,2298.5 L709.8,2300.5 L710.2,2302.9 L710.7,2306.0 L711.1,2308.2 L711.5,2310.6 L711.9,2312.4 L712.3,2315.8 L712.8,2317.6 L713.2,2319.6 L713.6,2322.0 L714.0,2324.2 L714.4,2325.9 L715.0,2329.4 L715.6,2332.0 L716.2,2334.4 L716.8,2336.5 L717.3,2339.3 L717.9,2341.4 L718.5,2344.0 L719.1,2346.6 L719.7,2348.3 L720.3,2350.6 L721.0,2352.5 L721.6,2355.3 L722.3,2357.3 L723.0,2359.3 L723.7,2360.3 L724.8,2363.2 L725.8,2365.6 L727.0,2367.2 L728.1,2370.2 L729.3,2371.7 L730.5,2373.4 L731.7,2375.6 L732.9,2377.2 L734.5,2379.3 L736.1,2381.0 L737.8,2382.0 L739.7,2384.1 L741.7,2383.7 L744.0,2383.8 L746.0,2384.5 L748.1,2382.9 L750.2,2382.7 L752.1,2382.3 L754.0,2380.8 L756.0,2380.1 L758.1,2379.1 L760.3,2377.6 L762.1,2377.5 L764.0,2376.1 L765.9,2374.3 L767.7,2373.6 L769.6,2372.4 L771.5,2371.2 L773.3,2369.1 L775.1,2368.1 L776.8,2366.0 L778.5,2364.8 L780.2,2362.1 L781.9,2360.8 L783.6,2358.6 L785.3,2356.3 L786.6,2354.5 L787.8,2353.5 L789.0,2351.7 L790.2,2350.1 L791.4,2348.0 L792.5,2345.8 L793.6,2344.7 L794.7,2342.6 L795.7,2339.9 L796.6,2338.1 L797.5,2336.5 L798.4,2333.6 L799.2,2331.9 L800.0,2329.2 L800.7,2327.2 L801.4,2324.8 L802.1,2321.8 L802.7,2319.7 L803.4,2316.0 L804.1,2313.8 L804.8,2311.0 L805.5,2307.8 L806.2,2305.2 L806.9,2303.3 L807.7,2299.5 L808.3,2297.4 L808.8,2295.4 L809.4,2294.2 L810.0,2292.0 L810.6,2288.9 L811.2,2287.3 L811.8,2284.7 L812.4,2282.4 L813.0,2280.0 L813.6,2277.1 L814.3,2275.6 L814.9,2273.1 L815.5,2270.9 L816.1,2268.5 L816.8,2266.2 L817.4,2262.8 L818.0,2260.8 L818.6,2259.3 L819.2,2256.9 L819.8,2254.8 L820.4,2252.7 L821.0,2251.1 L821.8,2247.8 L822.7,2245.2 L823.5,2243.2 L824.3,2240.6 L825.1,2238.6 L826.0,2235.4 L826.8,2233.4 L827.6,2231.5 L828.3,2229.9 L829.4,2227.2 L830.4,2225.4 L831.3,2223.9 L832.3,2221.2 L833.4,2219.1 L834.4,2217.7 L835.3,2215.3 L836.3,2213.5 L837.2,2211.5 L838.5,2209.5 L840.3,2209.4 L842.2,2210.7 L843.8,2211.5 L845.2,2213.1 L846.5,2215.2 L847.8,2217.1 L848.9,2219.3 L850.0,2221.3 L851.0,2222.7 L852.1,2224.8 L852.8,2227.2 L853.6,2229.3 L854.3,2231.0 L855.1,2233.3 L855.8,2236.0 L856.5,2238.6 L857.3,2242.1 L857.8,2244.2 L858.2,2245.3 L858.7,2247.9 L859.2,2249.9 L859.7,2252.5 L860.2,2253.7 L860.7,2256.7 L861.2,2258.0 L861.7,2261.3 L862.2,2262.6 L862.7,2264.6 L863.2,2266.9 L863.7,2269.1 L864.2,2271.6 L864.8,2274.5 L865.3,2276.7 L865.9,2278.0 L866.4,2280.9 L867.0,2282.3 L867.6,2284.8 L868.1,2287.8 L868.7,2289.3 L869.3,2291.8 L869.8,2295.0 L870.4,2297.2 L871.0,2299.3 L871.6,2302.1 L872.2,2304.6 L872.8,2306.6 L873.4,2308.6 L874.0,2311.2 L874.6,2313.8 L875.2,2316.4 L875.9,2318.6 L876.5,2321.2 L877.1,2323.4 L877.8,2325.6 L878.4,2327.7 L879.0,2329.5 L879.7,2331.0 L880.3,2332.9 L881.0,2334.8 L881.6,2337.1 L882.6,2340.2 L883.6,2343.1 L884.7,2345.0 L885.7,2348.1 L886.7,2350.9 L887.8,2353.1 L888.8,2354.9 L889.9,2357.5 L890.9,2359.9 L892.0,2361.7 L893.1,2363.7 L894.2,2366.7 L895.3,2367.9 L896.4,2369.6 L897.6,2371.7 L898.7,2373.9 L899.8,2375.1 L901.3,2378.0 L902.8,2379.6 L904.4,2382.2 L905.9,2383.7 L907.5,2385.6 L909.2,2386.4 L910.8,2388.9 L912.5,2389.9 L914.2,2391.0 L916.0,2392.7 L917.8,2393.5 L919.9,2395.4 L921.9,2395.9 L924.0,2397.0 L926.2,2397.8 L928.5,2398.4 L930.6,2399.2 L932.8,2399.8 L935.2,2399.2 L937.8,2399.1 L940.0,2399.3 L942.3,2399.1 L944.9,2398.7 L947.5,2399.2 L950.3,2398.6 L953.2,2398.3 L955.2,2398.0 L957.3,2397.5 L959.3,2397.4 L961.4,2396.0 L963.6,2396.3 L965.7,2395.9 L967.9,2395.4 L970.0,2395.0 L972.2,2393.6 L974.4,2393.6 L976.5,2393.2 L978.7,2392.3 L980.8,2392.0 L982.9,2391.5 L985.0,2391.2 L987.0,2390.9 L989.0,2389.7 L991.0,2388.9 L993.1,2389.1 L995.2,2387.8 L997.3,2387.5 L999.5,2386.8 L1001.6,2387.7 L1003.8,2385.7 L1006.0,2384.6 L1008.1,2383.1 L1010.3,2382.7 L1012.4,2384.0 L1014.6,2382.6 L1016.7,2381.9 L1018.7,2378.4 L1020.8,2378.2 L1022.8,2378.7 L1024.7,2377.1 L1026.6,2378.8 L1029.4,2374.6 L1032.0,2373.1 L1034.5,2375.6 L1036.7,2372.3 L1038.8,2373.0 L1040.8,2370.6 L1043.1,2370.8 L1045.3,2367.6 L1047.2,2368.6 L1049.1,2365.8 L1051.2,2366.5 L1053.3,2366.9 L1055.4,2362.5 L1057.2,2363.8 L1059.0,2362.1 L1061.0,2360.1 L1063.1,2357.3 L1065.2,2357.1 L1067.3,2355.6 L1068.9,2356.4 L1070.4,2354.8 L1072.0,2354.1 L1073.6,2349.0 L1075.1,2349.1 L1077.1,2349.7 L1079.1,2344.8 L1081.0,2342.7 L1082.7,2343.9 L1084.4,2342.5 L1085.9,2339.4 L1087.6,2339.1 L1089.1,2337.8 L1090.6,2337.0 L1091.9,2333.9 L1093.3,2333.7 L1094.8,2330.8 L1096.3,2328.5 L1098.1,2328.6 L1099.6,2327.5 L1101.3,2325.8 L1103.1,2322.6 L1105.0,2321.2 L1106.9,2320.1 L1108.9,2319.9 L1110.5,2317.0 L1112.0,2316.5 L1114.0,2315.6 L1116.0,2314.0 L1118.0,2310.8 L1119.9,2309.3 L1121.8,2307.4 L1123.5,2308.4 L1125.7,2304.9 L1127.8,2306.1 L1129.8,2304.2 L1131.9,2304.8 L1133.9,2302.2 L1135.8,2300.8 L1138.1,2300.7 L1140.3,2300.4 L1142.5,2301.0 L1144.5,2299.6 L1146.8,2297.7 L1149.0,2300.2 L1151.2,2298.6 L1153.4,2298.7 L1155.2,2296.3 L1157.1,2295.8 L1158.7,2296.2 L1160.2,2294.3 L1161.3,2292.0 L1162.5,2289.9 L1163.7,2288.1 L1164.9,2284.6 L1166.1,2284.9 L1167.4,2280.2 L1168.7,2280.2 L1170.2,2276.9 L1171.7,2275.2 L1173.4,2273.3 L1175.2,2271.3 L1177.1,2269.6 L1179.1,2267.2 L1181.2,2268.3 L1182.8,2264.5 L1184.4,2262.9 L1186.5,2264.5 L1188.6,2262.6 L1190.5,2261.8 L1192.4,2260.2 L1194.1,2257.1 L1195.6,2256.6 L1197.2,2254.8 L1198.7,2252.7 L1200.0,2250.2 L1201.5,2250.5 L1202.8,2248.2 L1204.0,2243.9 L1205.1,2243.9 L1206.3,2241.0 L1207.5,2241.0 L1208.6,2235.4 L1209.5,2234.7 L1210.5,2231.2 L1211.4,2229.9 L1212.3,2228.2 L1213.3,2228.1 L1214.6,2224.3 L1216.4,2222.9 L1218.5,2224.2 L1220.4,2226.0 L1221.7,2221.4 L1222.3,2219.1 L1222.7,2218.0 L1223.1,2215.2 L1223.3,2212.5 L1223.5,2210.3 L1223.7,2207.6 L1223.9,2206.2 L1224.1,2203.8 L1224.2,2200.8 L1224.4,2200.3 L1224.6,2197.8 L1224.8,2193.9 L1225.1,2193.1 L1225.4,2188.5 L1225.7,2186.6 L1226.0,2183.3 L1226.4,2182.7 L1226.8,2181.0 L1227.2,2178.6 L1227.7,2176.1 L1228.2,2173.7 L1228.7,2168.5 L1229.2,2166.0 L1229.7,2164.3 L1230.2,2161.6 L1230.7,2161.0 L1231.2,2157.7 L1231.8,2153.9 L1232.3,2152.5 L1232.8,2152.0 L1233.3,2147.0 L1233.8,2146.4 L1234.2,2141.9 L1234.7,2142.5 L1235.2,2139.8 L1235.6,2136.3 L1236.1,2136.6 L1236.6,2133.2 L1237.0,2130.8 L1237.5,2128.3 L1238.0,2126.4 L1238.5,2123.2 L1238.9,2120.9 L1239.4,2119.3 L1239.9,2117.9 L1240.4,2112.5 L1240.8,2112.4 L1241.1,2109.1 L1241.5,2105.7 L1241.8,2102.5 L1242.2,2102.3 L1242.6,2100.7 L1242.9,2097.7 L1243.3,2093.5 L1243.7,2089.9 L1244.1,2088.7 L1244.4,2086.0 L1244.8,2081.5 L1245.2,2081.2 L1245.6,2077.8 L1246.0,2074.9 L1246.4,2070.9 L1246.8,2068.3 L1247.2,2063.3 L1247.6,2060.6 L1248.0,2057.3 L1248.4,2055.5 L1248.8,2050.5 L1249.2,2045.5 L1249.6,2043.6 L1250.0,2042.1 L1250.4,2037.9 L1250.8,2033.7 L1251.2,2031.5 L1251.6,2027.1 L1252.1,2024.3 L1252.5,2021.6 L1252.9,2018.3 L1253.4,2013.8 L1253.8,2008.6 L1254.2,2007.5 L1254.7,2005.0 L1255.1,2000.6 L1255.5,1997.2 L1256.0,1994.6 L1256.4,1987.3 L1256.9,1984.8 L1257.3,1980.8 L1257.7,1976.8 L1258.2,1977.2 L1258.6,1972.7 L1259.0,1968.0 L1259.4,1963.9 L1259.8,1963.5 L1260.2,1957.1 L1260.6,1954.5 L1261.0,1951.0 L1261.4,1951.7 L1261.7,1945.9 L1262.1,1942.5 L1262.5,1942.1 L1262.9,1937.2 L1263.2,1934.9 L1263.6,1933.8 L1263.9,1931.0 L1264.3,1925.8 L1264.6,1926.0 L1265.0,1923.1 L1265.3,1917.9 L1265.7,1917.0 L1266.0,1913.1 L1266.3,1911.9 L1266.7,1907.5 L1267.0,1905.1 L1267.3,1905.3 L1267.6,1901.2 L1267.9,1898.5 L1268.2,1899.9 L1268.7,1896.4 L1269.1,1891.2 L1269.6,1891.1 L1270.0,1887.1 L1270.4,1886.0 L1270.9,1883.3 L1271.4,1883.3 L1272.1,1880.7 L1272.7,1878.8 L1273.3,1876.2 L1273.9,1874.1 L1274.5,1871.8 L1275.1,1867.6 L1275.6,1867.2 L1276.1,1865.8 L1276.7,1861.9 L1277.2,1858.7 L1277.7,1858.7 L1278.3,1853.3 L1278.8,1850.9 L1279.3,1848.7 L1279.8,1848.1 L1280.3,1845.7 L1280.8,1845.0 L1281.3,1841.9 L1281.7,1839.9 L1282.1,1837.6 L1282.5,1835.6 L1282.8,1833.1 L1283.1,1832.5 L1283.5,1830.2 L1283.9,1825.9 L1284.3,1826.4 L1285.5,1823.9 L1286.1,1825.1 L1286.5,1827.4 L1286.8,1831.3 L1287.1,1831.4 L1287.3,1833.3 L1287.6,1835.8 L1287.8,1838.7 L1288.1,1840.7 L1288.3,1845.0 L1288.6,1845.5 L1288.9,1849.9 L1289.2,1853.6 L1289.5,1854.4 L1289.9,1856.3 L1290.2,1859.1 L1290.6,1861.9 L1291.0,1865.5 L1291.3,1869.6 L1291.6,1869.0 L1291.9,1873.7 L1292.1,1873.7 L1292.4,1874.7 L1292.7,1879.9 L1292.9,1881.8 L1293.2,1881.4 L1293.5,1884.5 L1293.8,1888.8 L1294.0,1890.4 L1294.3,1891.5 L1294.6,1896.0 L1294.8,1896.2 L1295.1,1900.7 L1295.4,1901.4 L1295.6,1906.3 L1295.9,1906.0 L1296.1,1908.7 L1296.4,1913.8 L1296.6,1915.2 L1296.9,1916.5 L1297.2,1921.1 L1297.4,1924.2 L1297.7,1927.4 L1297.9,1928.3 L1298.2,1931.3 L1298.4,1936.6 L1298.7,1940.3 L1298.9,1942.6 L1299.2,1946.1 L1299.4,1947.5 L1299.7,1951.3 L1300.0,1954.6 L1300.2,1957.5 L1300.5,1961.1 L1300.7,1963.1 L1301.0,1967.9 L1301.2,1971.7 L1301.5,1971.5 L1301.7,1974.5 L1302.0,1980.1 L1302.2,1982.8 L1302.5,1985.4 L1302.7,1987.2 L1303.0,1991.9 L1303.2,1995.1 L1303.4,1998.7 L1303.7,1999.5 L1303.9,2002.0 L1304.2,2007.4 L1304.4,2008.1 L1304.6,2013.6 L1304.9,2017.4 L1305.1,2018.4 L1305.4,2020.4 L1305.6,2024.0 L1305.9,2029.6 L1306.2,2031.5 L1306.4,2033.6 L1306.7,2037.6 L1307.0,2038.2 L1307.3,2042.7 L1307.6,2045.9 L1307.9,2047.5 L1308.2,2051.4 L1308.5,2050.6 L1308.8,2056.6 L1309.1,2056.6 L1309.5,2061.0 L1309.8,2061.1 L1310.2,2065.6 L1310.5,2068.3 L1310.9,2069.3 L1311.3,2072.4 L1311.6,2072.2 L1312.0,2076.7 L1312.3,2079.9 L1312.7,2079.1 L1313.1,2083.1 L1313.4,2086.3 L1313.9,2085.6 L1314.5,2088.8 L1315.0,2092.2 L1315.4,2095.0 L1315.9,2095.5 L1316.5,2098.5 L1317.0,2103.5 L1317.6,2103.6 L1318.3,2108.1 L1319.0,2107.9 L1320.2,2110.8 L1321.8,2113.0 L1323.7,2113.9 L1325.7,2112.4 L1327.8,2113.5 L1329.4,2111.2 L1330.7,2109.1 L1331.7,2106.8 L1332.4,2106.0 L1332.8,2102.9 L1333.3,2102.4 L1333.7,2096.2 L1334.1,2096.2 L1334.5,2094.1 L1334.7,2090.3 L1334.9,2089.9 L1335.2,2087.9 L1335.4,2083.3 L1335.6,2082.7 L1335.8,2077.8 L1336.0,2076.8 L1336.3,2075.1 L1336.5,2071.3 L1336.7,2072.4 L1337.0,2068.1 L1337.2,2067.5 L1337.5,2064.9 L1337.7,2059.4 L1338.0,2058.1 L1338.3,2054.8 L1338.6,2053.2 L1338.9,2052.8 L1339.2,2049.0 L1339.5,2045.4 L1339.9,2042.5 L1340.2,2040.2 L1340.5,2040.7 L1340.9,2037.8 L1341.2,2036.5 L1341.6,2030.5 L1341.9,2031.1 L1342.3,2027.7 L1342.6,2024.6 L1343.0,2023.2 L1343.3,2019.3 L1343.7,2017.2 L1344.1,2015.4 L1344.4,2012.6 L1344.8,2005.7 L1345.1,2006.1 L1345.5,2000.5 L1345.8,1999.3 L1346.2,1996.3 L1346.5,1996.6 L1346.8,1992.8 L1347.2,1989.2 L1347.5,1990.0 L1347.9,1984.4 L1348.2,1984.1 L1348.5,1982.7 L1348.9,1979.1 L1349.2,1974.6 L1349.5,1974.4 L1349.9,1971.2 L1350.2,1967.3 L1350.5,1967.1 L1350.9,1961.2 L1351.2,1960.1 L1351.6,1959.7 L1351.9,1956.7 L1352.2,1954.6 L1352.6,1951.8 L1352.9,1948.0 L1353.2,1945.5 L1353.6,1943.7 L1353.9,1941.9 L1354.3,1937.8 L1354.6,1931.7 L1354.9,1933.1 L1355.3,1927.2 L1355.6,1925.5 L1356.0,1921.7 L1356.3,1918.2 L1356.6,1916.1 L1357.0,1911.9 L1357.3,1906.3 L1357.7,1904.8 L1358.0,1900.4 L1358.4,1896.8 L1358.7,1890.0 L1359.0,1887.7 L1359.4,1883.9 L1359.7,1879.0 L1360.1,1878.0 L1360.4,1870.5 L1360.8,1871.4 L1361.1,1865.1 L1361.4,1864.4 L1361.8,1860.4 L1362.1,1859.6 L1362.5,1854.3 L1362.8,1851.2 L1363.1,1852.6 L1363.7,1848.2 L1364.2,1844.8 L1364.9,1844.4 L1365.8,1838.4 L1366.9,1836.7 L1368.2,1836.6 L1369.2,1833.2 L1369.9,1833.6 L1370.5,1829.8 L1370.9,1825.5 L1371.3,1827.5 L1371.5,1821.0 L1371.7,1820.1 L1371.9,1820.4 L1372.1,1814.1 L1372.3,1813.6 L1372.5,1810.5 L1372.6,1809.6 L1372.8,1806.6 L1373.0,1802.6 L1373.1,1799.3 L1373.3,1796.2 L1373.4,1792.4 L1373.6,1791.1 L1373.7,1787.6 L1373.9,1786.3 L1374.0,1781.4 L1374.1,1782.2 L1374.3,1777.3 L1374.4,1776.6 L1374.7,1775.4 L1374.9,1773.3 L1375.2,1771.8 L1375.5,1769.0 L1375.9,1764.8 L1376.4,1760.4 L1377.5,1762.7 L1379.4,1761.9 L1381.2,1759.0 L1382.7,1762.1 L1383.9,1766.8 L1385.1,1764.2 L1386.1,1768.4 L1387.2,1769.4 L1388.1,1772.7 L1388.9,1772.3 L1389.8,1774.1 L1390.7,1776.1 L1391.3,1778.1" fill="none" stroke="#0000ff" stroke-width="8" stroke-linejoin="round" stroke-linecap="round"/>
<path d="M1178.7,2396.8 L1180.0,2393.4 L1180.9,2394.8 L1181.9,2393.7 L1182.5,2395.0 L1183.9,2395.1 L1184.9,2393.7 L1187.7,2395.1 L1188.9,2396.5 L1190.1,2393.8 L1192.6,2396.0 L1194.1,2396.2 L1196.4,2395.3 L1197.7,2395.4 L1199.1,2396.6 L1200.4,2394.3 L1202.5,2396.9 L1204.5,2395.9 L1206.3,2394.8 L1207.1,2395.4 L1210.1,2394.9 L1210.4,2394.5 L1211.9,2395.2 L1214.5,2397.3 L1215.6,2395.4 L1217.2,2395.1 L1219.8,2396.0 L1220.4,2394.1 L1223.2,2396.4 L1225.0,2394.4 L1226.1,2397.0 L1228.0,2396.9 L1228.8,2396.9 L1230.3,2394.5 L1232.0,2395.9 L1235.1,2396.4 L1237.0,2396.1 L1238.1,2396.1 L1240.2,2393.3 L1242.3,2393.2 L1242.3,2391.8 L1244.4,2392.1 L1246.9,2394.9 L1246.9,2391.3 L1249.0,2391.4 L1250.4,2393.8 L1251.1,2392.0 L1253.6,2391.9 L1253.7,2393.5 L1255.7,2393.3 L1256.5,2391.1 L1257.5,2392.6 L1258.8,2389.9 L1259.4,2390.2 L1261.6,2390.4 L1262.3,2391.2 L1262.5,2390.0 L1264.0,2389.4 L1266.0,2387.7 L1267.2,2386.7 L1267.4,2388.2 L1267.8,2387.9 L1269.3,2387.1 L1270.9,2384.9 L1271.4,2387.7 L1272.1,2387.6 L1273.4,2386.5 L1274.5,2385.2 L1276.1,2383.4 L1277.8,2384.6 L1278.9,2384.5 L1279.8,2384.1 L1280.5,2385.2 L1281.2,2384.8 L1283.9,2382.9 L1284.9,2383.2 L1285.8,2381.3 L1286.5,2381.2 L1287.7,2383.3 L1289.1,2380.6 L1290.6,2382.0 L1292.1,2380.6 L1292.6,2379.2 L1293.3,2378.8 L1294.7,2381.1 L1296.3,2377.9 L1297.3,2377.8 L1298.6,2378.8 L1300.4,2377.9 L1301.5,2377.7 L1302.9,2379.0 L1302.2,2379.5 L1303.8,2377.5 L1304.7,2379.2 L1305.7,2378.6 L1307.4,2378.1 L1308.3,2375.5 L1310.6,2377.5 L1310.2,2378.6 L1312.6,2375.1 L1312.3,2376.4 L1313.8,2376.4 L1315.7,2375.8 L1316.9,2375.5 L1318.4,2374.3 L1318.8,2372.7 L1318.8,2371.0 L1321.1,2370.6 L1321.0,2370.3 L1322.1,2370.3 L1323.2,2368.9 L1322.8,2368.8 L1324.1,2368.8 L1323.9,2367.5 L1325.7,2366.9 L1324.6,2363.5 L1326.4,2364.3 L1325.6,2361.4 L1327.5,2361.7 L1327.8,2358.2 L1328.1,2356.3 L1328.5,2356.5 L1330.1,2355.7 L1329.7,2353.4 L1329.9,2354.2 L1330.6,2351.2 L1331.7,2351.8 L1332.4,2350.7 L1332.1,2349.2 L1332.5,2350.1 L1333.7,2348.0 L1333.0,2344.6 L1334.2,2344.8 L1333.7,2342.4 L1333.4,2342.6 L1335.6,2342.9 L1335.5,2341.5 L1335.0,2338.4 L1336.1,2336.9 L1336.5,2337.5 L1336.8,2334.8 L1336.3,2335.0 L1336.9,2334.5 L1337.6,2333.2 L1338.9,2332.0 L1338.9,2329.1 L1339.0,2331.0 L1339.2,2327.0 L1340.1,2326.8 L1341.1,2324.0 L1341.9,2321.1 L1342.0,2323.1 L1342.6,2319.3 L1342.6,2322.7 L1342.9,2316.3 L1343.8,2320.1 L1342.6,2317.9 L1342.9,2312.0 L1344.6,2314.5 L1345.3,2312.5 L1344.8,2309.0 L1345.2,2311.8 L1345.7,2309.7 L1345.1,2307.3 L1346.4,2301.8 L1346.9,2300.9 L1345.9,2298.7 L1347.1,2297.6 L1347.9,2295.2 L1347.9,2298.1 L1347.6,2295.4 L1348.3,2294.2 L1347.2,2293.5 L1347.9,2290.6 L1348.4,2290.8 L1348.4,2288.9 L1348.0,2284.1 L1349.4,2284.1 L1349.9,2280.1 L1350.1,2281.9 L1349.0,2276.3 L1350.1,2279.7 L1350.3,2274.8 L1350.4,2275.5 L1350.6,2272.2 L1351.0,2273.0 L1351.7,2270.8 L1350.8,2267.8 L1352.2,2266.9 L1352.7,2266.5 L1351.3,2262.4 L1352.0,2259.0 L1352.5,2262.1 L1353.3,2255.2 L1352.5,2255.2 L1354.0,2254.2 L1352.8,2253.1 L1353.2,2248.4 L1354.1,2252.5 L1354.7,2249.4 L1353.7,2246.8 L1354.9,2246.4 L1354.7,2240.5 L1355.9,2240.2 L1355.8,2239.8 L1356.1,2237.4 L1355.0,2236.4 L1356.0,2237.0 L1356.1,2234.6 L1356.3,2233.4 L1356.1,2232.7 L1357.9,2226.0 L1357.9,2229.0 L1357.8,2223.4 L1358.1,2225.8 L1358.2,2225.4 L1359.0,2221.9 L1359.2,2217.5 L1358.2,2218.2 L1358.9,2219.2 L1359.3,2215.7 L1359.5,2216.1 L1359.3,2213.3 L1360.0,2209.7 L1359.7,2206.6 L1359.3,2206.1 L1360.1,2203.0 L1360.7,2203.0 L1361.8,2203.9 L1361.6,2202.6 L1361.1,2196.5 L1362.0,2195.4 L1363.0,2194.8 L1363.1,2192.0 L1361.8,2192.4 L1363.3,2188.2 L1364.1,2190.6 L1363.8,2189.6 L1364.5,2183.6 L1364.1,2186.1 L1364.3,2182.7 L1364.1,2183.1 L1364.9,2178.8 L1364.1,2179.4 L1365.1,2177.1 L1363.8,2176.0 L1364.0,2176.9 L1365.7,2175.3 L1364.3,2176.1 L1365.0,2174.5 L1365.9,2172.7 L1366.1,2172.6 L1366.5,2172.4 L1366.8,2171.2 L1365.7,2168.7 L1366.8,2169.3 L1366.9,2168.5 L1367.3,2165.7 L1367.1,2161.6 L1366.9,2164.7 L1367.9,2164.4 L1367.2,2159.6 L1368.2,2161.1 L1367.0,2156.4 L1368.5,2158.6 L1367.2,2160.1 L1368.5,2156.8 L1369.2,2151.9 L1369.0,2149.5 L1369.5,2149.3 L1370.2,2145.7 L1369.3,2145.7 L1369.2,2144.3 L1371.4,2145.7 L1370.2,2144.2 L1370.6,2139.5 L1371.7,2138.7 L1371.1,2136.4 L1371.4,2136.1 L1373.3,2133.9 L1373.0,2133.6 L1373.8,2131.1 L1373.5,2134.2 L1373.3,2130.9 L1374.3,2129.9 L1375.2,2126.4 L1376.0,2126.5 L1376.1,2124.5 L1375.1,2123.5 L1375.4,2122.5 L1375.9,2120.0 L1377.6,2121.0 L1377.3,2119.0 L1378.3,2114.4 L1376.9,2117.1 L1377.1,2115.1 L1378.5,2116.1 L1377.4,2112.4 L1378.3,2112.4 L1377.9,2112.3 L1379.9,2110.0 L1379.6,2110.6 L1380.1,2109.3 L1379.6,2103.8 L1380.4,2107.1 L1380.5,2102.8 L1381.2,2103.4 L1380.1,2103.1 L1380.1,2098.6 L1381.7,2096.2 L1381.9,2097.0 L1381.5,2097.5 L1382.4,2093.3 L1381.0,2093.8 L1381.4,2091.9 L1381.4,2088.6 L1382.6,2087.0 L1382.2,2087.6 L1382.0,2088.8 L1383.9,2082.7 L1383.9,2082.2 L1384.0,2080.1 L1384.2,2083.9 L1383.5,2077.9 L1383.8,2080.6 L1384.9,2075.0 L1385.4,2077.0 L1385.7,2077.0 L1384.3,2074.0 L1384.3,2069.4 L1385.5,2068.1 L1385.1,2067.4 L1385.7,2069.3 L1386.2,2065.6 L1386.7,2061.9 L1387.0,2063.9 L1387.3,2060.5 L1386.9,2056.8 L1386.9,2058.7 L1388.1,2058.7 L1387.1,2056.3 L1388.3,2056.0 L1388.1,2050.7 L1388.7,2047.3 L1388.3,2048.4 L1389.1,2047.9 L1387.9,2043.6 L1387.7,2045.5 L1389.4,2041.7 L1388.5,2041.2 L1388.6,2039.5 L1389.1,2036.6 L1389.9,2034.6 L1389.4,2034.9 L1390.8,2030.8 L1389.7,2029.9 L1389.9,2029.5 L1391.0,2026.1 L1391.0,2025.9 L1390.9,2024.7 L1391.1,2021.1 L1391.3,2020.7 L1391.8,2020.2 L1391.2,2020.9 L1390.9,2013.3 L1391.0,2015.7 L1391.1,2014.2 L1391.2,2009.9 L1392.5,2006.5 L1392.3,2010.6 L1393.0,2005.2 L1393.5,2004.5 L1393.5,2001.4 L1392.8,2001.8 L1393.7,1999.9 L1392.7,1996.5 L1393.2,1993.6 L1393.0,1994.8 L1393.2,1990.6 L1393.1,1990.9 L1394.5,1985.3 L1395.3,1989.0 L1395.1,1986.0 L1395.1,1979.4 L1394.4,1978.8 L1394.1,1979.3 L1395.4,1975.8 L1395.9,1973.1 L1395.1,1970.5 L1395.2,1972.9 L1395.9,1970.2 L1396.8,1967.8 L1396.0,1967.5 L1395.6,1962.1 L1397.3,1961.6 L1396.5,1960.4 L1397.4,1957.6 L1396.6,1955.2 L1397.6,1953.9 L1397.4,1952.3 L1398.0,1945.7 L1397.9,1943.4 L1398.1,1941.9 L1399.1,1939.8 L1398.8,1940.5 L1398.1,1936.7 L1398.0,1933.2 L1398.6,1932.9 L1398.9,1927.3 L1399.3,1927.1 L1399.3,1924.4 L1400.1,1923.4 L1399.9,1920.2 L1399.5,1917.5 L1400.2,1915.3 L1399.2,1911.7 L1399.3,1908.5 L1400.1,1908.2 L1400.5,1904.9 L1400.2,1904.2 L1400.5,1900.9 L1401.0,1901.7 L1400.4,1895.1 L1401.3,1898.3 L1401.8,1893.0 L1402.7,1892.8 L1402.6,1891.7 L1401.2,1885.8 L1402.9,1885.0 L1403.3,1881.2 L1403.5,1882.5 L1402.7,1881.9 L1403.1,1877.8 L1402.6,1878.0 L1402.7,1873.3 L1402.8,1869.9 L1403.4,1868.4 L1403.9,1868.5 L1403.2,1867.6 L1404.0,1864.6 L1404.7,1863.7 L1403.9,1865.7 L1405.9,1860.0 L1405.5,1860.6 L1404.9,1858.9 L1405.2,1855.9 L1405.8,1853.1 L1405.5,1857.3 L1406.8,1852.0 L1407.5,1850.6 L1407.4,1849.3 L1407.7,1848.7 L1407.9,1845.5 L1407.2,1845.5 L1408.2,1847.3 L1407.1,1843.4 L1407.4,1840.1 L1407.5,1838.9 L1408.1,1839.8 L1409.5,1839.9 L1409.5,1836.8 L1408.8,1836.1 L1408.8,1832.6 L1409.1,1836.9 L1408.9,1833.2 L1409.5,1833.6 L1409.3,1830.9 L1410.9,1829.5 L1410.0,1830.9 L1410.0,1830.0 L1411.8,1828.7 L1412.1,1824.4 L1411.8,1823.9 L1411.9,1822.3 L1412.7,1820.7 L1412.3,1818.1 L1411.5,1821.9 L1412.3,1817.7 L1413.8,1818.7 L1412.3,1816.5 L1413.2,1815.7 L1413.0,1812.6 L1414.5,1813.3 L1413.9,1812.8 L1414.5,1808.5 L1414.7,1809.1 L1413.7,1806.9 L1415.5,1808.9 L1415.5,1805.6 L1415.2,1803.7 L1415.5,1803.3 L1415.0,1804.7 L1415.4,1797.8 L1416.2,1796.9 L1415.3,1797.8 L1415.3,1796.5 L1416.0,1795.7 L1416.6,1795.4 L1415.5,1791.4 L1415.8,1790.7 L1416.7,1792.6 L1415.9,1791.1 L1416.4,1789.4 L1417.9,1789.7 L1417.5,1782.8 L1417.1,1783.9 L1418.0,1785.9 L1418.6,1779.3 L1417.3,1781.6 L1417.6,1780.1 L1418.3,1778.7 L1418.2,1779.7 L1418.2,1775.3 L1418.1,1773.8 L1418.2,1774.9 L1418.2,1771.4 L1419.9,1774.1 L1419.1,1772.4 L1420.4,1770.0 L1420.4,1768.8 L1420.1,1764.7 L1420.3,1762.6 L1421.2,1763.1 L1420.9,1759.1 L1420.9,1758.9 L1421.8,1760.1 L1423.7,1758.6 L1424.2,1757.2 L1424.1,1758.8 L1426.6,1755.5 L1426.6,1759.4 L1428.3,1757.2 L1428.3,1759.4 L1429.3,1763.0 L1429.1,1761.5 L1431.3,1761.4 L1430.5,1766.3 L1432.0,1765.7 L1432.2,1764.5 L1433.1,1767.1 L1433.1,1772.1 L1433.6,1770.0 L1433.7,1770.5 L1434.6,1774.3 L1433.9,1771.3 L1434.8,1773.5 L1435.6,1774.9 L1435.8,1778.2 L1437.1,1778.7 L1436.0,1780.3 L1437.1,1781.2 L1436.6,1785.6 L1437.5,1783.4 L1438.5,1785.3 L1437.7,1789.5 L1438.4,1792.5 L1438.1,1793.5 L1438.4,1792.0 L1439.8,1797.7 L1438.9,1795.0 L1439.4,1800.1 L1439.4,1804.1 L1439.6,1804.7 L1441.5,1804.4 L1441.8,1805.0 L1442.0,1809.3 L1442.4,1812.5 L1442.5,1814.9 L1441.6,1811.0 L1441.5,1816.3 L1442.3,1815.8 L1442.4,1814.0 L1443.4,1818.3 L1442.8,1818.8 L1443.5,1819.8 L1443.0,1822.8 L1442.3,1824.0 L1443.4,1822.1 L1442.5,1824.3 L1442.9,1822.3 L1444.1,1827.8 L1444.4,1829.0 L1443.5,1831.0 L1443.3,1828.1 L1443.9,1831.8 L1443.3,1829.2 L1445.0,1830.0 L1444.8,1833.9 L1445.3,1837.3 L1444.5,1836.6 L1445.1,1836.0 L1443.8,1841.5 L1445.0,1841.5 L1445.1,1838.3 L1444.4,1840.4 L1446.2,1845.0 L1445.0,1844.0 L1446.5,1845.5 L1445.3,1846.8 L1445.2,1848.2 L1445.1,1849.0 L1445.3,1847.3 L1446.8,1851.3 L1445.7,1851.8 L1447.3,1852.7 L1446.2,1854.6 L1447.6,1856.6 L1447.0,1857.8 L1446.9,1860.9 L1446.9,1857.7 L1447.4,1862.4 L1448.2,1862.7 L1446.8,1864.7 L1448.8,1861.9 L1447.5,1863.6 L1447.5,1864.4 L1448.5,1868.9 L1448.5,1869.1 L1449.2,1872.0 L1449.9,1872.5 L1449.1,1869.8 L1448.9,1871.9 L1450.4,1876.3 L1448.9,1875.2 L1449.6,1878.1 L1450.9,1877.6 L1450.5,1879.3 L1451.1,1881.1 L1451.0,1882.8 L1451.1,1885.1 L1450.6,1884.5 L1451.3,1887.4 L1451.4,1886.6 L1451.3,1888.8 L1451.3,1888.9 L1450.8,1888.7 L1451.2,1890.2 L1451.8,1896.8 L1452.0,1897.8 L1452.8,1899.2 L1452.9,1900.7 L1453.4,1896.8 L1452.0,1903.5 L1452.8,1903.0 L1454.2,1906.4 L1453.5,1903.9 L1453.8,1907.5 L1453.0,1909.6 L1453.0,1908.5 L1454.8,1913.0 L1455.1,1914.3 L1454.4,1913.1 L1454.6,1915.2 L1454.3,1915.9 L1455.0,1915.3 L1455.3,1917.1 L1455.5,1918.7 L1454.9,1922.7 L1456.2,1927.5 L1456.4,1928.2 L1455.9,1928.0 L1456.3,1932.4 L1457.1,1928.4 L1456.9,1934.3 L1457.5,1937.3 L1456.7,1936.0 L1456.5,1936.4 L1458.0,1941.5 L1458.1,1940.7 L1458.1,1940.7 L1457.7,1944.2 L1457.5,1950.1 L1457.1,1951.7 L1458.6,1953.7 L1458.2,1954.9 L1458.7,1954.8 L1459.0,1954.7 L1459.1,1956.0 L1458.2,1961.1 L1458.3,1964.1 L1458.9,1965.8 L1459.2,1966.4 L1459.5,1968.1 L1459.3,1967.1 L1459.7,1973.3 L1461.1,1971.5 L1461.4,1976.6 L1459.9,1976.4 L1460.2,1976.5 L1460.6,1977.4 L1461.3,1979.1 L1461.0,1980.3 L1461.0,1985.8 L1461.2,1988.6 L1461.1,1984.5 L1461.5,1989.0 L1461.8,1989.9 L1462.9,1993.1 L1462.0,1995.9 L1462.4,1995.5 L1462.6,1998.1 L1463.2,1998.0 L1462.6,1996.9 L1462.9,2003.0 L1464.4,2001.7 L1462.9,2001.9 L1464.8,2002.9 L1463.9,2003.9 L1464.2,2006.9 L1465.4,2012.0 L1464.6,2012.5 L1465.1,2011.5 L1465.5,2010.3 L1464.4,2016.3 L1465.3,2016.7 L1465.6,2019.0 L1465.1,2016.2 L1465.4,2021.6 L1466.0,2022.3 L1466.7,2021.0 L1466.8,2024.9 L1466.5,2024.5 L1466.6,2025.3 L1466.2,2027.3 L1467.7,2026.6 L1467.0,2028.5 L1466.9,2033.0 L1467.9,2029.2 L1467.7,2032.0 L1467.6,2031.7 L1468.2,2034.4 L1468.5,2034.2 L1468.4,2037.3 L1468.8,2036.3 L1469.3,2040.2 L1468.4,2039.3 L1469.7,2039.6 L1469.4,2042.6 L1469.1,2047.8 L1468.8,2044.3 L1468.7,2046.6 L1469.0,2045.9 L1470.4,2052.6 L1469.6,2051.8 L1471.3,2050.5 L1469.9,2053.8 L1469.8,2055.5 L1471.6,2058.6 L1470.3,2057.9 L1471.3,2058.6 L1470.8,2060.9 L1470.9,2062.7 L1471.0,2060.0 L1472.7,2063.4 L1472.0,2065.8 L1472.3,2064.3 L1473.1,2071.4 L1472.3,2068.7 L1472.4,2072.4 L1473.1,2073.2 L1473.5,2072.8 L1473.5,2075.9 L1473.9,2078.0 L1474.8,2076.3 L1474.0,2080.6 L1473.5,2080.7 L1473.8,2083.1 L1474.9,2082.9 L1474.7,2084.0 L1474.7,2090.1 L1475.9,2087.8 L1475.0,2088.1 L1476.2,2094.0 L1474.7,2092.5 L1475.6,2092.7 L1476.3,2097.6 L1475.9,2099.9 L1476.6,2096.9 L1476.9,2097.6 L1476.5,2101.6 L1476.2,2100.1 L1476.8,2105.9 L1476.6,2104.9 L1477.6,2104.4 L1477.2,2109.8 L1478.2,2109.2 L1478.1,2107.1 L1477.4,2110.4 L1477.2,2112.1 L1478.5,2114.6 L1478.6,2114.8 L1479.2,2114.3 L1478.2,2115.3 L1478.4,2120.2 L1478.8,2121.5 L1479.0,2119.3 L1479.4,2119.1 L1479.4,2122.8 L1479.5,2124.7 L1480.0,2127.7 L1478.8,2128.4 L1479.8,2128.8 L1479.4,2132.7 L1479.5,2130.6 L1479.8,2135.6 L1480.2,2132.2 L1479.7,2134.1 L1481.0,2133.3 L1479.9,2138.6 L1479.7,2138.8 L1481.2,2139.1 L1481.0,2140.8 L1481.5,2144.3 L1481.0,2144.0 L1481.4,2145.8 L1481.0,2145.9 L1481.1,2148.5 L1482.2,2146.8 L1481.8,2152.3 L1482.5,2149.3 L1482.2,2150.2 L1482.1,2156.4 L1482.3,2157.1 L1483.8,2161.1 L1483.4,2157.7 L1483.6,2162.2 L1484.5,2164.5 L1483.3,2163.0 L1484.8,2163.0 L1485.1,2168.4 L1484.4,2167.2 L1484.0,2168.6 L1486.0,2170.3 L1485.0,2172.3 L1484.5,2171.2 L1484.9,2171.4 L1485.5,2170.8 L1486.9,2176.0 L1486.5,2173.2 L1486.6,2174.7 L1486.9,2178.5 L1488.0,2177.1 L1486.8,2177.9 L1488.4,2182.7 L1487.5,2181.6 L1488.6,2183.6 L1488.4,2183.7 L1488.7,2182.4 L1488.1,2188.6 L1489.8,2188.0 L1489.5,2188.4 L1489.2,2190.4 L1490.2,2193.5 L1489.4,2191.9 L1490.1,2194.8 L1491.2,2197.2 L1491.0,2196.1 L1490.2,2194.0 L1490.2,2198.4 L1491.6,2196.0 L1492.5,2201.0 L1492.3,2199.4 L1491.8,2202.3 L1492.1,2203.3 L1493.0,2204.7 L1492.6,2208.2 L1492.8,2206.6 L1493.3,2204.6 L1493.5,2209.4 L1494.8,2208.9 L1493.6,2211.4 L1493.7,2211.8 L1494.1,2214.0 L1495.7,2215.6 L1495.1,2216.7 L1495.8,2214.5 L1496.4,2215.5 L1497.2,2220.2 L1495.6,2220.5 L1496.8,2217.8 L1497.1,2222.1 L1496.5,2220.6 L1498.3,2222.3 L1498.8,2224.2 L1498.7,2225.2 L1497.7,2228.1 L1498.6,2228.5 L1499.7,2229.5 L1499.0,2228.3 L1500.5,2233.8 L1499.9,2233.2 L1501.4,2231.5 L1500.8,2236.3 L1501.4,2236.1 L1502.0,2236.0 L1501.2,2236.7 L1501.7,2238.5 L1501.6,2242.0 L1503.0,2242.2 L1503.3,2243.6 L1503.2,2241.6 L1503.1,2241.7 L1504.9,2246.2 L1504.5,2246.7 L1504.5,2247.2 L1504.0,2249.2 L1505.1,2246.6 L1506.4,2250.2 L1504.9,2249.5 L1505.8,2252.0 L1505.5,2252.4 L1507.1,2254.9 L1506.8,2256.2 L1506.7,2253.1 L1507.1,2255.8 L1509.4,2258.5 L1510.2,2262.9 L1510.6,2266.1 L1511.0,2266.2 L1511.9,2268.0 L1511.8,2269.9 L1511.8,2272.3 L1512.4,2275.0 L1514.3,2276.7 L1514.9,2275.2 L1515.3,2277.2 L1515.1,2281.2 L1516.0,2279.1 L1517.0,2283.6 L1517.9,2282.9 L1518.9,2284.5 L1518.8,2289.0 L1520.1,2289.8 L1520.0,2293.1 L1521.0,2292.0 L1521.8,2292.0 L1523.7,2294.6 L1524.9,2293.5 L1525.5,2299.6 L1525.2,2301.0 L1525.9,2301.0 L1526.9,2301.1 L1528.3,2304.3 L1528.5,2300.8 L1529.3,2305.9 L1530.3,2305.3 L1531.7,2306.1 L1533.1,2307.1 L1533.1,2311.5 L1533.2,2309.0 L1535.3,2312.2 L1535.7,2311.4 L1537.5,2316.3 L1537.1,2313.4 L1537.5,2311.3 L1539.0,2314.7 L1540.6,2313.4 L1541.0,2321.3 L1541.2,2315.9 L1542.5,2320.7 L1544.5,2317.5 L1544.4,2322.9 L1546.0,2327.6 L1547.0,2319.6 L1546.7,2319.0 L1546.9,2324.2 L1548.6,2327.8 L1550.5,2322.2 L1551.4,2331.0 L1550.5,2331.6 L1551.4,2323.8 L1553.3,2325.5 L1554.2,2330.5 L1555.0,2329.6 L1555.7,2327.0 L1557.1,2338.7 L1557.0,2337.2 L1557.3,2337.7 L1558.4,2344.1 L1559.0,2329.2 L1561.4,2341.2 L1561.7,2331.5 L1562.2,2343.7 L1562.3,2345.7 L1564.2,2334.1 L1564.9,2340.3 L1566.3,2343.8 L1567.2,2348.4 L1567.4,2338.1 L1569.3,2341.1 L1569.4,2352.4 L1569.4,2336.9 L1571.4,2351.8 L1571.0,2343.4 L1572.8,2349.8 L1574.1,2348.6 L1573.6,2355.6 L1574.9,2345.1 L1575.2,2345.3 L1576.0,2343.6 L1577.7,2343.1 L1577.8,2357.8 L1578.7,2359.8 L1579.2,2349.5 L1580.3,2355.9 L1581.9,2361.8 L1582.6,2365.1 L1582.7,2359.2 L1583.5,2353.1 L1586.1,2350.9 L1585.2,2371.4 L1586.3,2362.1 L1587.7,2363.2 L1590.3,2350.3 L1591.6,2366.9 L1591.2,2353.6 L1592.9,2371.8 L1595.0,2354.7 L1596.3,2368.3 L1595.8,2366.6 L1597.6,2368.5 L1599.5,2354.6 L1599.0,2353.1 L1600.9,2375.2 L1601.3,2375.2 L1603.5,2368.1 L1603.0,2353.4 L1604.0,2377.4 L1606.6,2354.1 L1607.3,2383.6 L1607.8,2385.4 L1610.0,2361.2 L1610.0,2382.4 L1611.4,2356.9 L1612.1,2378.1 L1614.7,2362.3 L1616.5,2368.4 L1616.5,2365.2 L1618.6,2382.3 L1620.3,2360.5 L1621.2,2369.0 L1621.5,2379.9 L1623.0,2362.0 L1625.9,2361.3 L1626.3,2372.4 L1627.0,2391.7 L1628.1,2362.4 L1630.0,2379.5 L1631.8,2383.6 L1633.1,2376.1 L1635.2,2364.8 L1635.5,2371.8 L1637.8,2377.4 L1638.1,2386.9 L1640.3,2383.2 L1639.6,2366.8 L1641.0,2363.5 L1642.1,2392.3 L1644.1,2385.8 L1645.0,2368.6 L1647.7,2364.6 L1648.7,2363.7 L1649.1,2375.9 L1650.6,2381.1 L1650.9,2389.3 L1652.3,2369.6 L1653.3,2368.5 L1655.6,2376.5 L1657.7,2387.6 L1657.8,2371.2 L1659.4,2370.1 L1660.4,2382.1 L1661.5,2391.6 L1664.2,2382.8 L1665.2,2393.2 L1666.2,2374.8 L1668.0,2386.4 L1669.1,2368.7 L1671.9,2384.7 L1672.9,2364.8 L1674.1,2382.0 L1676.7,2372.1 L1677.0,2385.6 L1680.3,2380.3 L1681.8,2373.5 L1682.8,2366.9 L1684.1,2388.7 L1687.3,2381.8 L1688.5,2380.3 L1690.7,2366.7 L1691.2,2369.0 L1694.3,2380.2 L1695.2,2374.4 L1696.9,2389.7 L1697.4,2396.8 L1699.8,2389.4 L1699.7,2395.5 L1701.9,2383.5 L1702.0,2385.5" fill="none" stroke="#00cc00" stroke-width="9" stroke-linejoin="round" stroke-linecap="round"/>
<rect x="332.0" y="42.2" width="10.5" height="2384.0" fill="#000"/>
<rect x="1703.2" y="42.2" width="9.6" height="2384.0" fill="#000"/>
<rect x="342.0" y="806.5" width="29.0" height="9.5" fill="#000"/>
<rect x="1674.7" y="806.5" width="29.0" height="9.5" fill="#000"/>
<rect x="342.0" y="775.5" width="15.5" height="8.0" fill="#000"/>
<rect x="1688.2" y="775.5" width="15.5" height="8.0" fill="#000"/>
<rect x="342.0" y="743.7" width="15.5" height="8.0" fill="#000"/>
<rect x="1688.2" y="743.7" width="15.5" height="8.0" fill="#000"/>
<rect x="342.0" y="711.8" width="15.5" height="8.0" fill="#000"/>
<rect x="1688.2" y="711.8" width="15.5" height="8.0" fill="#000"/>
<rect x="342.0" y="680.0" width="15.5" height="8.0" fill="#000"/>
<rect x="1688.2" y="680.0" width="15.5" height="8.0" fill="#000"/>
<rect x="342.0" y="648.2" width="15.5" height="8.0" fill="#000"/>
<rect x="1688.2" y="648.2" width="15.5" height="8.0" fill="#000"/>
<rect x="342.0" y="616.4" width="15.5" height="8.0" fill="#000"/>
<rect x="1688.2" y="616.4" width="15.5" height="8.0" fill="#000"/>
<rect x="342.0" y="584.6" width="15.5" height="8.0" fill="#000"/>
<rect x="1688.2" y="584.6" width="15.5" height="8.0" fill="#000"/>
<rect x="342.0" y="552.0" width="29.0" height="9.5" fill="#000"/>
<rect x="1674.7" y="552.0" width="29.0" height="9.5" fill="#000"/>
<rect x="342.0" y="520.9" width="15.5" height="8.0" fill="#000"/>
<rect x="1688.2" y="520.9" width="15.5" height="8.0" fill="#000"/>
<rect x="342.0" y="489.1" width="15.5" height="8.0" fill="#000"/>
<rect x="1688.2" y="489.1" width="15.5" height="8.0" fill="#000"/>
<rect x="342.0" y="457.3" width="15.5" height="8.0" fill="#000"/>
<rect x="1688.2" y="457.3" width="15.5" height="8.0" fill="#000"/>
<rect x="342.0" y="425.5" width="15.5" height="8.0" fill="#000"/>
<rect x="1688.2" y="425.5" width="15.5" height="8.0" fill="#000"/>
<rect x="342.0" y="393.6" width="15.5" height="8.0" fill="#000"/>
<rect x="1688.2" y="393.6" width="15.5" height="8.0" fill="#000"/>
<rect x="342.0" y="361.8" width="15.5" height="8.0" fill="#000"/>
<rect x="1688.2" y="361.8" width="15.5" height="8.0" fill="#000"/>
<rect x="342.0" y="330.0" width="15.5" height="8.0" fill="#000"/>
<rect x="1688.2" y="330.0" width="15.5" height="8.0" fill="#000"/>
<rect x="342.0" y="297.4" width="29.0" height="9.5" fill="#000"/>
<rect x="1674.7" y="297.4" width="29.0" height="9.5" fill="#000"/>
<rect x="342.0" y="266.4" width="15.5" height="8.0" fill="#000"/>
<rect x="1688.2" y="266.4" width="15.5" height="8.0" fill="#000"/>
<rect x="342.0" y="234.5" width="15.5" height="8.0" fill="#000"/>
<rect x="1688.2" y="234.5" width="15.5" height="8.0" fill="#000"/>
<rect x="342.0" y="202.7" width="15.5" height="8.0" fill="#000"/>
<rect x="1688.2" y="202.7" width="15.5" height="8.0" fill="#000"/>
<rect x="342.0" y="170.9" width="15.5" height="8.0" fill="#000"/>
<rect x="1688.2" y="170.9" width="15.5" height="8.0" fill="#000"/>
<rect x="342.0" y="139.1" width="15.5" height="8.0" fill="#000"/>
<rect x="1688.2" y="139.1" width="15.5" height="8.0" fill="#000"/>
<rect x="342.0" y="107.3" width="15.5" height="8.0" fill="#000"/>
<rect x="1688.2" y="107.3" width="15.5" height="8.0" fill="#000"/>
<rect x="342.0" y="75.4" width="15.5" height="8.0" fill="#000"/>
<rect x="1688.2" y="75.4" width="15.5" height="8.0" fill="#000"/>
<rect x="342.0" y="1602.2" width="29.0" height="9.5" fill="#000"/>
<rect x="1674.7" y="1602.2" width="29.0" height="9.5" fill="#000"/>
<rect x="342.0" y="1570.9" width="15.5" height="8.0" fill="#000"/>
<rect x="1688.2" y="1570.9" width="15.5" height="8.0" fill="#000"/>
<rect x="342.0" y="1538.8" width="15.5" height="8.0" fill="#000"/>
<rect x="1688.2" y="1538.8" width="15.5" height="8.0" fill="#000"/>
<rect x="342.0" y="1506.7" width="15.5" height="8.0" fill="#000"/>
<rect x="1688.2" y="1506.7" width="15.5" height="8.0" fill="#000"/>
<rect x="342.0" y="1474.6" width="15.5" height="8.0" fill="#000"/>
<rect x="1688.2" y="1474.6" width="15.5" height="8.0" fill="#000"/>
<rect x="342.0" y="1442.5" width="15.5" height="8.0" fill="#000"/>
<rect x="1688.2" y="1442.5" width="15.5" height="8.0" fill="#000"/>
<rect x="342.0" y="1410.3" width="15.5" height="8.0" fill="#000"/>
<rect x="1688.2" y="1410.3" width="15.5" height="8.0" fill="#000"/>
<rect x="342.0" y="1378.2" width="15.5" height="8.0" fill="#000"/>
<rect x="1688.2" y="1378.2" width="15.5" height="8.0" fill="#000"/>
<rect x="342.0" y="1345.4" width="29.0" height="9.5" fill="#000"/>
<rect x="1674.7" y="1345.4" width="29.0" height="9.5" fill="#000"/>
<rect x="342.0" y="1314.0" width="15.5" height="8.0" fill="#000"/>
<rect x="1688.2" y="1314.0" width="15.5" height="8.0" fill="#000"/>
<rect x="342.0" y="1281.9" width="15.5" height="8.0" fill="#000"/>
<rect x="1688.2" y="1281.9" width="15.5" height="8.0" fill="#000"/>
<rect x="342.0" y="1249.8" width="15.5" height="8.0" fill="#000"/>
<rect x="1688.2" y="1249.8" width="15.5" height="8.0" fill="#000"/>
<rect x="342.0" y="1217.7" width="15.5" height="8.0" fill="#000"/>
<rect x="1688.2" y="1217.7" width="15.5" height="8.0" fill="#000"/>
<rect x="342.0" y="1185.6" width="15.5" height="8.0" fill="#000"/>
<rect x="1688.2" y="1185.6" width="15.5" height="8.0" fill="#000"/>
<rect x="342.0" y="1153.5" width="15.5" height="8.0" fill="#000"/>
<rect x="1688.2" y="1153.5" width="15.5" height="8.0" fill="#000"/>
<rect x="342.0" y="1121.3" width="15.5" height="8.0" fill="#000"/>
<rect x="1688.2" y="1121.3" width="15.5" height="8.0" fill="#000"/>
<rect x="342.0" y="1088.5" width="29.0" height="9.5" fill="#000"/>
<rect x="1674.7" y="1088.5" width="29.0" height="9.5" fill="#000"/>
<rect x="342.0" y="1057.1" width="15.5" height="8.0" fill="#000"/>
<rect x="1688.2" y="1057.1" width="15.5" height="8.0" fill="#000"/>
<rect x="342.0" y="1025.0" width="15.5" height="8.0" fill="#000"/>
<rect x="1688.2" y="1025.0" width="15.5" height="8.0" fill="#000"/>
<rect x="342.0" y="992.9" width="15.5" height="8.0" fill="#000"/>
<rect x="1688.2" y="992.9" width="15.5" height="8.0" fill="#000"/>
<rect x="342.0" y="960.8" width="15.5" height="8.0" fill="#000"/>
<rect x="1688.2" y="960.8" width="15.5" height="8.0" fill="#000"/>
<rect x="342.0" y="928.7" width="15.5" height="8.0" fill="#000"/>
<rect x="1688.2" y="928.7" width="15.5" height="8.0" fill="#000"/>
<rect x="342.0" y="896.6" width="15.5" height="8.0" fill="#000"/>
<rect x="1688.2" y="896.6" width="15.5" height="8.0" fill="#000"/>
<rect x="342.0" y="864.5" width="15.5" height="8.0" fill="#000"/>
<rect x="1688.2" y="864.5" width="15.5" height="8.0" fill="#000"/>
<rect x="342.0" y="2395.8" width="29.0" height="9.5" fill="#000"/>
<rect x="1674.7" y="2395.8" width="29.0" height="9.5" fill="#000"/>
<rect x="342.0" y="2364.4" width="15.5" height="8.0" fill="#000"/>
<rect x="1688.2" y="2364.4" width="15.5" height="8.0" fill="#000"/>
<rect x="342.0" y="2332.4" width="15.5" height="8.0" fill="#000"/>
<rect x="1688.2" y="2332.4" width="15.5" height="8.0" fill="#000"/>
<rect x="342.0" y="2300.3" width="15.5" height="8.0" fill="#000"/>
<rect x="1688.2" y="2300.3" width="15.5" height="8.0" fill="#000"/>
<rect x="342.0" y="2268.3" width="15.5" height="8.0" fill="#000"/>
<rect x="1688.2" y="2268.3" width="15.5" height="8.0" fill="#000"/>
<rect x="342.0" y="2236.2" width="15.5" height="8.0" fill="#000"/>
<rect x="1688.2" y="2236.2" width="15.5" height="8.0" fill="#000"/>
<rect x="342.0" y="2204.1" width="15.5" height="8.0" fill="#000"/>
<rect x="1688.2" y="2204.1" width="15.5" height="8.0" fill="#000"/>
<rect x="342.0" y="2172.1" width="15.5" height="8.0" fill="#000"/>
<rect x="1688.2" y="2172.1" width="15.5" height="8.0" fill="#000"/>
<rect x="342.0" y="2139.3" width="29.0" height="9.5" fill="#000"/>
<rect x="1674.7" y="2139.3" width="29.0" height="9.5" fill="#000"/>
<rect x="342.0" y="2108.0" width="15.5" height="8.0" fill="#000"/>
<rect x="1688.2" y="2108.0" width="15.5" height="8.0" fill="#000"/>
<rect x="342.0" y="2075.9" width="15.5" height="8.0" fill="#000"/>
<rect x="1688.2" y="2075.9" width="15.5" height="8.0" fill="#000"/>
<rect x="342.0" y="2043.8" width="15.5" height="8.0" fill="#000"/>
<rect x="1688.2" y="2043.8" width="15.5" height="8.0" fill="#000"/>
<rect x="342.0" y="2011.8" width="15.5" height="8.0" fill="#000"/>
<rect x="1688.2" y="2011.8" width="15.5" height="8.0" fill="#000"/>
<rect x="342.0" y="1979.7" width="15.5" height="8.0" fill="#000"/>
<rect x="1688.2" y="1979.7" width="15.5" height="8.0" fill="#000"/>
<rect x="342.0" y="1947.7" width="15.5" height="8.0" fill="#000"/>
<rect x="1688.2" y="1947.7" width="15.5" height="8.0" fill="#000"/>
<rect x="342.0" y="1915.6" width="15.5" height="8.0" fill="#000"/>
<rect x="1688.2" y="1915.6" width="15.5" height="8.0" fill="#000"/>
<rect x="342.0" y="1882.8" width="29.0" height="9.5" fill="#000"/>
<rect x="1674.7" y="1882.8" width="29.0" height="9.5" fill="#000"/>
<rect x="342.0" y="1851.5" width="15.5" height="8.0" fill="#000"/>
<rect x="1688.2" y="1851.5" width="15.5" height="8.0" fill="#000"/>
<rect x="342.0" y="1819.4" width="15.5" height="8.0" fill="#000"/>
<rect x="1688.2" y="1819.4" width="15.5" height="8.0" fill="#000"/>
<rect x="342.0" y="1787.4" width="15.5" height="8.0" fill="#000"/>
<rect x="1688.2" y="1787.4" width="15.5" height="8.0" fill="#000"/>
<rect x="342.0" y="1755.3" width="15.5" height="8.0" fill="#000"/>
<rect x="1688.2" y="1755.3" width="15.5" height="8.0" fill="#000"/>
<rect x="342.0" y="1723.2" width="15.5" height="8.0" fill="#000"/>
<rect x="1688.2" y="1723.2" width="15.5" height="8.0" fill="#000"/>
<rect x="342.0" y="1691.2" width="15.5" height="8.0" fill="#000"/>
<rect x="1688.2" y="1691.2" width="15.5" height="8.0" fill="#000"/>
<rect x="342.0" y="1659.1" width="15.5" height="8.0" fill="#000"/>
<rect x="1688.2" y="1659.1" width="15.5" height="8.0" fill="#000"/>
<text x="317.5" y="840.6" font-size="90.0" text-anchor="end" fill="#000">0.0</text>
<text x="1760.5" y="840.6" font-size="90.0" text-anchor="start" fill="#000">0.0</text>
<text x="317.5" y="586.0" font-size="90.0" text-anchor="end" fill="#000">0.4</text>
<text x="1760.5" y="586.0" font-size="90.0" text-anchor="start" fill="#000">0.4</text>
<text x="317.5" y="331.5" font-size="90.0" text-anchor="end" fill="#000">0.8</text>
<text x="1760.5" y="331.5" font-size="90.0" text-anchor="start" fill="#000">0.8</text>
<text x="317.5" y="1636.3" font-size="90.0" text-anchor="end" fill="#000">0.0</text>
<text x="1760.5" y="1636.3" font-size="90.0" text-anchor="start" fill="#000">0.0</text>
<text x="317.5" y="1379.4" font-size="90.0" text-anchor="end" fill="#000">0.4</text>
<text x="1760.5" y="1379.4" font-size="90.0" text-anchor="start" fill="#000">0.4</text>
<text x="317.5" y="1122.5" font-size="90.0" text-anchor="end" fill="#000">0.8</text>
<text x="1760.5" y="1122.5" font-size="90.0" text-anchor="start" fill="#000">0.8</text>
<text x="317.5" y="2429.8" font-size="90.0" text-anchor="end" fill="#000">0.0</text>
<text x="1760.5" y="2429.8" font-size="90.0" text-anchor="start" fill="#000">0.0</text>
<text x="317.5" y="2173.3" font-size="90.0" text-anchor="end" fill="#000">0.4</text>
<text x="1760.5" y="2173.3" font-size="90.0" text-anchor="start" fill="#000">0.4</text>
<text x="317.5" y="1916.8" font-size="90.0" text-anchor="end" fill="#000">0.8</text>
<text x="1760.5" y="1916.8" font-size="90.0" text-anchor="start" fill="#000">0.8</text>
<text x="442.5" y="2525.6" font-size="90.0" text-anchor="middle" fill="#000">400</text>
<text x="864.5" y="2525.6" font-size="90.0" text-anchor="middle" fill="#000">600</text>
<text x="1286.5" y="2525.6" font-size="90.0" text-anchor="middle" fill="#000">800</text>
<text x="1708.5" y="2525.6" font-size="90.0" text-anchor="middle" fill="#000">1000</text>
<text x="0.0" y="0.0" font-size="98.4" text-anchor="start" fill="#000" transform="translate(101.5,1652.5) rotate(-90)">Normalized Intensity</text>
<text x="0.0" y="0.0" font-size="98.5" text-anchor="start" fill="#000" transform="translate(1955.2,1045.2) rotate(90)">EET efficiency</text>
<text x="715.7" y="2687.0" font-size="91.0" text-anchor="start" fill="#000">Wavelength / nm</text>
<text x="427.3" y="189.2" font-size="99.0" text-anchor="start" fill="#000">(A)</text>
<text x="427.3" y="966.5" font-size="99.0" text-anchor="start" fill="#000">(B)</text>
<text x="427.3" y="1764.5" font-size="99.0" text-anchor="start" fill="#000">(C)</text>
<text x="723.7" y="165.0" font-size="116.0" text-anchor="start" fill="#000">Φ</text>
<text x="806.6" y="192.7" font-size="82.0" text-anchor="start" fill="#000">EET</text>
<text x="0.0" y="0.0" font-size="116.0" text-anchor="start" fill="#000" transform="translate(950.87,157.74) scale(1.113,0.771)">=</text>
<text x="1045.7" y="166.6" font-size="117.0" font-weight="bold" text-anchor="start" fill="#000">75 %</text>
<text x="728.2" y="958.5" font-size="116.0" text-anchor="start" fill="#000">Φ</text>
<text x="811.2" y="983.6" font-size="82.0" text-anchor="start" fill="#000">EET</text>
<text x="0.0" y="0.0" font-size="116.0" text-anchor="start" fill="#000" transform="translate(955.57,949.35) scale(1.113,0.775)">=</text>
<text x="1053.1" y="959.3" font-size="117.0" font-weight="bold" text-anchor="start" fill="#000">81 %</text>
<text x="714.5" y="1757.5" font-size="116.0" text-anchor="start" fill="#000">Φ</text>
<text x="800.2" y="1783.0" font-size="82.0" text-anchor="start" fill="#000">EET</text>
<text x="0.0" y="0.0" font-size="116.0" text-anchor="start" fill="#000" transform="translate(941.87,1749.40) scale(1.113,0.814)">=</text>
<text x="1039.2" y="1758.0" font-size="117.0" font-weight="bold" text-anchor="start" fill="#000">94 %</text>
<text x="991.7" y="1196.6" font-size="65.0" text-anchor="start" fill="#000">Φ</text>
<text x="1041.5" y="1212.6" font-size="43.0" text-anchor="start" fill="#000">EET</text>
<text x="0.0" y="0.0" font-size="65.0" text-anchor="start" fill="#000" transform="translate(1123.34,1199.47) scale(1.131,1.053)">=</text>
<text x="1176.8" y="1199.0" font-size="67.3" font-weight="bold" text-anchor="start" fill="#000">54 %</text>
<line x1="866.4" y1="408.9" x2="943.2" y2="408.9" stroke="#ff0000" stroke-width="9"/>
<text x="959.0" y="421.5" font-size="40.6" font-weight="bold" text-anchor="start" fill="#111">1-T</text>
<line x1="866.4" y1="455.2" x2="943.2" y2="455.2" stroke="#0000ff" stroke-width="9"/>
<text x="959.0" y="467.8" font-size="40.6" font-weight="bold" text-anchor="start" fill="#111">Ex</text>
<line x1="866.4" y1="500.8" x2="943.2" y2="500.8" stroke="#00cc00" stroke-width="9"/>
<text x="959.0" y="513.4" font-size="40.6" font-weight="bold" text-anchor="start" fill="#111">Em</text>
<line x1="866.4" y1="547.1" x2="943.2" y2="547.1" stroke="#777777" stroke-width="5"/>
<text x="959.0" y="559.7" font-size="40.6" font-weight="bold" text-anchor="start" fill="#111">EET efficiency</text>
<line x1="793.6" y1="1277.9" x2="870.4" y2="1277.9" stroke="#ff0000" stroke-width="9"/>
<text x="888.6" y="1290.5" font-size="40.6" font-weight="bold" text-anchor="start" fill="#111">1-T</text>
<line x1="793.6" y1="1324.0" x2="870.4" y2="1324.0" stroke="#0000ff" stroke-width="9"/>
<text x="888.6" y="1336.6" font-size="40.6" font-weight="bold" text-anchor="start" fill="#111">Ex</text>
<line x1="793.6" y1="1369.6" x2="870.4" y2="1369.6" stroke="#00cc00" stroke-width="9"/>
<text x="888.6" y="1382.2" font-size="40.6" font-weight="bold" text-anchor="start" fill="#111">Em</text>
<line x1="793.6" y1="1416.4" x2="870.4" y2="1416.4" stroke="#111111" stroke-width="5"/>
<text x="888.6" y="1429.0" font-size="40.6" font-weight="bold" text-anchor="start" fill="#111">EET efficiency</text>
<line x1="838.0" y1="1920.3" x2="914.8" y2="1920.3" stroke="#ff0000" stroke-width="9"/>
<text x="933.0" y="1932.9" font-size="40.6" font-weight="bold" text-anchor="start" fill="#111">1-T</text>
<line x1="838.0" y1="1966.4" x2="914.8" y2="1966.4" stroke="#0000ff" stroke-width="9"/>
<text x="933.0" y="1979.0" font-size="40.6" font-weight="bold" text-anchor="start" fill="#111">Ex</text>
<line x1="838.0" y1="2012.0" x2="914.8" y2="2012.0" stroke="#00cc00" stroke-width="9"/>
<text x="933.0" y="2024.6" font-size="40.6" font-weight="bold" text-anchor="start" fill="#111">Em</text>
<line x1="838.0" y1="2058.0" x2="914.8" y2="2058.0" stroke="#111111" stroke-width="5"/>
<text x="933.0" y="2070.6" font-size="40.6" font-weight="bold" text-anchor="start" fill="#111">EET efficiency</text>
<line x1="727.3" y1="311.8" x2="816.0" y2="311.8" stroke="#000" stroke-width="5.5"/>
<polygon points="813.2,285.3 813.2,338.2 881.0,311.8" fill="#000"/>
<line x1="741.8" y1="1085.2" x2="830.0" y2="1085.2" stroke="#000" stroke-width="5.5"/>
<polygon points="827.6,1058.8 827.6,1110.3 894.9,1085.2" fill="#000"/>
<line x1="759.7" y1="1804.8" x2="849.0" y2="1804.8" stroke="#000" stroke-width="5.5"/>
<polygon points="846.7,1781.4 846.7,1831.1 914.3,1804.8" fill="#000"/>
<line x1="1530.5" y1="1261.3" x2="1586.0" y2="1261.3" stroke="#000" stroke-width="5.5"/>
<polygon points="1583.4,1234.9 1583.4,1287.8 1650.2,1261.3" fill="#000"/>
</svg>
</body></html>
